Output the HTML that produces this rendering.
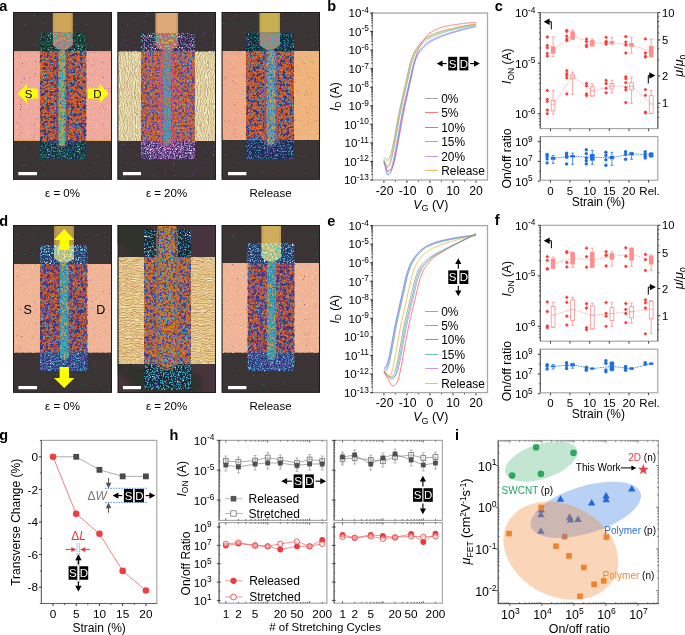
<!DOCTYPE html>
<html><head><meta charset="utf-8"><style>
html,body{margin:0;padding:0;background:#fff;}
svg{display:block;will-change:transform;font-family:"Liberation Sans", sans-serif;}
</style></head><body>
<svg width="685" height="635" viewBox="0 0 685 635">
<defs><filter id="tx1" filterUnits="userSpaceOnUse" x="13" y="12" width="99" height="167.8" color-interpolation-filters="sRGB"><feTurbulence type="fractalNoise" baseFrequency="0.9" numOctaves="1" seed="11" result="t"/><feColorMatrix in="t" type="matrix" values="0 0 0 0 0 0 0 0 0 0 0 0 0 0 0 28.000 0 0 0 -20.476" result="m"/><feFlood flood-color="#2a6a58" result="c"/><feComposite in="c" in2="m" operator="in"/><feGaussianBlur stdDeviation="0.35"/></filter><filter id="tx2" filterUnits="userSpaceOnUse" x="13" y="51" width="99" height="90" color-interpolation-filters="sRGB"><feTurbulence type="fractalNoise" baseFrequency="0.93" numOctaves="1" seed="3" result="t"/><feColorMatrix in="t" type="matrix" values="0 0 0 0 0 0 0 0 0 0 0 0 0 0 0 24.000 0 0 0 -17.326" result="m"/><feFlood flood-color="#9a5a78" result="c"/><feComposite in="c" in2="m" operator="in"/><feGaussianBlur stdDeviation="0.35"/></filter><filter id="tx3" filterUnits="userSpaceOnUse" x="13" y="51" width="99" height="90" color-interpolation-filters="sRGB"><feTurbulence type="fractalNoise" baseFrequency="0.8" numOctaves="1" seed="4" result="t"/><feColorMatrix in="t" type="matrix" values="0 0 0 0 0 0 0 0 0 0 0 0 0 0 0 20.000 0 0 0 -12.446" result="m"/><feFlood flood-color="#f6bcae" result="c"/><feComposite in="c" in2="m" operator="in"/><feGaussianBlur stdDeviation="0.35"/></filter><filter id="tx4" filterUnits="userSpaceOnUse" x="39.9" y="32.5" width="46.50000000000001" height="18.5" color-interpolation-filters="sRGB"><feTurbulence type="fractalNoise" baseFrequency="0.7" numOctaves="2" seed="2" result="t"/><feColorMatrix in="t" type="matrix" values="0 0 0 0 0 0 0 0 0 0 0 0 0 0 0 20.000 0 0 0 -11.104" result="m"/><feFlood flood-color="#2a7a6c" result="c"/><feComposite in="c" in2="m" operator="in"/><feGaussianBlur stdDeviation="0.35"/></filter><filter id="tx5" filterUnits="userSpaceOnUse" x="39.9" y="32.5" width="46.50000000000001" height="18.5" color-interpolation-filters="sRGB"><feTurbulence type="fractalNoise" baseFrequency="0.93" numOctaves="1" seed="7" result="t"/><feColorMatrix in="t" type="matrix" values="0 0 0 0 0 0 0 0 0 0 0 0 0 0 0 24.000 0 0 0 -16.658" result="m"/><feFlood flood-color="#a8e0d0" result="c"/><feComposite in="c" in2="m" operator="in"/><feGaussianBlur stdDeviation="0.35"/></filter><filter id="tx6" filterUnits="userSpaceOnUse" x="39.9" y="32.5" width="46.50000000000001" height="18.5" color-interpolation-filters="sRGB"><feTurbulence type="fractalNoise" baseFrequency="0.8" numOctaves="1" seed="9" result="t"/><feColorMatrix in="t" type="matrix" values="0 0 0 0 0 0 0 0 0 0 0 0 0 0 0 24.000 0 0 0 -15.979" result="m"/><feFlood flood-color="#5a4a90" result="c"/><feComposite in="c" in2="m" operator="in"/><feGaussianBlur stdDeviation="0.35"/></filter><filter id="tx7" filterUnits="userSpaceOnUse" x="39.9" y="51" width="46.50000000000001" height="90" color-interpolation-filters="sRGB"><feTurbulence type="fractalNoise" baseFrequency="0.3" numOctaves="2" seed="5" result="t"/><feColorMatrix in="t" type="matrix" values="0 0 0 0 0 0 0 0 0 0 0 0 0 0 0 18.000 0 0 0 -9.538" result="m"/><feFlood flood-color="#2a3f8a" result="c"/><feComposite in="c" in2="m" operator="in"/><feGaussianBlur stdDeviation="0.35"/></filter><filter id="tx8" filterUnits="userSpaceOnUse" x="39.9" y="51" width="46.50000000000001" height="90" color-interpolation-filters="sRGB"><feTurbulence type="fractalNoise" baseFrequency="0.4" numOctaves="2" seed="9" result="t"/><feColorMatrix in="t" type="matrix" values="0 0 0 0 0 0 0 0 0 0 0 0 0 0 0 20.000 0 0 0 -12.773" result="m"/><feFlood flood-color="#5a3a88" result="c"/><feComposite in="c" in2="m" operator="in"/><feGaussianBlur stdDeviation="0.35"/></filter><filter id="tx9" filterUnits="userSpaceOnUse" x="39.9" y="51" width="46.50000000000001" height="90" color-interpolation-filters="sRGB"><feTurbulence type="fractalNoise" baseFrequency="0.5" numOctaves="2" seed="6" result="t"/><feColorMatrix in="t" type="matrix" values="0 0 0 0 0 0 0 0 0 0 0 0 0 0 0 20.000 0 0 0 -12.773" result="m"/><feFlood flood-color="#33a0aa" result="c"/><feComposite in="c" in2="m" operator="in"/><feGaussianBlur stdDeviation="0.35"/></filter><filter id="tx10" filterUnits="userSpaceOnUse" x="39.9" y="51" width="46.50000000000001" height="90" color-interpolation-filters="sRGB"><feTurbulence type="fractalNoise" baseFrequency="0.6" numOctaves="2" seed="7" result="t"/><feColorMatrix in="t" type="matrix" values="0 0 0 0 0 0 0 0 0 0 0 0 0 0 0 20.000 0 0 0 -12.773" result="m"/><feFlood flood-color="#e8823e" result="c"/><feComposite in="c" in2="m" operator="in"/><feGaussianBlur stdDeviation="0.35"/></filter><filter id="tx11" filterUnits="userSpaceOnUse" x="39.9" y="51" width="46.50000000000001" height="90" color-interpolation-filters="sRGB"><feTurbulence type="fractalNoise" baseFrequency="0.7" numOctaves="2" seed="8" result="t"/><feColorMatrix in="t" type="matrix" values="0 0 0 0 0 0 0 0 0 0 0 0 0 0 0 20.000 0 0 0 -13.316" result="m"/><feFlood flood-color="#6a2448" result="c"/><feComposite in="c" in2="m" operator="in"/><feGaussianBlur stdDeviation="0.35"/></filter><filter id="tx12" filterUnits="userSpaceOnUse" x="39.9" y="141" width="46.50000000000001" height="18.30000000000001" color-interpolation-filters="sRGB"><feTurbulence type="fractalNoise" baseFrequency="0.7" numOctaves="2" seed="12" result="t"/><feColorMatrix in="t" type="matrix" values="0 0 0 0 0 0 0 0 0 0 0 0 0 0 0 20.000 0 0 0 -10.973" result="m"/><feFlood flood-color="#2a8a84" result="c"/><feComposite in="c" in2="m" operator="in"/><feGaussianBlur stdDeviation="0.35"/></filter><filter id="tx13" filterUnits="userSpaceOnUse" x="39.9" y="141" width="46.50000000000001" height="18.30000000000001" color-interpolation-filters="sRGB"><feTurbulence type="fractalNoise" baseFrequency="0.7" numOctaves="2" seed="13" result="t"/><feColorMatrix in="t" type="matrix" values="0 0 0 0 0 0 0 0 0 0 0 0 0 0 0 20.000 0 0 0 -11.986" result="m"/><feFlood flood-color="#2c4494" result="c"/><feComposite in="c" in2="m" operator="in"/><feGaussianBlur stdDeviation="0.35"/></filter><filter id="tx14" filterUnits="userSpaceOnUse" x="39.9" y="141" width="46.50000000000001" height="18.30000000000001" color-interpolation-filters="sRGB"><feTurbulence type="fractalNoise" baseFrequency="0.93" numOctaves="1" seed="14" result="t"/><feColorMatrix in="t" type="matrix" values="0 0 0 0 0 0 0 0 0 0 0 0 0 0 0 24.000 0 0 0 -16.958" result="m"/><feFlood flood-color="#90d0e0" result="c"/><feComposite in="c" in2="m" operator="in"/><feGaussianBlur stdDeviation="0.35"/></filter><filter id="tx15" filterUnits="userSpaceOnUse" x="52.8" y="32.5" width="20.0" height="22.5" color-interpolation-filters="sRGB"><feTurbulence type="fractalNoise" baseFrequency="0.5" numOctaves="2" seed="15" result="t"/><feColorMatrix in="t" type="matrix" values="0 0 0 0 0 0 0 0 0 0 0 0 0 0 0 20.000 0 0 0 -10.909" result="m"/><feFlood flood-color="#40b0a0" result="c"/><feComposite in="c" in2="m" operator="in"/><feGaussianBlur stdDeviation="0.35"/></filter><filter id="tx16" filterUnits="userSpaceOnUse" x="52.8" y="32.5" width="20.0" height="22.5" color-interpolation-filters="sRGB"><feTurbulence type="fractalNoise" baseFrequency="0.5" numOctaves="2" seed="16" result="t"/><feColorMatrix in="t" type="matrix" values="0 0 0 0 0 0 0 0 0 0 0 0 0 0 0 20.000 0 0 0 -11.986" result="m"/><feFlood flood-color="#e070a0" result="c"/><feComposite in="c" in2="m" operator="in"/><feGaussianBlur stdDeviation="0.35"/></filter><filter id="tx17" filterUnits="userSpaceOnUse" x="52.8" y="32.5" width="20.0" height="22.5" color-interpolation-filters="sRGB"><feTurbulence type="fractalNoise" baseFrequency="0.5" numOctaves="2" seed="17" result="t"/><feColorMatrix in="t" type="matrix" values="0 0 0 0 0 0 0 0 0 0 0 0 0 0 0 20.000 0 0 0 -11.986" result="m"/><feFlood flood-color="#e0a040" result="c"/><feComposite in="c" in2="m" operator="in"/><feGaussianBlur stdDeviation="0.35"/></filter><filter id="tx18" filterUnits="userSpaceOnUse" x="58.4" y="50" width="7.199999999999996" height="96" color-interpolation-filters="sRGB"><feTurbulence type="fractalNoise" baseFrequency="0.5 0.3" numOctaves="2" seed="18" result="t"/><feColorMatrix in="t" type="matrix" values="0 0 0 0 0 0 0 0 0 0 0 0 0 0 0 20.000 0 0 0 -10.297" result="m"/><feFlood flood-color="#30b0a0" result="c"/><feComposite in="c" in2="m" operator="in"/><feGaussianBlur stdDeviation="0.35"/></filter><filter id="tx19" filterUnits="userSpaceOnUse" x="58.4" y="50" width="7.199999999999996" height="96" color-interpolation-filters="sRGB"><feTurbulence type="fractalNoise" baseFrequency="0.7" numOctaves="2" seed="19" result="t"/><feColorMatrix in="t" type="matrix" values="0 0 0 0 0 0 0 0 0 0 0 0 0 0 0 20.000 0 0 0 -12.773" result="m"/><feFlood flood-color="#2a5a9a" result="c"/><feComposite in="c" in2="m" operator="in"/><feGaussianBlur stdDeviation="0.35"/></filter><filter id="tx20" filterUnits="userSpaceOnUse" x="117.4" y="12" width="98.6" height="167.8" color-interpolation-filters="sRGB"><feTurbulence type="fractalNoise" baseFrequency="0.9" numOctaves="1" seed="23" result="t"/><feColorMatrix in="t" type="matrix" values="0 0 0 0 0 0 0 0 0 0 0 0 0 0 0 28.000 0 0 0 -20.214" result="m"/><feFlood flood-color="#7a4a9a" result="c"/><feComposite in="c" in2="m" operator="in"/><feGaussianBlur stdDeviation="0.35"/></filter><filter id="tx21" filterUnits="userSpaceOnUse" x="117.4" y="51.6" width="98.6" height="89.4" color-interpolation-filters="sRGB"><feTurbulence type="fractalNoise" baseFrequency="0.93 0.14" numOctaves="2" seed="24" result="t"/><feColorMatrix in="t" type="matrix" values="0 0 0 0 0 0 0 0 0 0 0 0 0 0 0 20.000 0 0 0 -11.986" result="m"/><feFlood flood-color="#e8cc98" result="c"/><feComposite in="c" in2="m" operator="in"/><feGaussianBlur stdDeviation="0.35"/></filter><filter id="tx22" filterUnits="userSpaceOnUse" x="117.4" y="51.6" width="98.6" height="89.4" color-interpolation-filters="sRGB"><feTurbulence type="fractalNoise" baseFrequency="0.93 0.2" numOctaves="1" seed="26" result="t"/><feColorMatrix in="t" type="matrix" values="0 0 0 0 0 0 0 0 0 0 0 0 0 0 0 20.000 0 0 0 -12.446" result="m"/><feFlood flood-color="#faf4dc" result="c"/><feComposite in="c" in2="m" operator="in"/><feGaussianBlur stdDeviation="0.35"/></filter><pattern id="pla2" width="2.7" height="6" patternUnits="userSpaceOnUse"><rect width="0.9" height="6" fill="#8a6a60"/></pattern><filter id="wva2" filterUnits="userSpaceOnUse" x="117.4" y="51.6" width="98.6" height="89.4"><feTurbulence type="fractalNoise" baseFrequency="0.08 0.16" numOctaves="2" seed="7" result="t"/><feDisplacementMap in="SourceGraphic" in2="t" scale="7" xChannelSelector="R" yChannelSelector="G"/></filter><filter id="tx23" filterUnits="userSpaceOnUse" x="141" y="33" width="54" height="18.6" color-interpolation-filters="sRGB"><feTurbulence type="fractalNoise" baseFrequency="0.7" numOctaves="2" seed="26" result="t"/><feColorMatrix in="t" type="matrix" values="0 0 0 0 0 0 0 0 0 0 0 0 0 0 0 20.000 0 0 0 -11.238" result="m"/><feFlood flood-color="#8a6ab0" result="c"/><feComposite in="c" in2="m" operator="in"/><feGaussianBlur stdDeviation="0.35"/></filter><filter id="tx24" filterUnits="userSpaceOnUse" x="141" y="33" width="54" height="18.6" color-interpolation-filters="sRGB"><feTurbulence type="fractalNoise" baseFrequency="0.7" numOctaves="2" seed="27" result="t"/><feColorMatrix in="t" type="matrix" values="0 0 0 0 0 0 0 0 0 0 0 0 0 0 0 20.000 0 0 0 -11.986" result="m"/><feFlood flood-color="#3aa0a8" result="c"/><feComposite in="c" in2="m" operator="in"/><feGaussianBlur stdDeviation="0.35"/></filter><filter id="tx25" filterUnits="userSpaceOnUse" x="141" y="33" width="54" height="18.6" color-interpolation-filters="sRGB"><feTurbulence type="fractalNoise" baseFrequency="0.93" numOctaves="1" seed="28" result="t"/><feColorMatrix in="t" type="matrix" values="0 0 0 0 0 0 0 0 0 0 0 0 0 0 0 24.000 0 0 0 -16.403" result="m"/><feFlood flood-color="#e0e0f0" result="c"/><feComposite in="c" in2="m" operator="in"/><feGaussianBlur stdDeviation="0.35"/></filter><filter id="tx26" filterUnits="userSpaceOnUse" x="141" y="51.6" width="54" height="89.4" color-interpolation-filters="sRGB"><feTurbulence type="fractalNoise" baseFrequency="0.4" numOctaves="3" seed="29" result="t"/><feColorMatrix in="t" type="matrix" values="0 0 0 0 0 0 0 0 0 0 0 0 0 0 0 18.000 0 0 0 -9.538" result="m"/><feFlood flood-color="#4448a8" result="c"/><feComposite in="c" in2="m" operator="in"/><feGaussianBlur stdDeviation="0.35"/></filter><filter id="tx27" filterUnits="userSpaceOnUse" x="141" y="51.6" width="54" height="89.4" color-interpolation-filters="sRGB"><feTurbulence type="fractalNoise" baseFrequency="0.6" numOctaves="2" seed="30" result="t"/><feColorMatrix in="t" type="matrix" values="0 0 0 0 0 0 0 0 0 0 0 0 0 0 0 20.000 0 0 0 -12.550" result="m"/><feFlood flood-color="#9a3a88" result="c"/><feComposite in="c" in2="m" operator="in"/><feGaussianBlur stdDeviation="0.35"/></filter><filter id="tx28" filterUnits="userSpaceOnUse" x="141" y="51.6" width="54" height="89.4" color-interpolation-filters="sRGB"><feTurbulence type="fractalNoise" baseFrequency="0.7" numOctaves="2" seed="31" result="t"/><feColorMatrix in="t" type="matrix" values="0 0 0 0 0 0 0 0 0 0 0 0 0 0 0 20.000 0 0 0 -13.483" result="m"/><feFlood flood-color="#40b0c0" result="c"/><feComposite in="c" in2="m" operator="in"/><feGaussianBlur stdDeviation="0.35"/></filter><filter id="tx29" filterUnits="userSpaceOnUse" x="141" y="51.6" width="54" height="89.4" color-interpolation-filters="sRGB"><feTurbulence type="fractalNoise" baseFrequency="0.7" numOctaves="2" seed="32" result="t"/><feColorMatrix in="t" type="matrix" values="0 0 0 0 0 0 0 0 0 0 0 0 0 0 0 20.000 0 0 0 -13.024" result="m"/><feFlood flood-color="#e09048" result="c"/><feComposite in="c" in2="m" operator="in"/><feGaussianBlur stdDeviation="0.35"/></filter><filter id="tx30" filterUnits="userSpaceOnUse" x="141" y="141" width="54" height="18.30000000000001" color-interpolation-filters="sRGB"><feTurbulence type="fractalNoise" baseFrequency="0.7" numOctaves="2" seed="33" result="t"/><feColorMatrix in="t" type="matrix" values="0 0 0 0 0 0 0 0 0 0 0 0 0 0 0 20.000 0 0 0 -10.909" result="m"/><feFlood flood-color="#d090d0" result="c"/><feComposite in="c" in2="m" operator="in"/><feGaussianBlur stdDeviation="0.35"/></filter><filter id="tx31" filterUnits="userSpaceOnUse" x="141" y="141" width="54" height="18.30000000000001" color-interpolation-filters="sRGB"><feTurbulence type="fractalNoise" baseFrequency="0.7" numOctaves="2" seed="34" result="t"/><feColorMatrix in="t" type="matrix" values="0 0 0 0 0 0 0 0 0 0 0 0 0 0 0 20.000 0 0 0 -11.238" result="m"/><feFlood flood-color="#302a58" result="c"/><feComposite in="c" in2="m" operator="in"/><feGaussianBlur stdDeviation="0.35"/></filter><filter id="tx32" filterUnits="userSpaceOnUse" x="141" y="141" width="54" height="18.30000000000001" color-interpolation-filters="sRGB"><feTurbulence type="fractalNoise" baseFrequency="0.93" numOctaves="1" seed="35" result="t"/><feColorMatrix in="t" type="matrix" values="0 0 0 0 0 0 0 0 0 0 0 0 0 0 0 24.000 0 0 0 -16.179" result="m"/><feFlood flood-color="#e8e8f8" result="c"/><feComposite in="c" in2="m" operator="in"/><feGaussianBlur stdDeviation="0.35"/></filter><filter id="tx33" filterUnits="userSpaceOnUse" x="155.4" y="33" width="22.599999999999994" height="22.6" color-interpolation-filters="sRGB"><feTurbulence type="fractalNoise" baseFrequency="0.5" numOctaves="2" seed="36" result="t"/><feColorMatrix in="t" type="matrix" values="0 0 0 0 0 0 0 0 0 0 0 0 0 0 0 20.000 0 0 0 -11.238" result="m"/><feFlood flood-color="#60c0a0" result="c"/><feComposite in="c" in2="m" operator="in"/><feGaussianBlur stdDeviation="0.35"/></filter><filter id="tx34" filterUnits="userSpaceOnUse" x="155.4" y="33" width="22.599999999999994" height="22.6" color-interpolation-filters="sRGB"><feTurbulence type="fractalNoise" baseFrequency="0.5" numOctaves="2" seed="37" result="t"/><feColorMatrix in="t" type="matrix" values="0 0 0 0 0 0 0 0 0 0 0 0 0 0 0 20.000 0 0 0 -11.986" result="m"/><feFlood flood-color="#e0c040" result="c"/><feComposite in="c" in2="m" operator="in"/><feGaussianBlur stdDeviation="0.35"/></filter><filter id="tx35" filterUnits="userSpaceOnUse" x="162.5" y="50" width="8.5" height="96" color-interpolation-filters="sRGB"><feTurbulence type="fractalNoise" baseFrequency="0.6" numOctaves="2" seed="38" result="t"/><feColorMatrix in="t" type="matrix" values="0 0 0 0 0 0 0 0 0 0 0 0 0 0 0 20.000 0 0 0 -10.909" result="m"/><feFlood flood-color="#30b0b0" result="c"/><feComposite in="c" in2="m" operator="in"/><feGaussianBlur stdDeviation="0.35"/></filter><filter id="tx36" filterUnits="userSpaceOnUse" x="162.5" y="50" width="8.5" height="96" color-interpolation-filters="sRGB"><feTurbulence type="fractalNoise" baseFrequency="0.6" numOctaves="2" seed="39" result="t"/><feColorMatrix in="t" type="matrix" values="0 0 0 0 0 0 0 0 0 0 0 0 0 0 0 20.000 0 0 0 -11.986" result="m"/><feFlood flood-color="#d08040" result="c"/><feComposite in="c" in2="m" operator="in"/><feGaussianBlur stdDeviation="0.35"/></filter><filter id="tx37" filterUnits="userSpaceOnUse" x="221.6" y="12" width="98.4" height="167.8" color-interpolation-filters="sRGB"><feTurbulence type="fractalNoise" baseFrequency="0.9" numOctaves="1" seed="11" result="t"/><feColorMatrix in="t" type="matrix" values="0 0 0 0 0 0 0 0 0 0 0 0 0 0 0 28.000 0 0 0 -20.476" result="m"/><feFlood flood-color="#2a6a58" result="c"/><feComposite in="c" in2="m" operator="in"/><feGaussianBlur stdDeviation="0.35"/></filter><filter id="tx38" filterUnits="userSpaceOnUse" x="221.6" y="51" width="98.4" height="89" color-interpolation-filters="sRGB"><feTurbulence type="fractalNoise" baseFrequency="0.93" numOctaves="1" seed="41" result="t"/><feColorMatrix in="t" type="matrix" values="0 0 0 0 0 0 0 0 0 0 0 0 0 0 0 24.000 0 0 0 -16.658" result="m"/><feFlood flood-color="#a06a70" result="c"/><feComposite in="c" in2="m" operator="in"/><feGaussianBlur stdDeviation="0.35"/></filter><filter id="tx39" filterUnits="userSpaceOnUse" x="221.6" y="51" width="98.4" height="89" color-interpolation-filters="sRGB"><feTurbulence type="fractalNoise" baseFrequency="0.8" numOctaves="1" seed="42" result="t"/><feColorMatrix in="t" type="matrix" values="0 0 0 0 0 0 0 0 0 0 0 0 0 0 0 20.000 0 0 0 -12.446" result="m"/><feFlood flood-color="#f6c49a" result="c"/><feComposite in="c" in2="m" operator="in"/><feGaussianBlur stdDeviation="0.35"/></filter><linearGradient id="bga3" x1="0" x2="1" y1="0" y2="0"><stop offset="0" stop-color="#f0a0a0" stop-opacity="0.35"/><stop offset="1" stop-color="#f0c060" stop-opacity="0.35"/></linearGradient><filter id="tx40" filterUnits="userSpaceOnUse" x="246" y="32.5" width="48" height="18.5" color-interpolation-filters="sRGB"><feTurbulence type="fractalNoise" baseFrequency="0.7" numOctaves="2" seed="43" result="t"/><feColorMatrix in="t" type="matrix" values="0 0 0 0 0 0 0 0 0 0 0 0 0 0 0 20.000 0 0 0 -11.238" result="m"/><feFlood flood-color="#2a8090" result="c"/><feComposite in="c" in2="m" operator="in"/><feGaussianBlur stdDeviation="0.35"/></filter><filter id="tx41" filterUnits="userSpaceOnUse" x="246" y="32.5" width="48" height="18.5" color-interpolation-filters="sRGB"><feTurbulence type="fractalNoise" baseFrequency="0.93" numOctaves="1" seed="44" result="t"/><feColorMatrix in="t" type="matrix" values="0 0 0 0 0 0 0 0 0 0 0 0 0 0 0 24.000 0 0 0 -16.958" result="m"/><feFlood flood-color="#a0e0e0" result="c"/><feComposite in="c" in2="m" operator="in"/><feGaussianBlur stdDeviation="0.35"/></filter><filter id="tx42" filterUnits="userSpaceOnUse" x="246" y="32.5" width="48" height="18.5" color-interpolation-filters="sRGB"><feTurbulence type="fractalNoise" baseFrequency="0.8" numOctaves="1" seed="45" result="t"/><feColorMatrix in="t" type="matrix" values="0 0 0 0 0 0 0 0 0 0 0 0 0 0 0 24.000 0 0 0 -15.328" result="m"/><feFlood flood-color="#4a3a90" result="c"/><feComposite in="c" in2="m" operator="in"/><feGaussianBlur stdDeviation="0.35"/></filter><filter id="tx43" filterUnits="userSpaceOnUse" x="246" y="51" width="48" height="89" color-interpolation-filters="sRGB"><feTurbulence type="fractalNoise" baseFrequency="0.3" numOctaves="2" seed="53" result="t"/><feColorMatrix in="t" type="matrix" values="0 0 0 0 0 0 0 0 0 0 0 0 0 0 0 18.000 0 0 0 -9.649" result="m"/><feFlood flood-color="#2a3f8a" result="c"/><feComposite in="c" in2="m" operator="in"/><feGaussianBlur stdDeviation="0.35"/></filter><filter id="tx44" filterUnits="userSpaceOnUse" x="246" y="51" width="48" height="89" color-interpolation-filters="sRGB"><feTurbulence type="fractalNoise" baseFrequency="0.4" numOctaves="2" seed="57" result="t"/><feColorMatrix in="t" type="matrix" values="0 0 0 0 0 0 0 0 0 0 0 0 0 0 0 20.000 0 0 0 -12.773" result="m"/><feFlood flood-color="#5a3a88" result="c"/><feComposite in="c" in2="m" operator="in"/><feGaussianBlur stdDeviation="0.35"/></filter><filter id="tx45" filterUnits="userSpaceOnUse" x="246" y="51" width="48" height="89" color-interpolation-filters="sRGB"><feTurbulence type="fractalNoise" baseFrequency="0.5" numOctaves="2" seed="54" result="t"/><feColorMatrix in="t" type="matrix" values="0 0 0 0 0 0 0 0 0 0 0 0 0 0 0 20.000 0 0 0 -12.773" result="m"/><feFlood flood-color="#33a0aa" result="c"/><feComposite in="c" in2="m" operator="in"/><feGaussianBlur stdDeviation="0.35"/></filter><filter id="tx46" filterUnits="userSpaceOnUse" x="246" y="51" width="48" height="89" color-interpolation-filters="sRGB"><feTurbulence type="fractalNoise" baseFrequency="0.6" numOctaves="2" seed="55" result="t"/><feColorMatrix in="t" type="matrix" values="0 0 0 0 0 0 0 0 0 0 0 0 0 0 0 20.000 0 0 0 -12.773" result="m"/><feFlood flood-color="#e8823e" result="c"/><feComposite in="c" in2="m" operator="in"/><feGaussianBlur stdDeviation="0.35"/></filter><filter id="tx47" filterUnits="userSpaceOnUse" x="246" y="51" width="48" height="89" color-interpolation-filters="sRGB"><feTurbulence type="fractalNoise" baseFrequency="0.7" numOctaves="2" seed="56" result="t"/><feColorMatrix in="t" type="matrix" values="0 0 0 0 0 0 0 0 0 0 0 0 0 0 0 20.000 0 0 0 -13.316" result="m"/><feFlood flood-color="#6a2448" result="c"/><feComposite in="c" in2="m" operator="in"/><feGaussianBlur stdDeviation="0.35"/></filter><filter id="tx48" filterUnits="userSpaceOnUse" x="246" y="140" width="48" height="19.30000000000001" color-interpolation-filters="sRGB"><feTurbulence type="fractalNoise" baseFrequency="0.7" numOctaves="2" seed="46" result="t"/><feColorMatrix in="t" type="matrix" values="0 0 0 0 0 0 0 0 0 0 0 0 0 0 0 20.000 0 0 0 -11.238" result="m"/><feFlood flood-color="#2f8a9a" result="c"/><feComposite in="c" in2="m" operator="in"/><feGaussianBlur stdDeviation="0.35"/></filter><filter id="tx49" filterUnits="userSpaceOnUse" x="246" y="140" width="48" height="19.30000000000001" color-interpolation-filters="sRGB"><feTurbulence type="fractalNoise" baseFrequency="0.7" numOctaves="2" seed="47" result="t"/><feColorMatrix in="t" type="matrix" values="0 0 0 0 0 0 0 0 0 0 0 0 0 0 0 20.000 0 0 0 -12.160" result="m"/><feFlood flood-color="#5a4a98" result="c"/><feComposite in="c" in2="m" operator="in"/><feGaussianBlur stdDeviation="0.35"/></filter><filter id="tx50" filterUnits="userSpaceOnUse" x="246" y="140" width="48" height="19.30000000000001" color-interpolation-filters="sRGB"><feTurbulence type="fractalNoise" baseFrequency="0.93" numOctaves="1" seed="48" result="t"/><feColorMatrix in="t" type="matrix" values="0 0 0 0 0 0 0 0 0 0 0 0 0 0 0 24.000 0 0 0 -16.958" result="m"/><feFlood flood-color="#90d0e0" result="c"/><feComposite in="c" in2="m" operator="in"/><feGaussianBlur stdDeviation="0.35"/></filter><filter id="tx51" filterUnits="userSpaceOnUse" x="259.4" y="32.5" width="20.600000000000023" height="22.5" color-interpolation-filters="sRGB"><feTurbulence type="fractalNoise" baseFrequency="0.5" numOctaves="2" seed="49" result="t"/><feColorMatrix in="t" type="matrix" values="0 0 0 0 0 0 0 0 0 0 0 0 0 0 0 20.000 0 0 0 -10.909" result="m"/><feFlood flood-color="#40b0b0" result="c"/><feComposite in="c" in2="m" operator="in"/><feGaussianBlur stdDeviation="0.35"/></filter><filter id="tx52" filterUnits="userSpaceOnUse" x="259.4" y="32.5" width="20.600000000000023" height="22.5" color-interpolation-filters="sRGB"><feTurbulence type="fractalNoise" baseFrequency="0.5" numOctaves="2" seed="50" result="t"/><feColorMatrix in="t" type="matrix" values="0 0 0 0 0 0 0 0 0 0 0 0 0 0 0 20.000 0 0 0 -12.160" result="m"/><feFlood flood-color="#d070a0" result="c"/><feComposite in="c" in2="m" operator="in"/><feGaussianBlur stdDeviation="0.35"/></filter><filter id="tx53" filterUnits="userSpaceOnUse" x="266.6" y="50" width="9.0" height="95" color-interpolation-filters="sRGB"><feTurbulence type="fractalNoise" baseFrequency="0.5 0.3" numOctaves="2" seed="51" result="t"/><feColorMatrix in="t" type="matrix" values="0 0 0 0 0 0 0 0 0 0 0 0 0 0 0 20.000 0 0 0 -10.909" result="m"/><feFlood flood-color="#c0a060" result="c"/><feComposite in="c" in2="m" operator="in"/><feGaussianBlur stdDeviation="0.35"/></filter><filter id="tx54" filterUnits="userSpaceOnUse" x="266.6" y="50" width="9.0" height="95" color-interpolation-filters="sRGB"><feTurbulence type="fractalNoise" baseFrequency="0.7" numOctaves="2" seed="52" result="t"/><feColorMatrix in="t" type="matrix" values="0 0 0 0 0 0 0 0 0 0 0 0 0 0 0 20.000 0 0 0 -12.446" result="m"/><feFlood flood-color="#2a5aa0" result="c"/><feComposite in="c" in2="m" operator="in"/><feGaussianBlur stdDeviation="0.35"/></filter><filter id="tx55" filterUnits="userSpaceOnUse" x="13" y="225" width="99" height="167.8" color-interpolation-filters="sRGB"><feTurbulence type="fractalNoise" baseFrequency="0.9" numOctaves="1" seed="11" result="t"/><feColorMatrix in="t" type="matrix" values="0 0 0 0 0 0 0 0 0 0 0 0 0 0 0 28.000 0 0 0 -20.476" result="m"/><feFlood flood-color="#2a6a58" result="c"/><feComposite in="c" in2="m" operator="in"/><feGaussianBlur stdDeviation="0.35"/></filter><filter id="tx56" filterUnits="userSpaceOnUse" x="13" y="264" width="99" height="88.60000000000002" color-interpolation-filters="sRGB"><feTurbulence type="fractalNoise" baseFrequency="0.93" numOctaves="1" seed="61" result="t"/><feColorMatrix in="t" type="matrix" values="0 0 0 0 0 0 0 0 0 0 0 0 0 0 0 24.000 0 0 0 -17.551" result="m"/><feFlood flood-color="#8a5a7a" result="c"/><feComposite in="c" in2="m" operator="in"/><feGaussianBlur stdDeviation="0.35"/></filter><filter id="tx57" filterUnits="userSpaceOnUse" x="13" y="264" width="99" height="88.60000000000002" color-interpolation-filters="sRGB"><feTurbulence type="fractalNoise" baseFrequency="0.8" numOctaves="1" seed="62" result="t"/><feColorMatrix in="t" type="matrix" values="0 0 0 0 0 0 0 0 0 0 0 0 0 0 0 20.000 0 0 0 -12.773" result="m"/><feFlood flood-color="#f8caa8" result="c"/><feComposite in="c" in2="m" operator="in"/><feGaussianBlur stdDeviation="0.35"/></filter><filter id="tx58" filterUnits="userSpaceOnUse" x="40" y="245" width="47.400000000000006" height="19" color-interpolation-filters="sRGB"><feTurbulence type="fractalNoise" baseFrequency="0.7" numOctaves="2" seed="63" result="t"/><feColorMatrix in="t" type="matrix" values="0 0 0 0 0 0 0 0 0 0 0 0 0 0 0 20.000 0 0 0 -11.104" result="m"/><feFlood flood-color="#5a9ac0" result="c"/><feComposite in="c" in2="m" operator="in"/><feGaussianBlur stdDeviation="0.35"/></filter><filter id="tx59" filterUnits="userSpaceOnUse" x="40" y="245" width="47.400000000000006" height="19" color-interpolation-filters="sRGB"><feTurbulence type="fractalNoise" baseFrequency="0.93" numOctaves="1" seed="64" result="t"/><feColorMatrix in="t" type="matrix" values="0 0 0 0 0 0 0 0 0 0 0 0 0 0 0 24.000 0 0 0 -15.629" result="m"/><feFlood flood-color="#e0f0f0" result="c"/><feComposite in="c" in2="m" operator="in"/><feGaussianBlur stdDeviation="0.35"/></filter><filter id="tx60" filterUnits="userSpaceOnUse" x="40" y="264" width="47.400000000000006" height="88.60000000000002" color-interpolation-filters="sRGB"><feTurbulence type="fractalNoise" baseFrequency="0.3" numOctaves="2" seed="65" result="t"/><feColorMatrix in="t" type="matrix" values="0 0 0 0 0 0 0 0 0 0 0 0 0 0 0 18.000 0 0 0 -9.429" result="m"/><feFlood flood-color="#2c3c8c" result="c"/><feComposite in="c" in2="m" operator="in"/><feGaussianBlur stdDeviation="0.35"/></filter><filter id="tx61" filterUnits="userSpaceOnUse" x="40" y="264" width="47.400000000000006" height="88.60000000000002" color-interpolation-filters="sRGB"><feTurbulence type="fractalNoise" baseFrequency="0.4" numOctaves="2" seed="69" result="t"/><feColorMatrix in="t" type="matrix" values="0 0 0 0 0 0 0 0 0 0 0 0 0 0 0 20.000 0 0 0 -12.773" result="m"/><feFlood flood-color="#5a3a88" result="c"/><feComposite in="c" in2="m" operator="in"/><feGaussianBlur stdDeviation="0.35"/></filter><filter id="tx62" filterUnits="userSpaceOnUse" x="40" y="264" width="47.400000000000006" height="88.60000000000002" color-interpolation-filters="sRGB"><feTurbulence type="fractalNoise" baseFrequency="0.5" numOctaves="2" seed="66" result="t"/><feColorMatrix in="t" type="matrix" values="0 0 0 0 0 0 0 0 0 0 0 0 0 0 0 20.000 0 0 0 -12.773" result="m"/><feFlood flood-color="#33a0aa" result="c"/><feComposite in="c" in2="m" operator="in"/><feGaussianBlur stdDeviation="0.35"/></filter><filter id="tx63" filterUnits="userSpaceOnUse" x="40" y="264" width="47.400000000000006" height="88.60000000000002" color-interpolation-filters="sRGB"><feTurbulence type="fractalNoise" baseFrequency="0.6" numOctaves="2" seed="67" result="t"/><feColorMatrix in="t" type="matrix" values="0 0 0 0 0 0 0 0 0 0 0 0 0 0 0 20.000 0 0 0 -12.773" result="m"/><feFlood flood-color="#e8823e" result="c"/><feComposite in="c" in2="m" operator="in"/><feGaussianBlur stdDeviation="0.35"/></filter><filter id="tx64" filterUnits="userSpaceOnUse" x="40" y="264" width="47.400000000000006" height="88.60000000000002" color-interpolation-filters="sRGB"><feTurbulence type="fractalNoise" baseFrequency="0.7" numOctaves="2" seed="68" result="t"/><feColorMatrix in="t" type="matrix" values="0 0 0 0 0 0 0 0 0 0 0 0 0 0 0 20.000 0 0 0 -13.316" result="m"/><feFlood flood-color="#6a2448" result="c"/><feComposite in="c" in2="m" operator="in"/><feGaussianBlur stdDeviation="0.35"/></filter><filter id="tx65" filterUnits="userSpaceOnUse" x="40" y="264" width="47.400000000000006" height="88.60000000000002" color-interpolation-filters="sRGB"><feTurbulence type="fractalNoise" baseFrequency="0.35" numOctaves="2" seed="165" result="t"/><feColorMatrix in="t" type="matrix" values="0 0 0 0 0 0 0 0 0 0 0 0 0 0 0 20.000 0 0 0 -12.160" result="m"/><feFlood flood-color="#6a3a8a" result="c"/><feComposite in="c" in2="m" operator="in"/><feGaussianBlur stdDeviation="0.35"/></filter><filter id="tx66" filterUnits="userSpaceOnUse" x="40" y="352.6" width="47.400000000000006" height="18.399999999999977" color-interpolation-filters="sRGB"><feTurbulence type="fractalNoise" baseFrequency="0.7" numOctaves="2" seed="68" result="t"/><feColorMatrix in="t" type="matrix" values="0 0 0 0 0 0 0 0 0 0 0 0 0 0 0 20.000 0 0 0 -10.909" result="m"/><feFlood flood-color="#4a9ac0" result="c"/><feComposite in="c" in2="m" operator="in"/><feGaussianBlur stdDeviation="0.35"/></filter><filter id="tx67" filterUnits="userSpaceOnUse" x="40" y="352.6" width="47.400000000000006" height="18.399999999999977" color-interpolation-filters="sRGB"><feTurbulence type="fractalNoise" baseFrequency="0.7" numOctaves="2" seed="69" result="t"/><feColorMatrix in="t" type="matrix" values="0 0 0 0 0 0 0 0 0 0 0 0 0 0 0 20.000 0 0 0 -11.986" result="m"/><feFlood flood-color="#6a5ab0" result="c"/><feComposite in="c" in2="m" operator="in"/><feGaussianBlur stdDeviation="0.35"/></filter><filter id="tx68" filterUnits="userSpaceOnUse" x="40" y="352.6" width="47.400000000000006" height="18.399999999999977" color-interpolation-filters="sRGB"><feTurbulence type="fractalNoise" baseFrequency="0.93" numOctaves="1" seed="70" result="t"/><feColorMatrix in="t" type="matrix" values="0 0 0 0 0 0 0 0 0 0 0 0 0 0 0 24.000 0 0 0 -16.403" result="m"/><feFlood flood-color="#d0e0f0" result="c"/><feComposite in="c" in2="m" operator="in"/><feGaussianBlur stdDeviation="0.35"/></filter><filter id="tx69" filterUnits="userSpaceOnUse" x="54" y="245" width="20" height="23" color-interpolation-filters="sRGB"><feTurbulence type="fractalNoise" baseFrequency="0.5" numOctaves="2" seed="71" result="t"/><feColorMatrix in="t" type="matrix" values="0 0 0 0 0 0 0 0 0 0 0 0 0 0 0 20.000 0 0 0 -10.909" result="m"/><feFlood flood-color="#60c0c0" result="c"/><feComposite in="c" in2="m" operator="in"/><feGaussianBlur stdDeviation="0.35"/></filter><filter id="tx70" filterUnits="userSpaceOnUse" x="54" y="245" width="20" height="23" color-interpolation-filters="sRGB"><feTurbulence type="fractalNoise" baseFrequency="0.5" numOctaves="2" seed="72" result="t"/><feColorMatrix in="t" type="matrix" values="0 0 0 0 0 0 0 0 0 0 0 0 0 0 0 20.000 0 0 0 -11.592" result="m"/><feFlood flood-color="#f0e0a0" result="c"/><feComposite in="c" in2="m" operator="in"/><feGaussianBlur stdDeviation="0.35"/></filter><filter id="tx71" filterUnits="userSpaceOnUse" x="60" y="262" width="8.599999999999994" height="98" color-interpolation-filters="sRGB"><feTurbulence type="fractalNoise" baseFrequency="0.5 0.3" numOctaves="2" seed="73" result="t"/><feColorMatrix in="t" type="matrix" values="0 0 0 0 0 0 0 0 0 0 0 0 0 0 0 20.000 0 0 0 -10.909" result="m"/><feFlood flood-color="#c0a060" result="c"/><feComposite in="c" in2="m" operator="in"/><feGaussianBlur stdDeviation="0.35"/></filter><filter id="tx72" filterUnits="userSpaceOnUse" x="60" y="262" width="8.599999999999994" height="98" color-interpolation-filters="sRGB"><feTurbulence type="fractalNoise" baseFrequency="0.7" numOctaves="2" seed="74" result="t"/><feColorMatrix in="t" type="matrix" values="0 0 0 0 0 0 0 0 0 0 0 0 0 0 0 20.000 0 0 0 -12.446" result="m"/><feFlood flood-color="#2a6ab0" result="c"/><feComposite in="c" in2="m" operator="in"/><feGaussianBlur stdDeviation="0.35"/></filter><filter id="tx73" filterUnits="userSpaceOnUse" x="117.6" y="225" width="98.4" height="168" color-interpolation-filters="sRGB"><feTurbulence type="fractalNoise" baseFrequency="0.012 0.03" numOctaves="1" seed="81" result="t"/><feColorMatrix in="t" type="matrix" values="0 0 0 0 0 0 0 0 0 0 0 0 0 0 0 12.000 0 0 0 -6.000" result="m"/><feFlood flood-color="#2e3228" result="c"/><feComposite in="c" in2="m" operator="in"/><feGaussianBlur stdDeviation="0.35"/></filter><filter id="tx74" filterUnits="userSpaceOnUse" x="117.6" y="257" width="98.4" height="107" color-interpolation-filters="sRGB"><feTurbulence type="fractalNoise" baseFrequency="0.14 0.93" numOctaves="2" seed="82" result="t"/><feColorMatrix in="t" type="matrix" values="0 0 0 0 0 0 0 0 0 0 0 0 0 0 0 20.000 0 0 0 -11.986" result="m"/><feFlood flood-color="#e4bc80" result="c"/><feComposite in="c" in2="m" operator="in"/><feGaussianBlur stdDeviation="0.35"/></filter><filter id="tx75" filterUnits="userSpaceOnUse" x="117.6" y="257" width="98.4" height="107" color-interpolation-filters="sRGB"><feTurbulence type="fractalNoise" baseFrequency="0.15 0.93" numOctaves="1" seed="84" result="t"/><feColorMatrix in="t" type="matrix" values="0 0 0 0 0 0 0 0 0 0 0 0 0 0 0 20.000 0 0 0 -12.446" result="m"/><feFlood flood-color="#f8f0cc" result="c"/><feComposite in="c" in2="m" operator="in"/><feGaussianBlur stdDeviation="0.35"/></filter><pattern id="pld2" width="6" height="2.6" patternUnits="userSpaceOnUse"><rect width="6" height="0.9" fill="#a05848"/></pattern><filter id="wvd2" filterUnits="userSpaceOnUse" x="117.6" y="257" width="98.4" height="107"><feTurbulence type="fractalNoise" baseFrequency="0.16 0.08" numOctaves="2" seed="7" result="t"/><feDisplacementMap in="SourceGraphic" in2="t" scale="7" xChannelSelector="R" yChannelSelector="G"/></filter><filter id="tx76" filterUnits="userSpaceOnUse" x="144" y="229" width="47" height="28" color-interpolation-filters="sRGB"><feTurbulence type="fractalNoise" baseFrequency="0.7" numOctaves="2" seed="84" result="t"/><feColorMatrix in="t" type="matrix" values="0 0 0 0 0 0 0 0 0 0 0 0 0 0 0 20.000 0 0 0 -11.238" result="m"/><feFlood flood-color="#3aa0b8" result="c"/><feComposite in="c" in2="m" operator="in"/><feGaussianBlur stdDeviation="0.35"/></filter><filter id="tx77" filterUnits="userSpaceOnUse" x="144" y="229" width="47" height="28" color-interpolation-filters="sRGB"><feTurbulence type="fractalNoise" baseFrequency="0.93" numOctaves="1" seed="85" result="t"/><feColorMatrix in="t" type="matrix" values="0 0 0 0 0 0 0 0 0 0 0 0 0 0 0 24.000 0 0 0 -16.403" result="m"/><feFlood flood-color="#e0f0f0" result="c"/><feComposite in="c" in2="m" operator="in"/><feGaussianBlur stdDeviation="0.35"/></filter><filter id="tx78" filterUnits="userSpaceOnUse" x="144" y="229" width="47" height="28" color-interpolation-filters="sRGB"><feTurbulence type="fractalNoise" baseFrequency="0.7" numOctaves="2" seed="86" result="t"/><feColorMatrix in="t" type="matrix" values="0 0 0 0 0 0 0 0 0 0 0 0 0 0 0 20.000 0 0 0 -12.446" result="m"/><feFlood flood-color="#3050a0" result="c"/><feComposite in="c" in2="m" operator="in"/><feGaussianBlur stdDeviation="0.35"/></filter><filter id="tx79" filterUnits="userSpaceOnUse" x="144" y="257" width="47" height="107" color-interpolation-filters="sRGB"><feTurbulence type="fractalNoise" baseFrequency="0.3" numOctaves="2" seed="87" result="t"/><feColorMatrix in="t" type="matrix" values="0 0 0 0 0 0 0 0 0 0 0 0 0 0 0 18.000 0 0 0 -9.429" result="m"/><feFlood flood-color="#3a48a8" result="c"/><feComposite in="c" in2="m" operator="in"/><feGaussianBlur stdDeviation="0.35"/></filter><filter id="tx80" filterUnits="userSpaceOnUse" x="144" y="257" width="47" height="107" color-interpolation-filters="sRGB"><feTurbulence type="fractalNoise" baseFrequency="0.4" numOctaves="2" seed="91" result="t"/><feColorMatrix in="t" type="matrix" values="0 0 0 0 0 0 0 0 0 0 0 0 0 0 0 20.000 0 0 0 -12.773" result="m"/><feFlood flood-color="#5a3a88" result="c"/><feComposite in="c" in2="m" operator="in"/><feGaussianBlur stdDeviation="0.35"/></filter><filter id="tx81" filterUnits="userSpaceOnUse" x="144" y="257" width="47" height="107" color-interpolation-filters="sRGB"><feTurbulence type="fractalNoise" baseFrequency="0.5" numOctaves="2" seed="88" result="t"/><feColorMatrix in="t" type="matrix" values="0 0 0 0 0 0 0 0 0 0 0 0 0 0 0 20.000 0 0 0 -12.773" result="m"/><feFlood flood-color="#33a0aa" result="c"/><feComposite in="c" in2="m" operator="in"/><feGaussianBlur stdDeviation="0.35"/></filter><filter id="tx82" filterUnits="userSpaceOnUse" x="144" y="257" width="47" height="107" color-interpolation-filters="sRGB"><feTurbulence type="fractalNoise" baseFrequency="0.6" numOctaves="2" seed="89" result="t"/><feColorMatrix in="t" type="matrix" values="0 0 0 0 0 0 0 0 0 0 0 0 0 0 0 20.000 0 0 0 -12.773" result="m"/><feFlood flood-color="#e8823e" result="c"/><feComposite in="c" in2="m" operator="in"/><feGaussianBlur stdDeviation="0.35"/></filter><filter id="tx83" filterUnits="userSpaceOnUse" x="144" y="257" width="47" height="107" color-interpolation-filters="sRGB"><feTurbulence type="fractalNoise" baseFrequency="0.7" numOctaves="2" seed="90" result="t"/><feColorMatrix in="t" type="matrix" values="0 0 0 0 0 0 0 0 0 0 0 0 0 0 0 20.000 0 0 0 -13.316" result="m"/><feFlood flood-color="#6a2448" result="c"/><feComposite in="c" in2="m" operator="in"/><feGaussianBlur stdDeviation="0.35"/></filter><filter id="tx84" filterUnits="userSpaceOnUse" x="144" y="364" width="47" height="26" color-interpolation-filters="sRGB"><feTurbulence type="fractalNoise" baseFrequency="0.6 0.9" numOctaves="2" seed="90" result="t"/><feColorMatrix in="t" type="matrix" values="0 0 0 0 0 0 0 0 0 0 0 0 0 0 0 20.000 0 0 0 -11.038" result="m"/><feFlood flood-color="#3aa6bc" result="c"/><feComposite in="c" in2="m" operator="in"/><feGaussianBlur stdDeviation="0.35"/></filter><filter id="tx85" filterUnits="userSpaceOnUse" x="144" y="364" width="47" height="26" color-interpolation-filters="sRGB"><feTurbulence type="fractalNoise" baseFrequency="0.93" numOctaves="1" seed="91" result="t"/><feColorMatrix in="t" type="matrix" values="0 0 0 0 0 0 0 0 0 0 0 0 0 0 0 24.000 0 0 0 -16.403" result="m"/><feFlood flood-color="#d0e0f0" result="c"/><feComposite in="c" in2="m" operator="in"/><feGaussianBlur stdDeviation="0.35"/></filter><filter id="tx86" filterUnits="userSpaceOnUse" x="144" y="364" width="47" height="26" color-interpolation-filters="sRGB"><feTurbulence type="fractalNoise" baseFrequency="0.7" numOctaves="2" seed="93" result="t"/><feColorMatrix in="t" type="matrix" values="0 0 0 0 0 0 0 0 0 0 0 0 0 0 0 20.000 0 0 0 -12.773" result="m"/><feFlood flood-color="#4a5aa8" result="c"/><feComposite in="c" in2="m" operator="in"/><feGaussianBlur stdDeviation="0.35"/></filter><filter id="tx87" filterUnits="userSpaceOnUse" x="158.5" y="226" width="17.0" height="142" color-interpolation-filters="sRGB"><feTurbulence type="fractalNoise" baseFrequency="0.45" numOctaves="2" seed="92" result="t"/><feColorMatrix in="t" type="matrix" values="0 0 0 0 0 0 0 0 0 0 0 0 0 0 0 20.000 0 0 0 -10.721" result="m"/><feFlood flood-color="#3a48a8" result="c"/><feComposite in="c" in2="m" operator="in"/><feGaussianBlur stdDeviation="0.35"/></filter><filter id="tx88" filterUnits="userSpaceOnUse" x="158.5" y="226" width="17.0" height="142" color-interpolation-filters="sRGB"><feTurbulence type="fractalNoise" baseFrequency="0.6" numOctaves="2" seed="94" result="t"/><feColorMatrix in="t" type="matrix" values="0 0 0 0 0 0 0 0 0 0 0 0 0 0 0 20.000 0 0 0 -12.160" result="m"/><feFlood flood-color="#40b0c0" result="c"/><feComposite in="c" in2="m" operator="in"/><feGaussianBlur stdDeviation="0.35"/></filter><filter id="tx89" filterUnits="userSpaceOnUse" x="158.5" y="226" width="17.0" height="142" color-interpolation-filters="sRGB"><feTurbulence type="fractalNoise" baseFrequency="0.6" numOctaves="2" seed="95" result="t"/><feColorMatrix in="t" type="matrix" values="0 0 0 0 0 0 0 0 0 0 0 0 0 0 0 20.000 0 0 0 -13.024" result="m"/><feFlood flood-color="#7a3a80" result="c"/><feComposite in="c" in2="m" operator="in"/><feGaussianBlur stdDeviation="0.35"/></filter><filter id="tx90" filterUnits="userSpaceOnUse" x="221.6" y="225" width="98.4" height="167.8" color-interpolation-filters="sRGB"><feTurbulence type="fractalNoise" baseFrequency="0.9" numOctaves="1" seed="11" result="t"/><feColorMatrix in="t" type="matrix" values="0 0 0 0 0 0 0 0 0 0 0 0 0 0 0 28.000 0 0 0 -20.476" result="m"/><feFlood flood-color="#2a6a58" result="c"/><feComposite in="c" in2="m" operator="in"/><feGaussianBlur stdDeviation="0.35"/></filter><filter id="tx91" filterUnits="userSpaceOnUse" x="221.6" y="263" width="98.4" height="89.60000000000002" color-interpolation-filters="sRGB"><feTurbulence type="fractalNoise" baseFrequency="0.93" numOctaves="1" seed="101" result="t"/><feColorMatrix in="t" type="matrix" values="0 0 0 0 0 0 0 0 0 0 0 0 0 0 0 24.000 0 0 0 -17.551" result="m"/><feFlood flood-color="#8a5a7a" result="c"/><feComposite in="c" in2="m" operator="in"/><feGaussianBlur stdDeviation="0.35"/></filter><filter id="tx92" filterUnits="userSpaceOnUse" x="221.6" y="263" width="98.4" height="89.60000000000002" color-interpolation-filters="sRGB"><feTurbulence type="fractalNoise" baseFrequency="0.8" numOctaves="1" seed="102" result="t"/><feColorMatrix in="t" type="matrix" values="0 0 0 0 0 0 0 0 0 0 0 0 0 0 0 20.000 0 0 0 -12.773" result="m"/><feFlood flood-color="#f8caa8" result="c"/><feComposite in="c" in2="m" operator="in"/><feGaussianBlur stdDeviation="0.35"/></filter><filter id="tx93" filterUnits="userSpaceOnUse" x="247.6" y="243" width="46.79999999999998" height="20" color-interpolation-filters="sRGB"><feTurbulence type="fractalNoise" baseFrequency="0.7" numOctaves="2" seed="103" result="t"/><feColorMatrix in="t" type="matrix" values="0 0 0 0 0 0 0 0 0 0 0 0 0 0 0 20.000 0 0 0 -11.104" result="m"/><feFlood flood-color="#5a9ac0" result="c"/><feComposite in="c" in2="m" operator="in"/><feGaussianBlur stdDeviation="0.35"/></filter><filter id="tx94" filterUnits="userSpaceOnUse" x="247.6" y="243" width="46.79999999999998" height="20" color-interpolation-filters="sRGB"><feTurbulence type="fractalNoise" baseFrequency="0.93" numOctaves="1" seed="104" result="t"/><feColorMatrix in="t" type="matrix" values="0 0 0 0 0 0 0 0 0 0 0 0 0 0 0 24.000 0 0 0 -15.979" result="m"/><feFlood flood-color="#e0f0f0" result="c"/><feComposite in="c" in2="m" operator="in"/><feGaussianBlur stdDeviation="0.35"/></filter><filter id="tx95" filterUnits="userSpaceOnUse" x="247.6" y="263" width="46.79999999999998" height="89.60000000000002" color-interpolation-filters="sRGB"><feTurbulence type="fractalNoise" baseFrequency="0.3" numOctaves="2" seed="105" result="t"/><feColorMatrix in="t" type="matrix" values="0 0 0 0 0 0 0 0 0 0 0 0 0 0 0 18.000 0 0 0 -9.429" result="m"/><feFlood flood-color="#2c3c8c" result="c"/><feComposite in="c" in2="m" operator="in"/><feGaussianBlur stdDeviation="0.35"/></filter><filter id="tx96" filterUnits="userSpaceOnUse" x="247.6" y="263" width="46.79999999999998" height="89.60000000000002" color-interpolation-filters="sRGB"><feTurbulence type="fractalNoise" baseFrequency="0.4" numOctaves="2" seed="109" result="t"/><feColorMatrix in="t" type="matrix" values="0 0 0 0 0 0 0 0 0 0 0 0 0 0 0 20.000 0 0 0 -12.773" result="m"/><feFlood flood-color="#5a3a88" result="c"/><feComposite in="c" in2="m" operator="in"/><feGaussianBlur stdDeviation="0.35"/></filter><filter id="tx97" filterUnits="userSpaceOnUse" x="247.6" y="263" width="46.79999999999998" height="89.60000000000002" color-interpolation-filters="sRGB"><feTurbulence type="fractalNoise" baseFrequency="0.5" numOctaves="2" seed="106" result="t"/><feColorMatrix in="t" type="matrix" values="0 0 0 0 0 0 0 0 0 0 0 0 0 0 0 20.000 0 0 0 -12.773" result="m"/><feFlood flood-color="#33a0aa" result="c"/><feComposite in="c" in2="m" operator="in"/><feGaussianBlur stdDeviation="0.35"/></filter><filter id="tx98" filterUnits="userSpaceOnUse" x="247.6" y="263" width="46.79999999999998" height="89.60000000000002" color-interpolation-filters="sRGB"><feTurbulence type="fractalNoise" baseFrequency="0.6" numOctaves="2" seed="107" result="t"/><feColorMatrix in="t" type="matrix" values="0 0 0 0 0 0 0 0 0 0 0 0 0 0 0 20.000 0 0 0 -12.773" result="m"/><feFlood flood-color="#e8823e" result="c"/><feComposite in="c" in2="m" operator="in"/><feGaussianBlur stdDeviation="0.35"/></filter><filter id="tx99" filterUnits="userSpaceOnUse" x="247.6" y="263" width="46.79999999999998" height="89.60000000000002" color-interpolation-filters="sRGB"><feTurbulence type="fractalNoise" baseFrequency="0.7" numOctaves="2" seed="108" result="t"/><feColorMatrix in="t" type="matrix" values="0 0 0 0 0 0 0 0 0 0 0 0 0 0 0 20.000 0 0 0 -13.316" result="m"/><feFlood flood-color="#6a2448" result="c"/><feComposite in="c" in2="m" operator="in"/><feGaussianBlur stdDeviation="0.35"/></filter><filter id="tx100" filterUnits="userSpaceOnUse" x="247.6" y="263" width="46.79999999999998" height="89.60000000000002" color-interpolation-filters="sRGB"><feTurbulence type="fractalNoise" baseFrequency="0.35" numOctaves="2" seed="205" result="t"/><feColorMatrix in="t" type="matrix" values="0 0 0 0 0 0 0 0 0 0 0 0 0 0 0 20.000 0 0 0 -12.160" result="m"/><feFlood flood-color="#6a3a8a" result="c"/><feComposite in="c" in2="m" operator="in"/><feGaussianBlur stdDeviation="0.35"/></filter><filter id="tx101" filterUnits="userSpaceOnUse" x="247.6" y="352.6" width="46.79999999999998" height="18.399999999999977" color-interpolation-filters="sRGB"><feTurbulence type="fractalNoise" baseFrequency="0.7" numOctaves="2" seed="108" result="t"/><feColorMatrix in="t" type="matrix" values="0 0 0 0 0 0 0 0 0 0 0 0 0 0 0 20.000 0 0 0 -10.909" result="m"/><feFlood flood-color="#4a9ac0" result="c"/><feComposite in="c" in2="m" operator="in"/><feGaussianBlur stdDeviation="0.35"/></filter><filter id="tx102" filterUnits="userSpaceOnUse" x="247.6" y="352.6" width="46.79999999999998" height="18.399999999999977" color-interpolation-filters="sRGB"><feTurbulence type="fractalNoise" baseFrequency="0.7" numOctaves="2" seed="109" result="t"/><feColorMatrix in="t" type="matrix" values="0 0 0 0 0 0 0 0 0 0 0 0 0 0 0 20.000 0 0 0 -11.986" result="m"/><feFlood flood-color="#6a5ab0" result="c"/><feComposite in="c" in2="m" operator="in"/><feGaussianBlur stdDeviation="0.35"/></filter><filter id="tx103" filterUnits="userSpaceOnUse" x="247.6" y="352.6" width="46.79999999999998" height="18.399999999999977" color-interpolation-filters="sRGB"><feTurbulence type="fractalNoise" baseFrequency="0.93" numOctaves="1" seed="110" result="t"/><feColorMatrix in="t" type="matrix" values="0 0 0 0 0 0 0 0 0 0 0 0 0 0 0 24.000 0 0 0 -16.658" result="m"/><feFlood flood-color="#d0e0f0" result="c"/><feComposite in="c" in2="m" operator="in"/><feGaussianBlur stdDeviation="0.35"/></filter><filter id="tx104" filterUnits="userSpaceOnUse" x="261.4" y="243" width="19.600000000000023" height="24" color-interpolation-filters="sRGB"><feTurbulence type="fractalNoise" baseFrequency="0.5" numOctaves="2" seed="111" result="t"/><feColorMatrix in="t" type="matrix" values="0 0 0 0 0 0 0 0 0 0 0 0 0 0 0 20.000 0 0 0 -10.909" result="m"/><feFlood flood-color="#60c0c0" result="c"/><feComposite in="c" in2="m" operator="in"/><feGaussianBlur stdDeviation="0.35"/></filter><filter id="tx105" filterUnits="userSpaceOnUse" x="261.4" y="243" width="19.600000000000023" height="24" color-interpolation-filters="sRGB"><feTurbulence type="fractalNoise" baseFrequency="0.5" numOctaves="2" seed="112" result="t"/><feColorMatrix in="t" type="matrix" values="0 0 0 0 0 0 0 0 0 0 0 0 0 0 0 20.000 0 0 0 -11.592" result="m"/><feFlood flood-color="#f0e0a0" result="c"/><feComposite in="c" in2="m" operator="in"/><feGaussianBlur stdDeviation="0.35"/></filter><filter id="tx106" filterUnits="userSpaceOnUse" x="267" y="261" width="9" height="99" color-interpolation-filters="sRGB"><feTurbulence type="fractalNoise" baseFrequency="0.5 0.3" numOctaves="2" seed="113" result="t"/><feColorMatrix in="t" type="matrix" values="0 0 0 0 0 0 0 0 0 0 0 0 0 0 0 20.000 0 0 0 -10.909" result="m"/><feFlood flood-color="#c0a060" result="c"/><feComposite in="c" in2="m" operator="in"/><feGaussianBlur stdDeviation="0.35"/></filter><filter id="tx107" filterUnits="userSpaceOnUse" x="267" y="261" width="9" height="99" color-interpolation-filters="sRGB"><feTurbulence type="fractalNoise" baseFrequency="0.7" numOctaves="2" seed="114" result="t"/><feColorMatrix in="t" type="matrix" values="0 0 0 0 0 0 0 0 0 0 0 0 0 0 0 20.000 0 0 0 -12.446" result="m"/><feFlood flood-color="#2a6ab0" result="c"/><feComposite in="c" in2="m" operator="in"/><feGaussianBlur stdDeviation="0.35"/></filter><clipPath id="ca1"><rect x="13.00" y="12.00" width="99.00" height="167.80" rx="0"/></clipPath><clipPath id="cha1"><rect x="39.90" y="32.50" width="46.50" height="126.80" rx="3"/></clipPath><clipPath id="cua1"><path d="M52.80,32.50 L72.80,32.50 L72.80,45.00 Q62.80,55.00 52.80,45.00 Z"/></clipPath><clipPath id="sta1"><rect x="58.40" y="50.00" width="7.20" height="96.00" rx="3.599999999999998"/></clipPath><clipPath id="ca2"><rect x="117.40" y="12.00" width="98.60" height="167.80" rx="0"/></clipPath><clipPath id="cha2"><rect x="141.00" y="33.00" width="54.00" height="126.30" rx="3"/></clipPath><clipPath id="cua2"><path d="M155.40,33.00 L178.00,33.00 L178.00,45.60 Q166.70,55.60 155.40,45.60 Z"/></clipPath><clipPath id="sta2"><rect x="162.50" y="50.00" width="8.50" height="96.00" rx="4.25"/></clipPath><clipPath id="ca3"><rect x="221.60" y="12.00" width="98.40" height="167.80" rx="0"/></clipPath><clipPath id="cha3"><rect x="246.00" y="32.50" width="48.00" height="126.80" rx="3"/></clipPath><clipPath id="cua3"><path d="M259.40,32.50 L280.00,32.50 L280.00,45.00 Q269.70,55.00 259.40,45.00 Z"/></clipPath><clipPath id="sta3"><rect x="266.60" y="50.00" width="9.00" height="95.00" rx="4.5"/></clipPath><clipPath id="cd1"><rect x="13.00" y="225.00" width="99.00" height="167.80" rx="0"/></clipPath><clipPath id="chd1"><rect x="40.00" y="245.00" width="47.40" height="126.00" rx="3"/></clipPath><clipPath id="cud1"><path d="M54.00,245.00 L74.00,245.00 L74.00,258.00 Q64.00,268.00 54.00,258.00 Z"/></clipPath><clipPath id="std1"><rect x="60.00" y="262.00" width="8.60" height="98.00" rx="4.299999999999997"/></clipPath><clipPath id="cd2"><rect x="117.60" y="225.00" width="98.40" height="168.00" rx="0"/></clipPath><clipPath id="chd2"><rect x="144.00" y="229.00" width="47.00" height="161.00" rx="3"/></clipPath><clipPath id="std2"><rect x="158.50" y="226.00" width="17.00" height="142.00" rx="8.5"/></clipPath><clipPath id="cd3"><rect x="221.60" y="225.00" width="98.40" height="167.80" rx="0"/></clipPath><clipPath id="chd3"><rect x="247.60" y="243.00" width="46.80" height="128.00" rx="3"/></clipPath><clipPath id="cud3"><path d="M261.40,243.00 L281.00,243.00 L281.00,257.00 Q271.20,267.00 261.40,257.00 Z"/></clipPath><clipPath id="std3"><rect x="267.00" y="261.00" width="9.00" height="99.00" rx="4.5"/></clipPath></defs>
<g clip-path="url(#ca1)">
<g>
<rect x="13.00" y="12.00" width="99.00" height="167.80" rx="0" fill="#3a3435"/>
<rect x="13.00" y="12.00" width="99.00" height="167.80" fill="#000" filter="url(#tx1)"/>
</g>
<g>
<rect x="13.00" y="51.00" width="99.00" height="90.00" rx="0" fill="#efa89c"/>
<rect x="13.00" y="51.00" width="99.00" height="90.00" fill="#000" filter="url(#tx2)"/>
<rect x="13.00" y="51.00" width="99.00" height="90.00" fill="#000" filter="url(#tx3)"/>
</g>
<rect x="13" y="51" width="99" height="1.2" fill="#e0a050" opacity="0.8"/>
<rect x="13" y="139.8" width="99" height="1.2" fill="#e0a050" opacity="0.8"/>
<g>
<rect x="52.80" y="12.00" width="20.00" height="23.50" rx="0" fill="#c49a4c"/>
</g>
<rect x="54.80" y="12" width="16.00" height="20.50" fill="#dcb068" opacity="0.5"/>
<g clip-path="url(#cha1)">
<rect x="39.90" y="32.50" width="46.50" height="18.50" rx="0" fill="#163430"/>
<rect x="39.90" y="32.50" width="46.50" height="18.50" fill="#000" filter="url(#tx4)"/>
<rect x="39.90" y="32.50" width="46.50" height="18.50" fill="#000" filter="url(#tx5)"/>
<rect x="39.90" y="32.50" width="46.50" height="18.50" fill="#000" filter="url(#tx6)"/>
</g>
<g clip-path="url(#cha1)">
<rect x="39.90" y="51.00" width="46.50" height="90.00" rx="0" fill="#cc5a2a"/>
<rect x="39.90" y="51.00" width="46.50" height="90.00" fill="#000" filter="url(#tx7)"/>
<rect x="39.90" y="51.00" width="46.50" height="90.00" fill="#000" filter="url(#tx8)"/>
<rect x="39.90" y="51.00" width="46.50" height="90.00" fill="#000" filter="url(#tx9)"/>
<rect x="39.90" y="51.00" width="46.50" height="90.00" fill="#000" filter="url(#tx10)"/>
<rect x="39.90" y="51.00" width="46.50" height="90.00" fill="#000" filter="url(#tx11)"/>
</g>
<g clip-path="url(#cha1)">
<rect x="39.90" y="141.00" width="46.50" height="18.30" rx="0" fill="#163438"/>
<rect x="39.90" y="141.00" width="46.50" height="18.30" fill="#000" filter="url(#tx12)"/>
<rect x="39.90" y="141.00" width="46.50" height="18.30" fill="#000" filter="url(#tx13)"/>
<rect x="39.90" y="141.00" width="46.50" height="18.30" fill="#000" filter="url(#tx14)"/>
</g>
<g clip-path="url(#cua1)">
<rect x="52.80" y="32.50" width="20.00" height="22.50" rx="0" fill="#a08078"/>
<rect x="52.80" y="32.50" width="20.00" height="22.50" fill="#000" filter="url(#tx15)"/>
<rect x="52.80" y="32.50" width="20.00" height="22.50" fill="#000" filter="url(#tx16)"/>
<rect x="52.80" y="32.50" width="20.00" height="22.50" fill="#000" filter="url(#tx17)"/>
</g>
<rect x="56.80" y="50.00" width="10.40" height="97.60" rx="5.20" fill="none" stroke="#6a4a8a" stroke-width="1.4" opacity="0.85"/>
<g clip-path="url(#sta1)">
<rect x="58.40" y="50.00" width="7.20" height="96.00" rx="0" fill="#b0a060"/>
<rect x="58.40" y="50.00" width="7.20" height="96.00" fill="#000" filter="url(#tx18)"/>
<rect x="58.40" y="50.00" width="7.20" height="96.00" fill="#000" filter="url(#tx19)"/>
</g>
<rect x="18.4" y="172.0" width="18.60" height="3.2" fill="#fff"/>
</g>
<rect x="13.5" y="12.5" width="98" height="166.8" fill="none" stroke="#1e1e1e" stroke-width="1"/>
<g clip-path="url(#ca2)">
<g>
<rect x="117.40" y="12.00" width="98.60" height="167.80" rx="0" fill="#3a3437"/>
<rect x="117.40" y="12.00" width="98.60" height="167.80" fill="#000" filter="url(#tx20)"/>
</g>
<g>
<rect x="117.40" y="51.60" width="98.60" height="89.40" rx="0" fill="#ece2ac"/>
<rect x="117.40" y="51.60" width="98.60" height="89.40" fill="#000" filter="url(#tx21)"/>
<rect x="117.40" y="51.60" width="98.60" height="89.40" fill="#000" filter="url(#tx22)"/>
</g>
<rect x="113.4" y="47.6" width="106.6" height="97.4" fill="url(#pla2)" opacity="0.5" filter="url(#wva2)"/>
<g>
<rect x="155.40" y="12.00" width="22.60" height="24.00" rx="0" fill="#d29a68"/>
</g>
<rect x="157.40" y="12" width="18.60" height="21.00" fill="#e8b888" opacity="0.5"/>
<g clip-path="url(#cha2)">
<rect x="141.00" y="33.00" width="54.00" height="18.60" rx="0" fill="#342a48"/>
<rect x="141.00" y="33.00" width="54.00" height="18.60" fill="#000" filter="url(#tx23)"/>
<rect x="141.00" y="33.00" width="54.00" height="18.60" fill="#000" filter="url(#tx24)"/>
<rect x="141.00" y="33.00" width="54.00" height="18.60" fill="#000" filter="url(#tx25)"/>
</g>
<g clip-path="url(#cha2)">
<rect x="141.00" y="51.60" width="54.00" height="89.40" rx="0" fill="#c0663a"/>
<rect x="141.00" y="51.60" width="54.00" height="89.40" fill="#000" filter="url(#tx26)"/>
<rect x="141.00" y="51.60" width="54.00" height="89.40" fill="#000" filter="url(#tx27)"/>
<rect x="141.00" y="51.60" width="54.00" height="89.40" fill="#000" filter="url(#tx28)"/>
<rect x="141.00" y="51.60" width="54.00" height="89.40" fill="#000" filter="url(#tx29)"/>
</g>
<g clip-path="url(#cha2)">
<rect x="141.00" y="141.00" width="54.00" height="18.30" rx="0" fill="#6a4a90"/>
<rect x="141.00" y="141.00" width="54.00" height="18.30" fill="#000" filter="url(#tx30)"/>
<rect x="141.00" y="141.00" width="54.00" height="18.30" fill="#000" filter="url(#tx31)"/>
<rect x="141.00" y="141.00" width="54.00" height="18.30" fill="#000" filter="url(#tx32)"/>
</g>
<g clip-path="url(#cua2)">
<rect x="155.40" y="33.00" width="22.60" height="22.60" rx="0" fill="#b86a70"/>
<rect x="155.40" y="33.00" width="22.60" height="22.60" fill="#000" filter="url(#tx33)"/>
<rect x="155.40" y="33.00" width="22.60" height="22.60" fill="#000" filter="url(#tx34)"/>
</g>
<rect x="160.90" y="50.00" width="11.70" height="97.60" rx="5.85" fill="none" stroke="#e0507a" stroke-width="1.4" opacity="0.85"/>
<g clip-path="url(#sta2)">
<rect x="162.50" y="50.00" width="8.50" height="96.00" rx="0" fill="#6a7aa0"/>
<rect x="162.50" y="50.00" width="8.50" height="96.00" fill="#000" filter="url(#tx35)"/>
<rect x="162.50" y="50.00" width="8.50" height="96.00" fill="#000" filter="url(#tx36)"/>
</g>
<rect x="123" y="172.0" width="18.00" height="3.2" fill="#fff"/>
</g>
<rect x="117.9" y="12.5" width="97.6" height="166.8" fill="none" stroke="#1e1e1e" stroke-width="1"/>
<g clip-path="url(#ca3)">
<g>
<rect x="221.60" y="12.00" width="98.40" height="167.80" rx="0" fill="#3a3435"/>
<rect x="221.60" y="12.00" width="98.40" height="167.80" fill="#000" filter="url(#tx37)"/>
</g>
<g>
<rect x="221.60" y="51.00" width="98.40" height="89.00" rx="0" fill="#eeae84"/>
<rect x="221.60" y="51.00" width="98.40" height="89.00" fill="#000" filter="url(#tx38)"/>
<rect x="221.60" y="51.00" width="98.40" height="89.00" fill="#000" filter="url(#tx39)"/>
</g>
<rect x="221.6" y="51" width="98.4" height="89" fill="url(#bga3)"/>
<g>
<rect x="259.40" y="12.00" width="20.60" height="23.50" rx="0" fill="#bca444"/>
</g>
<rect x="261.40" y="12" width="16.60" height="20.50" fill="#d4bc5c" opacity="0.5"/>
<g clip-path="url(#cha3)">
<rect x="246.00" y="32.50" width="48.00" height="18.50" rx="0" fill="#142e38"/>
<rect x="246.00" y="32.50" width="48.00" height="18.50" fill="#000" filter="url(#tx40)"/>
<rect x="246.00" y="32.50" width="48.00" height="18.50" fill="#000" filter="url(#tx41)"/>
<rect x="246.00" y="32.50" width="48.00" height="18.50" fill="#000" filter="url(#tx42)"/>
</g>
<g clip-path="url(#cha3)">
<rect x="246.00" y="51.00" width="48.00" height="89.00" rx="0" fill="#c85a2c"/>
<rect x="246.00" y="51.00" width="48.00" height="89.00" fill="#000" filter="url(#tx43)"/>
<rect x="246.00" y="51.00" width="48.00" height="89.00" fill="#000" filter="url(#tx44)"/>
<rect x="246.00" y="51.00" width="48.00" height="89.00" fill="#000" filter="url(#tx45)"/>
<rect x="246.00" y="51.00" width="48.00" height="89.00" fill="#000" filter="url(#tx46)"/>
<rect x="246.00" y="51.00" width="48.00" height="89.00" fill="#000" filter="url(#tx47)"/>
</g>
<g clip-path="url(#cha3)">
<rect x="246.00" y="140.00" width="48.00" height="19.30" rx="0" fill="#1c2c58"/>
<rect x="246.00" y="140.00" width="48.00" height="19.30" fill="#000" filter="url(#tx48)"/>
<rect x="246.00" y="140.00" width="48.00" height="19.30" fill="#000" filter="url(#tx49)"/>
<rect x="246.00" y="140.00" width="48.00" height="19.30" fill="#000" filter="url(#tx50)"/>
</g>
<g clip-path="url(#cua3)">
<rect x="259.40" y="32.50" width="20.60" height="22.50" rx="0" fill="#a08870"/>
<rect x="259.40" y="32.50" width="20.60" height="22.50" fill="#000" filter="url(#tx51)"/>
<rect x="259.40" y="32.50" width="20.60" height="22.50" fill="#000" filter="url(#tx52)"/>
</g>
<rect x="265.00" y="50.00" width="12.20" height="96.60" rx="6.10" fill="none" stroke="#8a5a9a" stroke-width="1.4" opacity="0.85"/>
<g clip-path="url(#sta3)">
<rect x="266.60" y="50.00" width="9.00" height="95.00" rx="0" fill="#5a9ab0"/>
<rect x="266.60" y="50.00" width="9.00" height="95.00" fill="#000" filter="url(#tx53)"/>
<rect x="266.60" y="50.00" width="9.00" height="95.00" fill="#000" filter="url(#tx54)"/>
</g>
<rect x="228" y="172.0" width="18.40" height="3.2" fill="#fff"/>
</g>
<rect x="222.1" y="12.5" width="97.4" height="166.8" fill="none" stroke="#1e1e1e" stroke-width="1"/>
<g clip-path="url(#cd1)">
<g>
<rect x="13.00" y="225.00" width="99.00" height="167.80" rx="0" fill="#3a3435"/>
<rect x="13.00" y="225.00" width="99.00" height="167.80" fill="#000" filter="url(#tx55)"/>
</g>
<g>
<rect x="13.00" y="264.00" width="99.00" height="88.60" rx="0" fill="#efb395"/>
<rect x="13.00" y="264.00" width="99.00" height="88.60" fill="#000" filter="url(#tx56)"/>
<rect x="13.00" y="264.00" width="99.00" height="88.60" fill="#000" filter="url(#tx57)"/>
</g>
<g>
<rect x="54.00" y="225.00" width="20.00" height="23.00" rx="0" fill="#b09048"/>
</g>
<rect x="56.00" y="225" width="16.00" height="20.00" fill="#c8a458" opacity="0.5"/>
<g clip-path="url(#chd1)">
<rect x="40.00" y="245.00" width="47.40" height="19.00" rx="0" fill="#283c6a"/>
<rect x="40.00" y="245.00" width="47.40" height="19.00" fill="#000" filter="url(#tx58)"/>
<rect x="40.00" y="245.00" width="47.40" height="19.00" fill="#000" filter="url(#tx59)"/>
</g>
<g clip-path="url(#chd1)">
<rect x="40.00" y="264.00" width="47.40" height="88.60" rx="0" fill="#c05a34"/>
<rect x="40.00" y="264.00" width="47.40" height="88.60" fill="#000" filter="url(#tx60)"/>
<rect x="40.00" y="264.00" width="47.40" height="88.60" fill="#000" filter="url(#tx61)"/>
<rect x="40.00" y="264.00" width="47.40" height="88.60" fill="#000" filter="url(#tx62)"/>
<rect x="40.00" y="264.00" width="47.40" height="88.60" fill="#000" filter="url(#tx63)"/>
<rect x="40.00" y="264.00" width="47.40" height="88.60" fill="#000" filter="url(#tx64)"/>
<rect x="40.00" y="264.00" width="47.40" height="88.60" fill="#000" filter="url(#tx65)"/>
</g>
<g clip-path="url(#chd1)">
<rect x="40.00" y="352.60" width="47.40" height="18.40" rx="0" fill="#2e3c7a"/>
<rect x="40.00" y="352.60" width="47.40" height="18.40" fill="#000" filter="url(#tx66)"/>
<rect x="40.00" y="352.60" width="47.40" height="18.40" fill="#000" filter="url(#tx67)"/>
<rect x="40.00" y="352.60" width="47.40" height="18.40" fill="#000" filter="url(#tx68)"/>
</g>
<g clip-path="url(#cud1)">
<rect x="54.00" y="245.00" width="20.00" height="23.00" rx="0" fill="#c0c080"/>
<rect x="54.00" y="245.00" width="20.00" height="23.00" fill="#000" filter="url(#tx69)"/>
<rect x="54.00" y="245.00" width="20.00" height="23.00" fill="#000" filter="url(#tx70)"/>
</g>
<g clip-path="url(#std1)">
<rect x="60.00" y="262.00" width="8.60" height="98.00" rx="0" fill="#3aa0b0"/>
<rect x="60.00" y="262.00" width="8.60" height="98.00" fill="#000" filter="url(#tx71)"/>
<rect x="60.00" y="262.00" width="8.60" height="98.00" fill="#000" filter="url(#tx72)"/>
</g>
<rect x="18.4" y="386.0" width="18.60" height="3.2" fill="#fff"/>
</g>
<rect x="13.5" y="225.5" width="98" height="166.8" fill="none" stroke="#1e1e1e" stroke-width="1"/>
<g clip-path="url(#cd2)">
<g>
<rect x="117.60" y="225.00" width="98.40" height="168.00" rx="0" fill="#47343d"/>
<rect x="117.60" y="225.00" width="98.40" height="168.00" fill="#000" filter="url(#tx73)"/>
</g>
<g>
<rect x="117.60" y="257.00" width="98.40" height="107.00" rx="0" fill="#ecd690"/>
<rect x="117.60" y="257.00" width="98.40" height="107.00" fill="#000" filter="url(#tx74)"/>
<rect x="117.60" y="257.00" width="98.40" height="107.00" fill="#000" filter="url(#tx75)"/>
</g>
<rect x="113.6" y="253" width="106.4" height="115" fill="url(#pld2)" opacity="0.5" filter="url(#wvd2)"/>
<g>
<rect x="157.60" y="225.00" width="18.80" height="7.00" rx="0" fill="#c87828"/>
</g>
<rect x="159.60" y="225" width="14.80" height="4.00" fill="#d89038" opacity="0.5"/>
<g clip-path="url(#chd2)">
<rect x="144.00" y="229.00" width="47.00" height="28.00" rx="0" fill="#1e2630"/>
<rect x="144.00" y="229.00" width="47.00" height="28.00" fill="#000" filter="url(#tx76)"/>
<rect x="144.00" y="229.00" width="47.00" height="28.00" fill="#000" filter="url(#tx77)"/>
<rect x="144.00" y="229.00" width="47.00" height="28.00" fill="#000" filter="url(#tx78)"/>
</g>
<g clip-path="url(#chd2)">
<rect x="144.00" y="257.00" width="47.00" height="107.00" rx="0" fill="#c06a36"/>
<rect x="144.00" y="257.00" width="47.00" height="107.00" fill="#000" filter="url(#tx79)"/>
<rect x="144.00" y="257.00" width="47.00" height="107.00" fill="#000" filter="url(#tx80)"/>
<rect x="144.00" y="257.00" width="47.00" height="107.00" fill="#000" filter="url(#tx81)"/>
<rect x="144.00" y="257.00" width="47.00" height="107.00" fill="#000" filter="url(#tx82)"/>
<rect x="144.00" y="257.00" width="47.00" height="107.00" fill="#000" filter="url(#tx83)"/>
</g>
<g clip-path="url(#chd2)">
<rect x="144.00" y="364.00" width="47.00" height="26.00" rx="0" fill="#1a2a34"/>
<rect x="144.00" y="364.00" width="47.00" height="26.00" fill="#000" filter="url(#tx84)"/>
<rect x="144.00" y="364.00" width="47.00" height="26.00" fill="#000" filter="url(#tx85)"/>
<rect x="144.00" y="364.00" width="47.00" height="26.00" fill="#000" filter="url(#tx86)"/>
</g>
<rect x="156.90" y="226.00" width="20.20" height="143.60" rx="10.10" fill="none" stroke="#b07040" stroke-width="1.4" opacity="0.85"/>
<g clip-path="url(#std2)">
<rect x="158.50" y="226.00" width="17.00" height="142.00" rx="0" fill="#c8782e"/>
<rect x="158.50" y="226.00" width="17.00" height="142.00" fill="#000" filter="url(#tx87)"/>
<rect x="158.50" y="226.00" width="17.00" height="142.00" fill="#000" filter="url(#tx88)"/>
<rect x="158.50" y="226.00" width="17.00" height="142.00" fill="#000" filter="url(#tx89)"/>
</g>
<rect x="123" y="386.0" width="18.00" height="3.2" fill="#fff"/>
</g>
<rect x="118.1" y="225.5" width="97.4" height="167" fill="none" stroke="#1e1e1e" stroke-width="1"/>
<g clip-path="url(#cd3)">
<g>
<rect x="221.60" y="225.00" width="98.40" height="167.80" rx="0" fill="#3a3435"/>
<rect x="221.60" y="225.00" width="98.40" height="167.80" fill="#000" filter="url(#tx90)"/>
</g>
<g>
<rect x="221.60" y="263.00" width="98.40" height="89.60" rx="0" fill="#efb395"/>
<rect x="221.60" y="263.00" width="98.40" height="89.60" fill="#000" filter="url(#tx91)"/>
<rect x="221.60" y="263.00" width="98.40" height="89.60" fill="#000" filter="url(#tx92)"/>
</g>
<g>
<rect x="261.40" y="225.00" width="19.60" height="21.00" rx="0" fill="#c4a450"/>
</g>
<rect x="263.40" y="225" width="15.60" height="18.00" fill="#d8b868" opacity="0.5"/>
<g clip-path="url(#chd3)">
<rect x="247.60" y="243.00" width="46.80" height="20.00" rx="0" fill="#283c6a"/>
<rect x="247.60" y="243.00" width="46.80" height="20.00" fill="#000" filter="url(#tx93)"/>
<rect x="247.60" y="243.00" width="46.80" height="20.00" fill="#000" filter="url(#tx94)"/>
</g>
<g clip-path="url(#chd3)">
<rect x="247.60" y="263.00" width="46.80" height="89.60" rx="0" fill="#c05a34"/>
<rect x="247.60" y="263.00" width="46.80" height="89.60" fill="#000" filter="url(#tx95)"/>
<rect x="247.60" y="263.00" width="46.80" height="89.60" fill="#000" filter="url(#tx96)"/>
<rect x="247.60" y="263.00" width="46.80" height="89.60" fill="#000" filter="url(#tx97)"/>
<rect x="247.60" y="263.00" width="46.80" height="89.60" fill="#000" filter="url(#tx98)"/>
<rect x="247.60" y="263.00" width="46.80" height="89.60" fill="#000" filter="url(#tx99)"/>
<rect x="247.60" y="263.00" width="46.80" height="89.60" fill="#000" filter="url(#tx100)"/>
</g>
<g clip-path="url(#chd3)">
<rect x="247.60" y="352.60" width="46.80" height="18.40" rx="0" fill="#2e3c7a"/>
<rect x="247.60" y="352.60" width="46.80" height="18.40" fill="#000" filter="url(#tx101)"/>
<rect x="247.60" y="352.60" width="46.80" height="18.40" fill="#000" filter="url(#tx102)"/>
<rect x="247.60" y="352.60" width="46.80" height="18.40" fill="#000" filter="url(#tx103)"/>
</g>
<g clip-path="url(#cud3)">
<rect x="261.40" y="243.00" width="19.60" height="24.00" rx="0" fill="#c0c080"/>
<rect x="261.40" y="243.00" width="19.60" height="24.00" fill="#000" filter="url(#tx104)"/>
<rect x="261.40" y="243.00" width="19.60" height="24.00" fill="#000" filter="url(#tx105)"/>
</g>
<g clip-path="url(#std3)">
<rect x="267.00" y="261.00" width="9.00" height="99.00" rx="0" fill="#3aa0b0"/>
<rect x="267.00" y="261.00" width="9.00" height="99.00" fill="#000" filter="url(#tx106)"/>
<rect x="267.00" y="261.00" width="9.00" height="99.00" fill="#000" filter="url(#tx107)"/>
</g>
<rect x="228" y="386.0" width="18.40" height="3.2" fill="#fff"/>
</g>
<rect x="222.1" y="225.5" width="97.4" height="166.8" fill="none" stroke="#1e1e1e" stroke-width="1"/>
<path d="M17.6,93.5 L27,84 L27,88.5 L38,88.5 L38,98.5 L27,98.5 L27,103 Z" fill="#ffff00"/>
<path d="M109,93.5 L99.6,84 L99.6,88.5 L88,88.5 L88,98.5 L99.6,98.5 L99.6,103 Z" fill="#ffff00"/>
<text x="28.5" y="97.6" font-size="11.5" text-anchor="middle">S</text>
<text x="97.5" y="97.6" font-size="11.5" text-anchor="middle">D</text>
<path d="M64.2,229 L74.4,240 L69,240 L69,250 L59.6,250 L59.6,240 L54,240 Z" fill="#ffff00"/>
<path d="M64.2,388 L74.4,378 L69,378 L69,367 L59.6,367 L59.6,378 L54,378 Z" fill="#ffff00"/>
<text x="27.7" y="313.6" font-size="12.5" text-anchor="middle">S</text>
<text x="100.7" y="313.6" font-size="12.5" text-anchor="middle">D</text>
<text x="62.5" y="197.3" font-size="11.5" text-anchor="middle">ε = 0%</text>
<text x="166.5" y="197.3" font-size="11.5" text-anchor="middle">ε = 20%</text>
<text x="270.5" y="197.3" font-size="11.5" text-anchor="middle">Release</text>
<text x="62.5" y="410.3" font-size="11.5" text-anchor="middle">ε = 0%</text>
<text x="166.5" y="410.3" font-size="11.5" text-anchor="middle">ε = 20%</text>
<text x="270.5" y="410.3" font-size="11.5" text-anchor="middle">Release</text>
<text x="-0.8" y="10.5" font-size="14.5" font-weight="bold">a</text>
<text x="327.3" y="10.5" font-size="14.5" font-weight="bold">b</text>
<text x="494.8" y="10.5" font-size="14.5" font-weight="bold">c</text>
<text x="-0.8" y="226" font-size="14.5" font-weight="bold">d</text>
<text x="327.3" y="226" font-size="14.5" font-weight="bold">e</text>
<text x="494.8" y="225" font-size="14.5" font-weight="bold">f</text>
<text x="-0.8" y="440" font-size="14.5" font-weight="bold">g</text>
<text x="169.5" y="440" font-size="14.5" font-weight="bold">h</text>
<text x="455" y="440" font-size="14.5" font-weight="bold">i</text>
<g clip-path="none">
<path d="M383.91,157.22 L384.37,157.76 L384.83,158.28 L385.29,158.79 L385.75,159.27 L386.21,159.71 L386.67,160.09 L387.13,160.40 L387.59,160.34 L388.05,159.94 L388.51,159.41 L388.97,158.74 L389.43,157.92 L389.90,156.90 L390.36,155.67 L390.82,154.24 L391.28,152.60 L391.74,150.78 L392.20,148.80 L392.66,146.68 L393.12,144.44 L393.58,142.12 L394.04,139.73 L394.50,137.28 L394.96,134.79 L395.42,132.28 L395.88,129.74 L396.34,127.16 L396.80,124.53 L397.26,121.90 L397.72,119.34 L398.18,116.88 L398.64,114.54 L399.10,112.27 L399.56,110.07 L400.02,107.90 L400.48,105.77 L400.94,103.67 L401.41,101.63 L401.87,99.61 L402.33,97.60 L402.79,95.57 L403.25,93.53 L403.71,91.49 L404.17,89.45 L404.63,87.41 L405.09,85.37 L405.55,83.33 L406.01,81.28 L406.47,79.24 L406.93,77.20 L407.39,75.16 L407.85,73.07 L408.31,70.92 L408.77,68.81 L409.23,66.79 L409.69,64.96 L410.15,63.29 L410.61,61.72 L411.07,60.24 L411.53,58.84 L411.99,57.53 L412.45,56.28 L412.92,55.09 L413.38,53.96 L413.84,52.91 L414.30,51.97 L414.76,51.12 L415.22,50.35 L415.68,49.63 L416.14,48.94 L416.60,48.26 L417.06,47.58 L417.52,46.92 L417.98,46.28 L418.44,45.68 L418.90,45.10 L419.36,44.55 L419.82,44.01 L420.28,43.48 L420.74,42.97 L421.20,42.47 L421.66,41.99 L422.12,41.53 L422.58,41.09 L423.04,40.67 L423.50,40.28 L423.96,39.90 L424.43,39.54 L424.89,39.20 L425.35,38.87 L425.81,38.55 L426.27,38.24 L426.73,37.95 L427.19,37.66 L427.65,37.39 L428.11,37.12 L428.57,36.87 L429.03,36.62 L429.49,36.38 L429.95,36.15 L430.41,35.93 L430.87,35.71 L431.33,35.50 L431.79,35.30 L432.25,35.09 L432.71,34.90 L433.17,34.70 L433.63,34.51 L434.09,34.32 L434.55,34.13 L435.01,33.95 L435.47,33.77 L435.94,33.59 L436.40,33.42 L436.86,33.25 L437.32,33.08 L437.78,32.92 L438.24,32.76 L438.70,32.60 L439.16,32.45 L439.62,32.30 L440.08,32.15 L440.54,32.01 L441.00,31.86 L441.46,31.73 L441.92,31.59 L442.38,31.45 L442.84,31.32 L443.30,31.19 L443.76,31.06 L444.22,30.93 L444.68,30.80 L445.14,30.68 L445.60,30.55 L446.06,30.43 L446.52,30.31 L446.98,30.19 L447.45,30.07 L447.91,29.95 L448.37,29.83 L448.83,29.72 L449.29,29.60 L449.75,29.49 L450.21,29.37 L450.67,29.26 L451.13,29.14 L451.59,29.03 L452.05,28.92 L452.51,28.80 L452.97,28.69 L453.43,28.58 L453.89,28.47 L454.35,28.36 L454.81,28.25 L455.27,28.15 L455.73,28.04 L456.19,27.93 L456.65,27.83 L457.11,27.72 L457.57,27.62 L458.03,27.52 L458.49,27.41 L458.96,27.31 L459.42,27.21 L459.88,27.11 L460.34,27.02 L460.80,26.92 L461.26,26.83 L461.72,26.73 L462.18,26.64 L462.64,26.55 L463.10,26.45 L463.56,26.36 L464.02,26.27 L464.48,26.19 L464.94,26.10 L465.40,26.01 L465.86,25.93 L466.32,25.84 L466.78,25.76 L467.24,25.67 L467.70,25.59 L468.16,25.51 L468.62,25.42 L469.08,25.34 L469.54,25.26 L470.00,25.18 L470.47,25.11 L470.93,25.03 L471.39,24.95 L471.85,24.87 L472.31,24.80 L472.77,24.72 L473.23,24.65 L473.69,24.58 L474.15,24.50 L474.61,24.43 L475.07,24.36 L475.53,24.29 L475.99,24.22" fill="none" stroke="#8a8a8a" stroke-width="0.85" stroke-opacity="0.85"/>
<path d="M383.91,162.37 L384.37,163.48 L384.83,164.59 L385.29,165.69 L385.75,166.80 L386.21,167.89 L386.67,168.99 L387.13,170.07 L387.59,170.58 L388.05,170.54 L388.51,170.47 L388.97,170.38 L389.43,170.26 L389.90,170.08 L390.36,169.83 L390.82,169.49 L391.28,169.04 L391.74,168.43 L392.20,167.66 L392.66,166.69 L393.12,165.52 L393.58,164.16 L394.04,162.61 L394.50,160.86 L394.96,158.95 L395.42,156.88 L395.88,154.69 L396.34,152.40 L396.80,150.04 L397.26,147.61 L397.72,145.14 L398.18,142.64 L398.64,140.11 L399.10,137.56 L399.56,135.00 L400.02,132.43 L400.48,129.85 L400.94,127.23 L401.41,124.58 L401.87,121.94 L402.33,119.37 L402.79,116.90 L403.25,114.55 L403.71,112.28 L404.17,110.07 L404.63,107.91 L405.09,105.66 L405.55,103.44 L406.01,101.27 L406.47,99.14 L406.93,97.00 L407.39,94.86 L407.85,92.70 L408.31,90.54 L408.77,88.38 L409.23,86.22 L409.69,84.06 L410.15,81.90 L410.61,79.74 L411.07,77.58 L411.53,75.42 L411.99,73.26 L412.45,71.05 L412.92,68.79 L413.38,66.55 L413.84,64.42 L414.30,62.46 L414.76,60.67 L415.22,58.98 L415.68,57.39 L416.14,55.88 L416.60,54.45 L417.06,53.08 L417.52,51.76 L417.98,50.51 L418.44,49.35 L418.90,48.29 L419.36,47.32 L419.82,46.43 L420.28,45.59 L420.74,44.78 L421.20,43.98 L421.66,43.19 L422.12,42.41 L422.58,41.65 L423.04,40.93 L423.50,40.23 L423.96,39.56 L424.43,38.90 L424.89,38.26 L425.35,37.63 L425.81,37.01 L426.27,36.41 L426.73,35.83 L427.19,35.27 L427.65,34.73 L428.11,34.34 L428.57,33.97 L429.03,33.61 L429.49,33.26 L429.95,32.93 L430.41,32.61 L430.87,32.30 L431.33,32.01 L431.79,31.72 L432.25,31.45 L432.71,31.18 L433.17,30.93 L433.63,30.68 L434.09,30.44 L434.55,30.21 L435.01,29.99 L435.47,29.77 L435.94,29.56 L436.40,29.36 L436.86,29.16 L437.32,28.96 L437.78,28.76 L438.24,28.57 L438.70,28.38 L439.16,28.20 L439.62,28.01 L440.08,27.83 L440.54,27.66 L441.00,27.48 L441.46,27.31 L441.92,27.19 L442.38,27.07 L442.84,26.95 L443.30,26.84 L443.76,26.73 L444.22,26.62 L444.68,26.52 L445.14,26.42 L445.60,26.32 L446.06,26.22 L446.52,26.13 L446.98,26.04 L447.45,25.95 L447.91,25.86 L448.37,25.77 L448.83,25.69 L449.29,25.60 L449.75,25.52 L450.21,25.44 L450.67,25.36 L451.13,25.29 L451.59,25.21 L452.05,25.13 L452.51,25.06 L452.97,24.99 L453.43,24.91 L453.89,24.84 L454.35,24.77 L454.81,24.70 L455.27,24.63 L455.73,24.56 L456.19,24.49 L456.65,24.42 L457.11,24.35 L457.57,24.28 L458.03,24.21 L458.49,24.14 L458.96,24.08 L459.42,24.01 L459.88,23.95 L460.34,23.89 L460.80,23.82 L461.26,23.76 L461.72,23.70 L462.18,23.64 L462.64,23.58 L463.10,23.52 L463.56,23.47 L464.02,23.41 L464.48,23.35 L464.94,23.30 L465.40,23.25 L465.86,23.20 L466.32,23.14 L466.78,23.09 L467.24,23.05 L467.70,23.00 L468.16,22.95 L468.62,22.91 L469.08,22.86 L469.54,22.82 L470.00,22.77 L470.47,22.73 L470.93,22.69 L471.39,22.65 L471.85,22.61 L472.31,22.57 L472.77,22.53 L473.23,22.49 L473.69,22.45 L474.15,22.42 L474.61,22.38 L475.07,22.35 L475.53,22.31 L475.99,22.28" fill="none" stroke="#ff4a4a" stroke-width="0.85" stroke-opacity="0.85"/>
<path d="M383.91,161.44 L384.37,163.29 L384.83,165.13 L385.29,166.98 L385.75,168.81 L386.21,170.63 L386.67,172.43 L387.13,174.18 L387.59,174.99 L388.05,174.85 L388.51,174.67 L388.97,174.41 L389.43,174.06 L389.90,173.58 L390.36,172.95 L390.82,172.14 L391.28,171.11 L391.74,169.87 L392.20,168.42 L392.66,166.77 L393.12,164.97 L393.58,163.01 L394.04,160.91 L394.50,158.69 L394.96,156.37 L395.42,153.99 L395.88,151.55 L396.34,149.07 L396.80,146.56 L397.26,144.02 L397.72,141.47 L398.18,138.90 L398.64,136.33 L399.10,133.75 L399.56,131.17 L400.02,128.57 L400.48,125.92 L400.94,123.27 L401.41,120.65 L401.87,118.12 L402.33,115.72 L402.79,113.41 L403.25,111.17 L403.71,108.99 L404.17,106.84 L404.63,104.72 L405.09,102.72 L405.55,100.77 L406.01,98.83 L406.47,96.89 L406.93,94.92 L407.39,92.96 L407.85,90.99 L408.31,89.02 L408.77,87.06 L409.23,85.09 L409.69,83.12 L410.15,81.15 L410.61,79.19 L411.07,77.22 L411.53,75.24 L411.99,73.19 L412.45,71.12 L412.92,69.12 L413.38,67.26 L413.84,65.59 L414.30,64.05 L414.76,62.60 L415.22,61.24 L415.68,59.96 L416.14,58.76 L416.60,57.61 L417.06,56.52 L417.52,55.50 L417.98,54.58 L418.44,53.76 L418.90,53.03 L419.36,52.36 L419.82,51.73 L420.28,51.12 L420.74,50.51 L421.20,49.92 L421.66,49.35 L422.12,48.80 L422.58,48.28 L423.04,47.79 L423.50,47.32 L423.96,46.86 L424.43,46.42 L424.89,45.98 L425.35,45.57 L425.81,45.17 L426.27,44.80 L426.73,44.44 L427.19,44.11 L427.65,43.80 L428.11,43.43 L428.57,43.08 L429.03,42.74 L429.49,42.42 L429.95,42.11 L430.41,41.80 L430.87,41.51 L431.33,41.23 L431.79,40.96 L432.25,40.70 L432.71,40.45 L433.17,40.21 L433.63,39.98 L434.09,39.75 L434.55,39.53 L435.01,39.32 L435.47,39.11 L435.94,38.90 L436.40,38.71 L436.86,38.51 L437.32,38.32 L437.78,38.12 L438.24,37.94 L438.70,37.75 L439.16,37.57 L439.62,37.39 L440.08,37.22 L440.54,37.04 L441.00,36.88 L441.46,36.71 L441.92,36.52 L442.38,36.34 L442.84,36.15 L443.30,35.97 L443.76,35.80 L444.22,35.63 L444.68,35.46 L445.14,35.29 L445.60,35.12 L446.06,34.96 L446.52,34.80 L446.98,34.64 L447.45,34.48 L447.91,34.32 L448.37,34.17 L448.83,34.01 L449.29,33.86 L449.75,33.71 L450.21,33.56 L450.67,33.42 L451.13,33.27 L451.59,33.12 L452.05,32.98 L452.51,32.83 L452.97,32.69 L453.43,32.55 L453.89,32.41 L454.35,32.26 L454.81,32.12 L455.27,31.98 L455.73,31.84 L456.19,31.70 L456.65,31.56 L457.11,31.42 L457.57,31.28 L458.03,31.15 L458.49,31.01 L458.96,30.88 L459.42,30.74 L459.88,30.61 L460.34,30.47 L460.80,30.34 L461.26,30.21 L461.72,30.08 L462.18,29.95 L462.64,29.82 L463.10,29.70 L463.56,29.57 L464.02,29.44 L464.48,29.32 L464.94,29.20 L465.40,29.07 L465.86,28.95 L466.32,28.83 L466.78,28.71 L467.24,28.60 L467.70,28.48 L468.16,28.36 L468.62,28.25 L469.08,28.13 L469.54,28.02 L470.00,27.91 L470.47,27.79 L470.93,27.68 L471.39,27.57 L471.85,27.46 L472.31,27.35 L472.77,27.24 L473.23,27.14 L473.69,27.03 L474.15,26.92 L474.61,26.82 L475.07,26.71 L475.53,26.61 L475.99,26.51" fill="none" stroke="#3a78e6" stroke-width="0.85" stroke-opacity="0.85"/>
<path d="M383.91,159.56 L384.37,160.66 L384.83,161.75 L385.29,162.83 L385.75,163.89 L386.21,164.92 L386.67,165.89 L387.13,166.78 L387.59,167.05 L388.05,166.71 L388.51,166.25 L388.97,165.65 L389.43,164.89 L389.90,163.94 L390.36,162.80 L390.82,161.47 L391.28,159.94 L391.74,158.21 L392.20,156.31 L392.66,154.25 L393.12,152.07 L393.58,149.79 L394.04,147.43 L394.50,145.00 L394.96,142.54 L395.42,140.03 L395.88,137.51 L396.34,134.96 L396.80,132.40 L397.26,129.83 L397.72,127.22 L398.18,124.57 L398.64,121.94 L399.10,119.36 L399.56,116.90 L400.02,114.55 L400.48,112.28 L400.94,110.07 L401.41,107.91 L401.87,105.77 L402.33,103.68 L402.79,101.63 L403.25,99.61 L403.71,97.60 L404.17,95.57 L404.63,93.53 L405.09,91.51 L405.55,89.49 L406.01,87.46 L406.47,85.44 L406.93,83.42 L407.39,81.40 L407.85,79.37 L408.31,77.35 L408.77,75.33 L409.23,73.25 L409.69,71.13 L410.15,69.03 L410.61,67.03 L411.07,65.22 L411.53,63.57 L411.99,62.01 L412.45,60.55 L412.92,59.18 L413.38,57.89 L413.84,56.65 L414.30,55.47 L414.76,54.36 L415.22,53.34 L415.68,52.41 L416.14,51.58 L416.60,50.83 L417.06,50.13 L417.52,49.46 L417.98,48.79 L418.44,48.14 L418.90,47.50 L419.36,46.88 L419.82,46.29 L420.28,45.73 L420.74,45.20 L421.20,44.68 L421.66,44.17 L422.12,43.68 L422.58,43.20 L423.04,42.73 L423.50,42.29 L423.96,41.87 L424.43,41.47 L424.89,41.09 L425.35,40.74 L425.81,40.40 L426.27,40.07 L426.73,39.76 L427.19,39.46 L427.65,39.17 L428.11,38.87 L428.57,38.59 L429.03,38.32 L429.49,38.05 L429.95,37.79 L430.41,37.55 L430.87,37.31 L431.33,37.08 L431.79,36.86 L432.25,36.64 L432.71,36.43 L433.17,36.22 L433.63,36.02 L434.09,35.82 L434.55,35.63 L435.01,35.44 L435.47,35.25 L435.94,35.06 L436.40,34.88 L436.86,34.70 L437.32,34.52 L437.78,34.35 L438.24,34.18 L438.70,34.01 L439.16,33.85 L439.62,33.69 L440.08,33.53 L440.54,33.38 L441.00,33.23 L441.46,33.08 L441.92,32.93 L442.38,32.78 L442.84,32.63 L443.30,32.49 L443.76,32.35 L444.22,32.21 L444.68,32.07 L445.14,31.93 L445.60,31.79 L446.06,31.66 L446.52,31.53 L446.98,31.40 L447.45,31.27 L447.91,31.14 L448.37,31.01 L448.83,30.89 L449.29,30.76 L449.75,30.64 L450.21,30.52 L450.67,30.39 L451.13,30.27 L451.59,30.15 L452.05,30.03 L452.51,29.91 L452.97,29.79 L453.43,29.67 L453.89,29.55 L454.35,29.43 L454.81,29.31 L455.27,29.20 L455.73,29.08 L456.19,28.96 L456.65,28.85 L457.11,28.73 L457.57,28.62 L458.03,28.51 L458.49,28.40 L458.96,28.29 L459.42,28.18 L459.88,28.07 L460.34,27.96 L460.80,27.86 L461.26,27.75 L461.72,27.65 L462.18,27.54 L462.64,27.44 L463.10,27.34 L463.56,27.24 L464.02,27.14 L464.48,27.04 L464.94,26.95 L465.40,26.85 L465.86,26.75 L466.32,26.66 L466.78,26.56 L467.24,26.47 L467.70,26.38 L468.16,26.29 L468.62,26.20 L469.08,26.11 L469.54,26.02 L470.00,25.93 L470.47,25.84 L470.93,25.76 L471.39,25.67 L471.85,25.58 L472.31,25.50 L472.77,25.42 L473.23,25.33 L473.69,25.25 L474.15,25.17 L474.61,25.09 L475.07,25.01 L475.53,24.93 L475.99,24.85" fill="none" stroke="#3cb87a" stroke-width="0.85" stroke-opacity="0.85"/>
<path d="M383.91,161.43 L384.37,162.91 L384.83,164.38 L385.29,165.85 L385.75,167.31 L386.21,168.76 L386.67,170.18 L387.13,171.55 L387.59,172.15 L388.05,171.99 L388.51,171.77 L388.97,171.47 L389.43,171.06 L389.90,170.51 L390.36,169.79 L390.82,168.88 L391.28,167.76 L391.74,166.43 L392.20,164.92 L392.66,163.24 L393.12,161.37 L393.58,159.34 L394.04,157.18 L394.50,154.92 L394.96,152.58 L395.42,150.17 L395.88,147.71 L396.34,145.21 L396.80,142.69 L397.26,140.15 L397.72,137.59 L398.18,135.02 L398.64,132.44 L399.10,129.86 L399.56,127.24 L400.02,124.59 L400.48,121.95 L400.94,119.37 L401.41,116.90 L401.87,114.55 L402.33,112.28 L402.79,110.08 L403.25,107.91 L403.71,105.78 L404.17,103.68 L404.63,101.63 L405.09,99.67 L405.55,97.71 L406.01,95.74 L406.47,93.75 L406.93,91.77 L407.39,89.78 L407.85,87.80 L408.31,85.81 L408.77,83.83 L409.23,81.84 L409.69,79.86 L410.15,77.87 L410.61,75.88 L411.07,73.85 L411.53,71.76 L411.99,69.70 L412.45,67.74 L412.92,65.96 L413.38,64.34 L413.84,62.83 L414.30,61.41 L414.76,60.07 L415.22,58.81 L415.68,57.62 L416.14,56.48 L416.60,55.40 L417.06,54.42 L417.52,53.53 L417.98,52.73 L418.44,52.02 L418.90,51.35 L419.36,50.72 L419.82,50.09 L420.28,49.47 L420.74,48.87 L421.20,48.29 L421.66,47.73 L422.12,47.22 L422.58,46.72 L423.04,46.24 L423.50,45.77 L423.96,45.31 L424.43,44.87 L424.89,44.44 L425.35,44.03 L425.81,43.65 L426.27,43.29 L426.73,42.95 L427.19,42.63 L427.65,42.33 L428.11,41.98 L428.57,41.65 L429.03,41.33 L429.49,41.03 L429.95,40.73 L430.41,40.45 L430.87,40.17 L431.33,39.91 L431.79,39.65 L432.25,39.40 L432.71,39.16 L433.17,38.93 L433.63,38.71 L434.09,38.49 L434.55,38.28 L435.01,38.08 L435.47,37.88 L435.94,37.68 L436.40,37.48 L436.86,37.29 L437.32,37.10 L437.78,36.92 L438.24,36.73 L438.70,36.55 L439.16,36.38 L439.62,36.20 L440.08,36.03 L440.54,35.87 L441.00,35.70 L441.46,35.54 L441.92,35.36 L442.38,35.19 L442.84,35.02 L443.30,34.85 L443.76,34.69 L444.22,34.53 L444.68,34.37 L445.14,34.21 L445.60,34.05 L446.06,33.90 L446.52,33.75 L446.98,33.60 L447.45,33.45 L447.91,33.30 L448.37,33.15 L448.83,33.01 L449.29,32.87 L449.75,32.72 L450.21,32.58 L450.67,32.44 L451.13,32.31 L451.59,32.17 L452.05,32.03 L452.51,31.90 L452.97,31.76 L453.43,31.62 L453.89,31.49 L454.35,31.36 L454.81,31.22 L455.27,31.09 L455.73,30.95 L456.19,30.82 L456.65,30.69 L457.11,30.56 L457.57,30.43 L458.03,30.30 L458.49,30.17 L458.96,30.05 L459.42,29.92 L459.88,29.79 L460.34,29.67 L460.80,29.54 L461.26,29.42 L461.72,29.30 L462.18,29.18 L462.64,29.06 L463.10,28.94 L463.56,28.82 L464.02,28.70 L464.48,28.59 L464.94,28.47 L465.40,28.36 L465.86,28.25 L466.32,28.14 L466.78,28.03 L467.24,27.92 L467.70,27.81 L468.16,27.70 L468.62,27.59 L469.08,27.48 L469.54,27.38 L470.00,27.27 L470.47,27.17 L470.93,27.07 L471.39,26.96 L471.85,26.86 L472.31,26.76 L472.77,26.66 L473.23,26.56 L473.69,26.46 L474.15,26.36 L474.61,26.26 L475.07,26.17 L475.53,26.07 L475.99,25.98" fill="none" stroke="#a878f0" stroke-width="0.85" stroke-opacity="0.85"/>
<path d="M383.91,160.47 L384.37,161.56 L384.83,162.63 L385.29,163.68 L385.75,164.70 L386.21,165.65 L386.67,166.50 L387.13,167.22 L387.59,167.27 L388.05,166.69 L388.51,165.95 L388.97,165.02 L389.43,163.91 L389.90,162.61 L390.36,161.10 L390.82,159.40 L391.28,157.52 L391.74,155.48 L392.20,153.31 L392.66,151.05 L393.12,148.70 L393.58,146.28 L394.04,143.82 L394.50,141.32 L394.96,138.80 L395.42,136.25 L395.88,133.69 L396.34,131.12 L396.80,128.54 L397.26,125.90 L397.72,123.25 L398.18,120.64 L398.64,118.11 L399.10,115.71 L399.56,113.41 L400.02,111.17 L400.48,108.99 L400.94,106.84 L401.41,104.72 L401.87,102.65 L402.33,100.62 L402.79,98.60 L403.25,96.59 L403.71,94.55 L404.17,92.51 L404.63,90.47 L405.09,88.41 L405.55,86.35 L406.01,84.29 L406.47,82.23 L406.93,80.17 L407.39,78.11 L407.85,76.05 L408.31,73.98 L408.77,71.83 L409.23,69.67 L409.69,67.58 L410.15,65.62 L410.61,63.87 L411.07,62.23 L411.53,60.69 L411.99,59.23 L412.45,57.86 L412.92,56.57 L413.38,55.32 L413.84,54.14 L414.30,53.03 L414.76,52.02 L415.22,51.11 L415.68,50.28 L416.14,49.52 L416.60,48.80 L417.06,48.09 L417.52,47.40 L417.98,46.71 L418.44,46.04 L418.90,45.40 L419.36,44.79 L419.82,44.21 L420.28,43.65 L420.74,43.10 L421.20,42.56 L421.66,42.03 L422.12,41.52 L422.58,41.03 L423.04,40.56 L423.50,40.12 L423.96,39.69 L424.43,39.29 L424.89,38.91 L425.35,38.53 L425.81,38.18 L426.27,37.83 L426.73,37.50 L427.19,37.18 L427.65,36.88 L428.11,36.60 L428.57,36.33 L429.03,36.07 L429.49,35.81 L429.95,35.57 L430.41,35.34 L430.87,35.11 L431.33,34.89 L431.79,34.68 L432.25,34.47 L432.71,34.27 L433.17,34.07 L433.63,33.87 L434.09,33.68 L434.55,33.49 L435.01,33.30 L435.47,33.11 L435.94,32.93 L436.40,32.75 L436.86,32.58 L437.32,32.41 L437.78,32.24 L438.24,32.07 L438.70,31.91 L439.16,31.75 L439.62,31.60 L440.08,31.44 L440.54,31.30 L441.00,31.15 L441.46,31.01 L441.92,30.87 L442.38,30.74 L442.84,30.61 L443.30,30.48 L443.76,30.36 L444.22,30.23 L444.68,30.11 L445.14,29.99 L445.60,29.87 L446.06,29.75 L446.52,29.64 L446.98,29.52 L447.45,29.41 L447.91,29.30 L448.37,29.18 L448.83,29.07 L449.29,28.96 L449.75,28.85 L450.21,28.75 L450.67,28.64 L451.13,28.53 L451.59,28.42 L452.05,28.32 L452.51,28.21 L452.97,28.10 L453.43,28.00 L453.89,27.89 L454.35,27.79 L454.81,27.69 L455.27,27.58 L455.73,27.48 L456.19,27.38 L456.65,27.28 L457.11,27.18 L457.57,27.08 L458.03,26.99 L458.49,26.89 L458.96,26.80 L459.42,26.70 L459.88,26.61 L460.34,26.52 L460.80,26.42 L461.26,26.33 L461.72,26.24 L462.18,26.16 L462.64,26.07 L463.10,25.98 L463.56,25.90 L464.02,25.81 L464.48,25.73 L464.94,25.65 L465.40,25.57 L465.86,25.49 L466.32,25.41 L466.78,25.33 L467.24,25.25 L467.70,25.17 L468.16,25.10 L468.62,25.02 L469.08,24.95 L469.54,24.87 L470.00,24.80 L470.47,24.72 L470.93,24.65 L471.39,24.58 L471.85,24.51 L472.31,24.44 L472.77,24.37 L473.23,24.30 L473.69,24.24 L474.15,24.17 L474.61,24.10 L475.07,24.04 L475.53,23.97 L475.99,23.91" fill="none" stroke="#e8aa34" stroke-width="0.85" stroke-opacity="0.85"/>
</g>
<rect x="372.40" y="13.00" width="115.10" height="167.00" fill="none" stroke="#a8a8a8" stroke-width="1.3" />
<line x1="370.20" y1="13.00" x2="373.00" y2="13.00" stroke="#333" stroke-width="1.1" />
<text x="368.80" y="17.30" font-size="11.6" text-anchor="end">10<tspan font-size="8.3" dy="-4.4">-4</tspan></text>
<line x1="371.20" y1="25.97" x2="372.70" y2="25.97" stroke="#333" stroke-width="0.9" />
<line x1="371.20" y1="22.70" x2="372.70" y2="22.70" stroke="#333" stroke-width="0.9" />
<line x1="371.20" y1="20.38" x2="372.70" y2="20.38" stroke="#333" stroke-width="0.9" />
<line x1="371.20" y1="18.59" x2="372.70" y2="18.59" stroke="#333" stroke-width="0.9" />
<line x1="371.20" y1="17.12" x2="372.70" y2="17.12" stroke="#333" stroke-width="0.9" />
<line x1="371.20" y1="15.87" x2="372.70" y2="15.87" stroke="#333" stroke-width="0.9" />
<line x1="371.20" y1="14.80" x2="372.70" y2="14.80" stroke="#333" stroke-width="0.9" />
<line x1="371.20" y1="13.85" x2="372.70" y2="13.85" stroke="#333" stroke-width="0.9" />
<line x1="370.20" y1="31.56" x2="373.00" y2="31.56" stroke="#333" stroke-width="1.1" />
<text x="368.80" y="35.86" font-size="11.6" text-anchor="end">10<tspan font-size="8.3" dy="-4.4">-5</tspan></text>
<line x1="371.20" y1="44.53" x2="372.70" y2="44.53" stroke="#333" stroke-width="0.9" />
<line x1="371.20" y1="41.26" x2="372.70" y2="41.26" stroke="#333" stroke-width="0.9" />
<line x1="371.20" y1="38.94" x2="372.70" y2="38.94" stroke="#333" stroke-width="0.9" />
<line x1="371.20" y1="37.14" x2="372.70" y2="37.14" stroke="#333" stroke-width="0.9" />
<line x1="371.20" y1="35.67" x2="372.70" y2="35.67" stroke="#333" stroke-width="0.9" />
<line x1="371.20" y1="34.43" x2="372.70" y2="34.43" stroke="#333" stroke-width="0.9" />
<line x1="371.20" y1="33.35" x2="372.70" y2="33.35" stroke="#333" stroke-width="0.9" />
<line x1="371.20" y1="32.40" x2="372.70" y2="32.40" stroke="#333" stroke-width="0.9" />
<line x1="370.20" y1="50.11" x2="373.00" y2="50.11" stroke="#333" stroke-width="1.1" />
<text x="368.80" y="54.41" font-size="11.6" text-anchor="end">10<tspan font-size="8.3" dy="-4.4">-6</tspan></text>
<line x1="371.20" y1="63.08" x2="372.70" y2="63.08" stroke="#333" stroke-width="0.9" />
<line x1="371.20" y1="59.81" x2="372.70" y2="59.81" stroke="#333" stroke-width="0.9" />
<line x1="371.20" y1="57.50" x2="372.70" y2="57.50" stroke="#333" stroke-width="0.9" />
<line x1="371.20" y1="55.70" x2="372.70" y2="55.70" stroke="#333" stroke-width="0.9" />
<line x1="371.20" y1="54.23" x2="372.70" y2="54.23" stroke="#333" stroke-width="0.9" />
<line x1="371.20" y1="52.99" x2="372.70" y2="52.99" stroke="#333" stroke-width="0.9" />
<line x1="371.20" y1="51.91" x2="372.70" y2="51.91" stroke="#333" stroke-width="0.9" />
<line x1="371.20" y1="50.96" x2="372.70" y2="50.96" stroke="#333" stroke-width="0.9" />
<line x1="370.20" y1="68.67" x2="373.00" y2="68.67" stroke="#333" stroke-width="1.1" />
<text x="368.80" y="72.97" font-size="11.6" text-anchor="end">10<tspan font-size="8.3" dy="-4.4">-7</tspan></text>
<line x1="371.20" y1="81.64" x2="372.70" y2="81.64" stroke="#333" stroke-width="0.9" />
<line x1="371.20" y1="78.37" x2="372.70" y2="78.37" stroke="#333" stroke-width="0.9" />
<line x1="371.20" y1="76.05" x2="372.70" y2="76.05" stroke="#333" stroke-width="0.9" />
<line x1="371.20" y1="74.25" x2="372.70" y2="74.25" stroke="#333" stroke-width="0.9" />
<line x1="371.20" y1="72.78" x2="372.70" y2="72.78" stroke="#333" stroke-width="0.9" />
<line x1="371.20" y1="71.54" x2="372.70" y2="71.54" stroke="#333" stroke-width="0.9" />
<line x1="371.20" y1="70.46" x2="372.70" y2="70.46" stroke="#333" stroke-width="0.9" />
<line x1="371.20" y1="69.52" x2="372.70" y2="69.52" stroke="#333" stroke-width="0.9" />
<line x1="370.20" y1="87.22" x2="373.00" y2="87.22" stroke="#333" stroke-width="1.1" />
<text x="368.80" y="91.52" font-size="11.6" text-anchor="end">10<tspan font-size="8.3" dy="-4.4">-8</tspan></text>
<line x1="371.20" y1="100.19" x2="372.70" y2="100.19" stroke="#333" stroke-width="0.9" />
<line x1="371.20" y1="96.92" x2="372.70" y2="96.92" stroke="#333" stroke-width="0.9" />
<line x1="371.20" y1="94.61" x2="372.70" y2="94.61" stroke="#333" stroke-width="0.9" />
<line x1="371.20" y1="92.81" x2="372.70" y2="92.81" stroke="#333" stroke-width="0.9" />
<line x1="371.20" y1="91.34" x2="372.70" y2="91.34" stroke="#333" stroke-width="0.9" />
<line x1="371.20" y1="90.10" x2="372.70" y2="90.10" stroke="#333" stroke-width="0.9" />
<line x1="371.20" y1="89.02" x2="372.70" y2="89.02" stroke="#333" stroke-width="0.9" />
<line x1="371.20" y1="88.07" x2="372.70" y2="88.07" stroke="#333" stroke-width="0.9" />
<line x1="370.20" y1="105.78" x2="373.00" y2="105.78" stroke="#333" stroke-width="1.1" />
<text x="368.80" y="110.08" font-size="11.6" text-anchor="end">10<tspan font-size="8.3" dy="-4.4">-9</tspan></text>
<line x1="371.20" y1="118.75" x2="372.70" y2="118.75" stroke="#333" stroke-width="0.9" />
<line x1="371.20" y1="115.48" x2="372.70" y2="115.48" stroke="#333" stroke-width="0.9" />
<line x1="371.20" y1="113.16" x2="372.70" y2="113.16" stroke="#333" stroke-width="0.9" />
<line x1="371.20" y1="111.36" x2="372.70" y2="111.36" stroke="#333" stroke-width="0.9" />
<line x1="371.20" y1="109.89" x2="372.70" y2="109.89" stroke="#333" stroke-width="0.9" />
<line x1="371.20" y1="108.65" x2="372.70" y2="108.65" stroke="#333" stroke-width="0.9" />
<line x1="371.20" y1="107.58" x2="372.70" y2="107.58" stroke="#333" stroke-width="0.9" />
<line x1="371.20" y1="106.63" x2="372.70" y2="106.63" stroke="#333" stroke-width="0.9" />
<line x1="370.20" y1="124.33" x2="373.00" y2="124.33" stroke="#333" stroke-width="1.1" />
<text x="368.80" y="128.63" font-size="11.6" text-anchor="end">10<tspan font-size="8.3" dy="-4.4">-10</tspan></text>
<line x1="371.20" y1="137.30" x2="372.70" y2="137.30" stroke="#333" stroke-width="0.9" />
<line x1="371.20" y1="134.04" x2="372.70" y2="134.04" stroke="#333" stroke-width="0.9" />
<line x1="371.20" y1="131.72" x2="372.70" y2="131.72" stroke="#333" stroke-width="0.9" />
<line x1="371.20" y1="129.92" x2="372.70" y2="129.92" stroke="#333" stroke-width="0.9" />
<line x1="371.20" y1="128.45" x2="372.70" y2="128.45" stroke="#333" stroke-width="0.9" />
<line x1="371.20" y1="127.21" x2="372.70" y2="127.21" stroke="#333" stroke-width="0.9" />
<line x1="371.20" y1="126.13" x2="372.70" y2="126.13" stroke="#333" stroke-width="0.9" />
<line x1="371.20" y1="125.18" x2="372.70" y2="125.18" stroke="#333" stroke-width="0.9" />
<line x1="370.20" y1="142.89" x2="373.00" y2="142.89" stroke="#333" stroke-width="1.1" />
<text x="368.80" y="147.19" font-size="11.6" text-anchor="end">10<tspan font-size="8.3" dy="-4.4">-11</tspan></text>
<line x1="371.20" y1="155.86" x2="372.70" y2="155.86" stroke="#333" stroke-width="0.9" />
<line x1="371.20" y1="152.59" x2="372.70" y2="152.59" stroke="#333" stroke-width="0.9" />
<line x1="371.20" y1="150.27" x2="372.70" y2="150.27" stroke="#333" stroke-width="0.9" />
<line x1="371.20" y1="148.47" x2="372.70" y2="148.47" stroke="#333" stroke-width="0.9" />
<line x1="371.20" y1="147.01" x2="372.70" y2="147.01" stroke="#333" stroke-width="0.9" />
<line x1="371.20" y1="145.76" x2="372.70" y2="145.76" stroke="#333" stroke-width="0.9" />
<line x1="371.20" y1="144.69" x2="372.70" y2="144.69" stroke="#333" stroke-width="0.9" />
<line x1="371.20" y1="143.74" x2="372.70" y2="143.74" stroke="#333" stroke-width="0.9" />
<line x1="370.20" y1="161.44" x2="373.00" y2="161.44" stroke="#333" stroke-width="1.1" />
<text x="368.80" y="165.74" font-size="11.6" text-anchor="end">10<tspan font-size="8.3" dy="-4.4">-12</tspan></text>
<line x1="371.20" y1="174.41" x2="372.70" y2="174.41" stroke="#333" stroke-width="0.9" />
<line x1="371.20" y1="171.15" x2="372.70" y2="171.15" stroke="#333" stroke-width="0.9" />
<line x1="371.20" y1="168.83" x2="372.70" y2="168.83" stroke="#333" stroke-width="0.9" />
<line x1="371.20" y1="167.03" x2="372.70" y2="167.03" stroke="#333" stroke-width="0.9" />
<line x1="371.20" y1="165.56" x2="372.70" y2="165.56" stroke="#333" stroke-width="0.9" />
<line x1="371.20" y1="164.32" x2="372.70" y2="164.32" stroke="#333" stroke-width="0.9" />
<line x1="371.20" y1="163.24" x2="372.70" y2="163.24" stroke="#333" stroke-width="0.9" />
<line x1="371.20" y1="162.29" x2="372.70" y2="162.29" stroke="#333" stroke-width="0.9" />
<line x1="370.20" y1="180.00" x2="373.00" y2="180.00" stroke="#333" stroke-width="1.1" />
<text x="368.80" y="184.30" font-size="11.6" text-anchor="end">10<tspan font-size="8.3" dy="-4.4">-13</tspan></text>
<line x1="383.91" y1="180.60" x2="383.91" y2="182.80" stroke="#333" stroke-width="1" />
<line x1="406.93" y1="180.60" x2="406.93" y2="182.80" stroke="#333" stroke-width="1" />
<line x1="429.95" y1="180.60" x2="429.95" y2="182.80" stroke="#333" stroke-width="1" />
<line x1="452.97" y1="180.60" x2="452.97" y2="182.80" stroke="#333" stroke-width="1" />
<line x1="475.99" y1="180.60" x2="475.99" y2="182.80" stroke="#333" stroke-width="1" />
<line x1="395.42" y1="180.60" x2="395.42" y2="181.80" stroke="#333" stroke-width="0.9" />
<line x1="418.44" y1="180.60" x2="418.44" y2="181.80" stroke="#333" stroke-width="0.9" />
<line x1="441.46" y1="180.60" x2="441.46" y2="181.80" stroke="#333" stroke-width="0.9" />
<line x1="464.48" y1="180.60" x2="464.48" y2="181.80" stroke="#333" stroke-width="0.9" />
<text x="384.61" y="194.50" font-size="12.2" text-anchor="middle" font-weight="normal" font-style="normal" fill="#000" >-20</text>
<text x="407.63" y="194.50" font-size="12.2" text-anchor="middle" font-weight="normal" font-style="normal" fill="#000" >-10</text>
<text x="429.95" y="194.50" font-size="12.2" text-anchor="middle" font-weight="normal" font-style="normal" fill="#000" >0</text>
<text x="452.97" y="194.50" font-size="12.2" text-anchor="middle" font-weight="normal" font-style="normal" fill="#000" >10</text>
<text x="475.99" y="194.50" font-size="12.2" text-anchor="middle" font-weight="normal" font-style="normal" fill="#000" >20</text>
<text x="430.8" y="208.5" font-size="12.3" text-anchor="middle"><tspan font-style="italic">V</tspan><tspan font-size="9" dy="2.7">G</tspan><tspan dy="-2.7"> (V)</tspan></text>
<text transform="translate(338.6,96.7) rotate(-90)" font-size="11.9" text-anchor="middle"><tspan font-style="italic">I</tspan><tspan font-size="8.5" dy="2.5">D</tspan><tspan dy="-2.5"> (A)</tspan></text>
<line x1="425.00" y1="98.50" x2="438.20" y2="98.50" stroke="#8a8a8a" stroke-width="1" stroke-opacity="0.75"/>
<text x="441.20" y="102.70" font-size="11.9" text-anchor="start" font-weight="normal" font-style="normal" fill="#000" >0%</text>
<line x1="425.00" y1="112.50" x2="438.20" y2="112.50" stroke="#ff4a4a" stroke-width="1" stroke-opacity="0.75"/>
<text x="441.20" y="116.70" font-size="11.9" text-anchor="start" font-weight="normal" font-style="normal" fill="#000" >5%</text>
<line x1="425.00" y1="127.50" x2="438.20" y2="127.50" stroke="#3a78e6" stroke-width="1" stroke-opacity="0.75"/>
<text x="441.20" y="131.70" font-size="11.9" text-anchor="start" font-weight="normal" font-style="normal" fill="#000" >10%</text>
<line x1="425.00" y1="141.50" x2="438.20" y2="141.50" stroke="#3cb87a" stroke-width="1" stroke-opacity="0.75"/>
<text x="441.20" y="145.70" font-size="11.9" text-anchor="start" font-weight="normal" font-style="normal" fill="#000" >15%</text>
<line x1="425.00" y1="156.50" x2="438.20" y2="156.50" stroke="#a878f0" stroke-width="1" stroke-opacity="0.75"/>
<text x="441.20" y="160.70" font-size="11.9" text-anchor="start" font-weight="normal" font-style="normal" fill="#000" >20%</text>
<line x1="425.00" y1="170.50" x2="438.20" y2="170.50" stroke="#e8aa34" stroke-width="1" stroke-opacity="0.75"/>
<text x="441.20" y="174.70" font-size="11.9" text-anchor="start" font-weight="normal" font-style="normal" fill="#000" >Release</text>
<rect x="448.25" y="56.80" width="8.9" height="13.6" fill="#000"/>
<rect x="459.45" y="56.80" width="8.9" height="13.6" fill="#000"/>
<text x="452.70" y="67.74" font-size="11.5" fill="#fff" text-anchor="middle">S</text>
<text x="463.90" y="67.74" font-size="11.5" fill="#fff" text-anchor="middle">D</text>
<line x1="439.75" y1="63.60" x2="446.55" y2="63.60" stroke="#000" stroke-width="1.15"/>
<path d="M436.75,63.60 L442.55,60.50 L442.55,66.70 Z" fill="#000"/>
<line x1="470.05" y1="63.60" x2="476.85" y2="63.60" stroke="#000" stroke-width="1.15"/>
<path d="M479.85,63.60 L474.05,60.50 L474.05,66.70 Z" fill="#000"/>
<g clip-path="none">
<path d="M383.91,372.19 L384.37,372.56 L384.83,372.92 L385.29,373.29 L385.75,373.66 L386.21,374.03 L386.67,374.39 L387.13,374.76 L387.59,375.12 L388.05,375.48 L388.51,375.83 L388.97,376.17 L389.43,376.49 L389.90,376.80 L390.36,377.07 L390.82,377.30 L391.28,377.12 L391.74,376.87 L392.20,376.53 L392.66,376.07 L393.12,375.48 L393.58,374.73 L394.04,373.81 L394.50,372.71 L394.96,371.39 L395.42,369.87 L395.88,368.16 L396.34,366.26 L396.80,364.22 L397.26,362.04 L397.72,359.77 L398.18,357.41 L398.64,355.00 L399.10,352.53 L399.56,350.03 L400.02,347.50 L400.48,344.96 L400.94,342.40 L401.41,339.80 L401.87,337.16 L402.33,334.52 L402.79,331.95 L403.25,329.49 L403.71,327.14 L404.17,324.88 L404.63,322.67 L405.09,320.62 L405.55,318.60 L406.01,316.61 L406.47,314.67 L406.93,312.77 L407.39,310.87 L407.85,308.95 L408.31,307.02 L408.77,305.09 L409.23,303.16 L409.69,301.23 L410.15,299.30 L410.61,297.37 L411.07,295.44 L411.53,293.51 L411.99,291.58 L412.45,289.65 L412.92,287.67 L413.38,285.64 L413.84,283.63 L414.30,281.73 L414.76,280.00 L415.22,278.45 L415.68,276.99 L416.14,275.62 L416.60,274.34 L417.06,273.14 L417.52,272.00 L417.98,270.91 L418.44,269.90 L418.90,268.96 L419.36,268.13 L419.82,267.39 L420.28,266.73 L420.74,266.12 L421.20,265.54 L421.66,264.97 L422.12,264.41 L422.58,263.86 L423.04,263.34 L423.50,262.84 L423.96,262.38 L424.43,261.94 L424.89,261.51 L425.35,261.09 L425.81,260.69 L426.27,260.30 L426.73,259.94 L427.19,259.59 L427.65,259.26 L428.11,258.84 L428.57,258.44 L429.03,258.07 L429.49,257.71 L429.95,257.37 L430.41,257.03 L430.87,256.70 L431.33,256.38 L431.79,256.07 L432.25,255.77 L432.71,255.47 L433.17,255.19 L433.63,254.91 L434.09,254.64 L434.55,254.37 L435.01,254.11 L435.47,253.86 L435.94,253.62 L436.40,253.38 L436.86,253.14 L437.32,252.90 L437.78,252.67 L438.24,252.44 L438.70,252.21 L439.16,251.99 L439.62,251.76 L440.08,251.54 L440.54,251.32 L441.00,251.11 L441.46,250.89 L441.92,250.64 L442.38,250.39 L442.84,250.14 L443.30,249.89 L443.76,249.65 L444.22,249.41 L444.68,249.17 L445.14,248.94 L445.60,248.70 L446.06,248.47 L446.52,248.24 L446.98,248.01 L447.45,247.78 L447.91,247.56 L448.37,247.33 L448.83,247.11 L449.29,246.89 L449.75,246.66 L450.21,246.44 L450.67,246.22 L451.13,246.00 L451.59,245.78 L452.05,245.57 L452.51,245.35 L452.97,245.13 L453.43,244.91 L453.89,244.69 L454.35,244.48 L454.81,244.26 L455.27,244.04 L455.73,243.83 L456.19,243.61 L456.65,243.39 L457.11,243.17 L457.57,242.96 L458.03,242.74 L458.49,242.52 L458.96,242.30 L459.42,242.09 L459.88,241.87 L460.34,241.65 L460.80,241.44 L461.26,241.22 L461.72,241.01 L462.18,240.79 L462.64,240.58 L463.10,240.36 L463.56,240.15 L464.02,239.94 L464.48,239.72 L464.94,239.51 L465.40,239.30 L465.86,239.09 L466.32,238.88 L466.78,238.67 L467.24,238.46 L467.70,238.25 L468.16,238.04 L468.62,237.84 L469.08,237.63 L469.54,237.42 L470.00,237.22 L470.47,237.01 L470.93,236.81 L471.39,236.60 L471.85,236.40 L472.31,236.19 L472.77,235.99 L473.23,235.78 L473.69,235.58 L474.15,235.38 L474.61,235.17 L475.07,234.97 L475.53,234.77 L475.99,234.57" fill="none" stroke="#8a8a8a" stroke-width="0.85" stroke-opacity="0.85"/>
<path d="M383.91,371.82 L384.37,372.63 L384.83,373.45 L385.29,374.27 L385.75,375.08 L386.21,375.90 L386.67,376.71 L387.13,377.53 L387.59,378.34 L388.05,379.16 L388.51,379.97 L388.97,380.79 L389.43,381.60 L389.90,382.41 L390.36,383.21 L390.82,384.01 L391.28,384.81 L391.74,385.59 L392.20,385.96 L392.66,385.91 L393.12,385.85 L393.58,385.76 L394.04,385.63 L394.50,385.45 L394.96,385.21 L395.42,384.87 L395.88,384.42 L396.34,383.81 L396.80,383.03 L397.26,382.05 L397.72,380.85 L398.18,379.45 L398.64,377.87 L399.10,376.12 L399.56,374.19 L400.02,372.11 L400.48,369.92 L400.94,367.62 L401.41,365.25 L401.87,362.82 L402.33,360.35 L402.79,357.84 L403.25,355.31 L403.71,352.76 L404.17,350.20 L404.63,347.63 L405.09,345.16 L405.55,342.69 L406.01,340.18 L406.47,337.63 L406.93,335.11 L407.39,332.64 L407.85,330.28 L408.31,328.04 L408.77,325.89 L409.23,323.79 L409.69,321.74 L410.15,319.71 L410.61,317.73 L411.07,315.79 L411.53,313.88 L411.99,311.98 L412.45,310.06 L412.92,308.13 L413.38,306.20 L413.84,304.28 L414.30,302.35 L414.76,300.42 L415.22,298.49 L415.68,296.56 L416.14,294.63 L416.60,292.70 L417.06,290.77 L417.52,288.79 L417.98,286.75 L418.44,284.75 L418.90,282.84 L419.36,281.12 L419.82,279.56 L420.28,278.10 L420.74,276.73 L421.20,275.45 L421.66,274.25 L422.12,273.11 L422.58,272.03 L423.04,271.01 L423.50,270.08 L423.96,269.24 L424.43,268.51 L424.89,267.85 L425.35,267.24 L425.81,266.66 L426.27,266.09 L426.73,265.52 L427.19,264.98 L427.65,264.45 L428.11,263.84 L428.57,263.27 L429.03,262.72 L429.49,262.18 L429.95,261.65 L430.41,261.13 L430.87,260.62 L431.33,260.12 L431.79,259.64 L432.25,259.17 L432.71,258.73 L433.17,258.31 L433.63,257.90 L434.09,257.51 L434.55,257.13 L435.01,256.76 L435.47,256.41 L435.94,256.06 L436.40,255.72 L436.86,255.40 L437.32,255.08 L437.78,254.77 L438.24,254.47 L438.70,254.17 L439.16,253.88 L439.62,253.60 L440.08,253.33 L440.54,253.06 L441.00,252.79 L441.46,252.53 L441.92,252.24 L442.38,251.94 L442.84,251.65 L443.30,251.35 L443.76,251.06 L444.22,250.77 L444.68,250.49 L445.14,250.20 L445.60,249.92 L446.06,249.64 L446.52,249.36 L446.98,249.09 L447.45,248.82 L447.91,248.55 L448.37,248.28 L448.83,248.01 L449.29,247.75 L449.75,247.49 L450.21,247.23 L450.67,246.97 L451.13,246.72 L451.59,246.46 L452.05,246.21 L452.51,245.96 L452.97,245.71 L453.43,245.46 L453.89,245.21 L454.35,244.96 L454.81,244.71 L455.27,244.47 L455.73,244.22 L456.19,243.98 L456.65,243.73 L457.11,243.48 L457.57,243.24 L458.03,243.00 L458.49,242.75 L458.96,242.51 L459.42,242.26 L459.88,242.02 L460.34,241.77 L460.80,241.52 L461.26,241.28 L461.72,241.03 L462.18,240.79 L462.64,240.54 L463.10,240.30 L463.56,240.05 L464.02,239.80 L464.48,239.56 L464.94,239.31 L465.40,239.07 L465.86,238.82 L466.32,238.58 L466.78,238.33 L467.24,238.09 L467.70,237.84 L468.16,237.60 L468.62,237.36 L469.08,237.11 L469.54,236.87 L470.00,236.63 L470.47,236.39 L470.93,236.15 L471.39,235.91 L471.85,235.67 L472.31,235.43 L472.77,235.19 L473.23,234.95 L473.69,234.71 L474.15,234.47 L474.61,234.24 L475.07,234.00 L475.53,233.76 L475.99,233.52" fill="none" stroke="#ff4a4a" stroke-width="0.85" stroke-opacity="0.85"/>
<path d="M383.91,367.81 L384.37,367.88 L384.83,367.85 L385.29,367.52 L385.75,366.91 L386.21,366.13 L386.67,365.17 L387.13,364.00 L387.59,362.63 L388.05,361.05 L388.51,359.28 L388.97,357.34 L389.43,355.26 L389.90,353.05 L390.36,350.75 L390.82,348.38 L391.28,345.95 L391.74,343.47 L392.20,340.95 L392.66,338.37 L393.12,335.76 L393.58,333.17 L394.04,330.66 L394.50,328.27 L394.96,325.98 L395.42,323.75 L395.88,321.57 L396.34,319.43 L396.80,317.31 L397.26,315.24 L397.72,313.21 L398.18,311.20 L398.64,309.18 L399.10,307.15 L399.56,305.11 L400.02,303.07 L400.48,301.03 L400.94,298.99 L401.41,296.95 L401.87,294.90 L402.33,292.86 L402.79,290.82 L403.25,288.78 L403.71,286.73 L404.17,284.60 L404.63,282.46 L405.09,280.34 L405.55,278.36 L406.01,276.58 L406.47,274.91 L406.93,273.34 L407.39,271.86 L407.85,270.47 L408.31,269.15 L408.77,267.88 L409.23,266.67 L409.69,265.53 L410.15,264.49 L410.61,263.55 L411.07,262.70 L411.53,261.91 L411.99,261.17 L412.45,260.44 L412.92,259.71 L413.38,259.00 L413.84,258.31 L414.30,257.64 L414.76,257.00 L415.22,256.40 L415.68,255.81 L416.14,255.23 L416.60,254.67 L417.06,254.12 L417.52,253.58 L417.98,253.07 L418.44,252.57 L418.90,252.10 L419.36,251.65 L419.82,251.22 L420.28,250.81 L420.74,250.41 L421.20,250.03 L421.66,249.66 L422.12,249.30 L422.58,248.96 L423.04,248.62 L423.50,248.30 L423.96,247.98 L424.43,247.68 L424.89,247.38 L425.35,247.10 L425.81,246.82 L426.27,246.55 L426.73,246.28 L427.19,246.02 L427.65,245.77 L428.11,245.57 L428.57,245.37 L429.03,245.17 L429.49,244.98 L429.95,244.79 L430.41,244.60 L430.87,244.41 L431.33,244.23 L431.79,244.05 L432.25,243.88 L432.71,243.71 L433.17,243.54 L433.63,243.37 L434.09,243.21 L434.55,243.05 L435.01,242.90 L435.47,242.75 L435.94,242.60 L436.40,242.45 L436.86,242.31 L437.32,242.17 L437.78,242.03 L438.24,241.89 L438.70,241.76 L439.16,241.63 L439.62,241.49 L440.08,241.37 L440.54,241.24 L441.00,241.11 L441.46,240.99 L441.92,240.88 L442.38,240.78 L442.84,240.67 L443.30,240.57 L443.76,240.47 L444.22,240.36 L444.68,240.26 L445.14,240.16 L445.60,240.06 L446.06,239.97 L446.52,239.87 L446.98,239.77 L447.45,239.67 L447.91,239.58 L448.37,239.48 L448.83,239.38 L449.29,239.29 L449.75,239.19 L450.21,239.10 L450.67,239.01 L451.13,238.92 L451.59,238.82 L452.05,238.73 L452.51,238.64 L452.97,238.56 L453.43,238.47 L453.89,238.38 L454.35,238.30 L454.81,238.21 L455.27,238.13 L455.73,238.04 L456.19,237.96 L456.65,237.88 L457.11,237.80 L457.57,237.72 L458.03,237.65 L458.49,237.57 L458.96,237.49 L459.42,237.42 L459.88,237.35 L460.34,237.27 L460.80,237.20 L461.26,237.13 L461.72,237.06 L462.18,236.99 L462.64,236.92 L463.10,236.85 L463.56,236.79 L464.02,236.72 L464.48,236.65 L464.94,236.59 L465.40,236.53 L465.86,236.46 L466.32,236.40 L466.78,236.34 L467.24,236.28 L467.70,236.22 L468.16,236.16 L468.62,236.10 L469.08,236.04 L469.54,235.98 L470.00,235.93 L470.47,235.87 L470.93,235.81 L471.39,235.76 L471.85,235.70 L472.31,235.65 L472.77,235.59 L473.23,235.54 L473.69,235.49 L474.15,235.43 L474.61,235.38 L475.07,235.33 L475.53,235.27 L475.99,235.22" fill="none" stroke="#3a78e6" stroke-width="0.85" stroke-opacity="0.85"/>
<path d="M383.91,370.56 L384.37,370.85 L384.83,371.06 L385.29,371.18 L385.75,371.17 L386.21,370.99 L386.67,370.31 L387.13,369.45 L387.59,368.41 L388.05,367.15 L388.51,365.69 L388.97,364.03 L389.43,362.18 L389.90,360.18 L390.36,358.04 L390.82,355.79 L391.28,353.45 L391.74,351.05 L392.20,348.60 L392.66,346.11 L393.12,343.59 L393.58,341.04 L394.04,338.43 L394.50,335.80 L394.96,333.20 L395.42,330.69 L395.88,328.29 L396.34,325.99 L396.80,323.76 L397.26,321.58 L397.72,319.43 L398.18,317.31 L398.64,315.24 L399.10,313.21 L399.56,311.20 L400.02,309.19 L400.48,307.15 L400.94,305.11 L401.41,303.07 L401.87,301.03 L402.33,298.99 L402.79,296.95 L403.25,294.90 L403.71,292.86 L404.17,290.82 L404.63,288.78 L405.09,286.69 L405.55,284.52 L406.01,282.35 L406.47,280.23 L406.93,278.26 L407.39,276.49 L407.85,274.83 L408.31,273.27 L408.77,271.80 L409.23,270.41 L409.69,269.09 L410.15,267.83 L410.61,266.63 L411.07,265.50 L411.53,264.47 L411.99,263.54 L412.45,262.69 L412.92,261.91 L413.38,261.17 L413.84,260.45 L414.30,259.74 L414.76,259.03 L415.22,258.35 L415.68,257.68 L416.14,257.06 L416.60,256.46 L417.06,255.88 L417.52,255.31 L417.98,254.75 L418.44,254.21 L418.90,253.68 L419.36,253.17 L419.82,252.68 L420.28,252.22 L420.74,251.77 L421.20,251.35 L421.66,250.95 L422.12,250.56 L422.58,250.18 L423.04,249.82 L423.50,249.47 L423.96,249.13 L424.43,248.81 L424.89,248.49 L425.35,248.18 L425.81,247.89 L426.27,247.60 L426.73,247.32 L427.19,247.05 L427.65,246.78 L428.11,246.56 L428.57,246.35 L429.03,246.14 L429.49,245.94 L429.95,245.74 L430.41,245.54 L430.87,245.35 L431.33,245.16 L431.79,244.97 L432.25,244.79 L432.71,244.60 L433.17,244.43 L433.63,244.25 L434.09,244.08 L434.55,243.91 L435.01,243.74 L435.47,243.58 L435.94,243.42 L436.40,243.27 L436.86,243.12 L437.32,242.97 L437.78,242.82 L438.24,242.68 L438.70,242.54 L439.16,242.40 L439.62,242.26 L440.08,242.13 L440.54,242.00 L441.00,241.87 L441.46,241.74 L441.92,241.62 L442.38,241.51 L442.84,241.40 L443.30,241.29 L443.76,241.18 L444.22,241.07 L444.68,240.97 L445.14,240.86 L445.60,240.76 L446.06,240.66 L446.52,240.55 L446.98,240.45 L447.45,240.35 L447.91,240.25 L448.37,240.15 L448.83,240.05 L449.29,239.95 L449.75,239.85 L450.21,239.75 L450.67,239.65 L451.13,239.56 L451.59,239.46 L452.05,239.36 L452.51,239.27 L452.97,239.18 L453.43,239.08 L453.89,238.99 L454.35,238.90 L454.81,238.81 L455.27,238.72 L455.73,238.63 L456.19,238.54 L456.65,238.46 L457.11,238.37 L457.57,238.29 L458.03,238.20 L458.49,238.12 L458.96,238.04 L459.42,237.96 L459.88,237.88 L460.34,237.80 L460.80,237.73 L461.26,237.65 L461.72,237.57 L462.18,237.50 L462.64,237.43 L463.10,237.35 L463.56,237.28 L464.02,237.21 L464.48,237.14 L464.94,237.07 L465.40,237.00 L465.86,236.93 L466.32,236.86 L466.78,236.80 L467.24,236.73 L467.70,236.66 L468.16,236.60 L468.62,236.54 L469.08,236.47 L469.54,236.41 L470.00,236.35 L470.47,236.29 L470.93,236.23 L471.39,236.17 L471.85,236.11 L472.31,236.05 L472.77,235.99 L473.23,235.94 L473.69,235.88 L474.15,235.82 L474.61,235.76 L475.07,235.71 L475.53,235.65 L475.99,235.60" fill="none" stroke="#3cb87a" stroke-width="0.85" stroke-opacity="0.85"/>
<path d="M383.91,368.60 L384.37,368.84 L384.83,368.99 L385.29,369.02 L385.75,368.91 L386.21,368.61 L386.67,367.80 L387.13,366.79 L387.59,365.58 L388.05,364.16 L388.51,362.54 L388.97,360.74 L389.43,358.76 L389.90,356.65 L390.36,354.42 L390.82,352.11 L391.28,349.72 L391.74,347.27 L392.20,344.79 L392.66,342.28 L393.12,339.71 L393.58,337.09 L394.04,334.48 L394.50,331.92 L394.96,329.47 L395.42,327.13 L395.88,324.86 L396.34,322.66 L396.80,320.50 L397.26,318.37 L397.72,316.27 L398.18,314.22 L398.64,312.21 L399.10,310.20 L399.56,308.17 L400.02,306.13 L400.48,304.09 L400.94,302.05 L401.41,300.01 L401.87,297.97 L402.33,295.92 L402.79,293.88 L403.25,291.84 L403.71,289.80 L404.17,287.76 L404.63,285.67 L405.09,283.46 L405.55,281.29 L406.01,279.21 L406.47,277.32 L406.93,275.59 L407.39,273.96 L407.85,272.42 L408.31,270.97 L408.77,269.60 L409.23,268.29 L409.69,267.03 L410.15,265.84 L410.61,264.74 L411.07,263.74 L411.53,262.83 L411.99,262.00 L412.45,261.22 L412.92,260.47 L413.38,259.73 L413.84,258.99 L414.30,258.27 L414.76,257.58 L415.22,256.91 L415.68,256.28 L416.14,255.67 L416.60,255.07 L417.06,254.48 L417.52,253.91 L417.98,253.35 L418.44,252.81 L418.90,252.29 L419.36,251.79 L419.82,251.31 L420.28,250.86 L420.74,250.42 L421.20,250.01 L421.66,249.60 L422.12,249.21 L422.58,248.83 L423.04,248.47 L423.50,248.11 L423.96,247.77 L424.43,247.43 L424.89,247.11 L425.35,246.79 L425.81,246.49 L426.27,246.19 L426.73,245.90 L427.19,245.62 L427.65,245.34 L428.11,245.13 L428.57,244.93 L429.03,244.72 L429.49,244.53 L429.95,244.33 L430.41,244.14 L430.87,243.95 L431.33,243.76 L431.79,243.58 L432.25,243.40 L432.71,243.22 L433.17,243.05 L433.63,242.88 L434.09,242.71 L434.55,242.55 L435.01,242.39 L435.47,242.23 L435.94,242.08 L436.40,241.93 L436.86,241.78 L437.32,241.64 L437.78,241.50 L438.24,241.36 L438.70,241.22 L439.16,241.08 L439.62,240.95 L440.08,240.82 L440.54,240.69 L441.00,240.56 L441.46,240.43 L441.92,240.33 L442.38,240.23 L442.84,240.13 L443.30,240.03 L443.76,239.93 L444.22,239.83 L444.68,239.74 L445.14,239.64 L445.60,239.54 L446.06,239.45 L446.52,239.36 L446.98,239.26 L447.45,239.17 L447.91,239.08 L448.37,238.99 L448.83,238.90 L449.29,238.81 L449.75,238.72 L450.21,238.63 L450.67,238.54 L451.13,238.45 L451.59,238.36 L452.05,238.28 L452.51,238.19 L452.97,238.11 L453.43,238.02 L453.89,237.94 L454.35,237.86 L454.81,237.78 L455.27,237.70 L455.73,237.62 L456.19,237.54 L456.65,237.46 L457.11,237.39 L457.57,237.31 L458.03,237.24 L458.49,237.17 L458.96,237.10 L459.42,237.03 L459.88,236.96 L460.34,236.89 L460.80,236.82 L461.26,236.75 L461.72,236.69 L462.18,236.62 L462.64,236.56 L463.10,236.49 L463.56,236.43 L464.02,236.37 L464.48,236.31 L464.94,236.25 L465.40,236.19 L465.86,236.13 L466.32,236.07 L466.78,236.01 L467.24,235.96 L467.70,235.90 L468.16,235.84 L468.62,235.79 L469.08,235.74 L469.54,235.68 L470.00,235.63 L470.47,235.58 L470.93,235.53 L471.39,235.48 L471.85,235.43 L472.31,235.38 L472.77,235.33 L473.23,235.28 L473.69,235.23 L474.15,235.18 L474.61,235.13 L475.07,235.09 L475.53,235.04 L475.99,234.99" fill="none" stroke="#a878f0" stroke-width="0.85" stroke-opacity="0.85"/>
<path d="M383.91,370.32 L384.37,371.05 L384.83,371.78 L385.29,372.51 L385.75,373.23 L386.21,373.94 L386.67,374.62 L387.13,375.28 L387.59,375.89 L388.05,376.43 L388.51,376.87 L388.97,377.16 L389.43,377.26 L389.90,376.84 L390.36,375.96 L390.82,374.90 L391.28,373.65 L391.74,372.18 L392.20,370.52 L392.66,368.68 L393.12,366.67 L393.58,364.53 L394.04,362.28 L394.50,359.95 L394.96,357.55 L395.42,355.09 L395.88,352.60 L396.34,350.08 L396.80,347.54 L397.26,344.99 L397.72,342.42 L398.18,339.81 L398.64,337.17 L399.10,334.53 L399.56,331.96 L400.02,329.50 L400.48,327.15 L400.94,324.88 L401.41,322.67 L401.87,320.51 L402.33,318.37 L402.79,316.28 L403.25,314.23 L403.71,312.21 L404.17,310.20 L404.63,308.17 L405.09,306.13 L405.55,304.09 L406.01,302.05 L406.47,300.01 L406.93,297.97 L407.39,295.93 L407.85,293.88 L408.31,291.84 L408.77,289.80 L409.23,287.76 L409.69,285.67 L410.15,283.52 L410.61,281.41 L411.07,279.39 L411.53,277.56 L411.99,275.89 L412.45,274.32 L412.92,272.84 L413.38,271.44 L413.84,270.13 L414.30,268.88 L414.76,267.69 L415.22,266.56 L415.68,265.51 L416.14,264.57 L416.60,263.72 L417.06,262.95 L417.52,262.23 L417.98,261.54 L418.44,260.86 L418.90,260.18 L419.36,259.52 L419.82,258.88 L420.28,258.28 L420.74,257.70 L421.20,257.15 L421.66,256.61 L422.12,256.08 L422.58,255.57 L423.04,255.07 L423.50,254.59 L423.96,254.13 L424.43,253.69 L424.89,253.27 L425.35,252.88 L425.81,252.50 L426.27,252.14 L426.73,251.80 L427.19,251.47 L427.65,251.15 L428.11,250.84 L428.57,250.55 L429.03,250.26 L429.49,249.99 L429.95,249.72 L430.41,249.46 L430.87,249.21 L431.33,248.97 L431.79,248.74 L432.25,248.51 L432.71,248.28 L433.17,248.07 L433.63,247.85 L434.09,247.64 L434.55,247.44 L435.01,247.23 L435.47,247.03 L435.94,246.83 L436.40,246.64 L436.86,246.44 L437.32,246.25 L437.78,246.06 L438.24,245.88 L438.70,245.70 L439.16,245.52 L439.62,245.34 L440.08,245.17 L440.54,245.00 L441.00,244.83 L441.46,244.67 L441.92,244.51 L442.38,244.35 L442.84,244.19 L443.30,244.04 L443.76,243.88 L444.22,243.73 L444.68,243.58 L445.14,243.43 L445.60,243.29 L446.06,243.14 L446.52,243.00 L446.98,242.86 L447.45,242.72 L447.91,242.58 L448.37,242.44 L448.83,242.30 L449.29,242.16 L449.75,242.03 L450.21,241.89 L450.67,241.76 L451.13,241.62 L451.59,241.49 L452.05,241.35 L452.51,241.22 L452.97,241.09 L453.43,240.95 L453.89,240.82 L454.35,240.69 L454.81,240.56 L455.27,240.42 L455.73,240.29 L456.19,240.16 L456.65,240.03 L457.11,239.90 L457.57,239.78 L458.03,239.65 L458.49,239.52 L458.96,239.39 L459.42,239.27 L459.88,239.14 L460.34,239.02 L460.80,238.90 L461.26,238.77 L461.72,238.65 L462.18,238.53 L462.64,238.41 L463.10,238.29 L463.56,238.17 L464.02,238.06 L464.48,237.94 L464.94,237.83 L465.40,237.71 L465.86,237.60 L466.32,237.48 L466.78,237.37 L467.24,237.26 L467.70,237.15 L468.16,237.04 L468.62,236.93 L469.08,236.82 L469.54,236.71 L470.00,236.60 L470.47,236.49 L470.93,236.39 L471.39,236.28 L471.85,236.17 L472.31,236.07 L472.77,235.96 L473.23,235.86 L473.69,235.76 L474.15,235.65 L474.61,235.55 L475.07,235.45 L475.53,235.35 L475.99,235.25" fill="none" stroke="#e8aa34" stroke-width="0.85" stroke-opacity="0.85"/>
<path d="M383.91,371.07 L384.37,371.52 L384.83,371.96 L385.29,372.41 L385.75,372.85 L386.21,373.30 L386.67,373.74 L387.13,374.19 L387.59,374.63 L388.05,375.07 L388.51,375.51 L388.97,375.95 L389.43,376.39 L389.90,376.82 L390.36,377.25 L390.82,377.68 L391.28,377.65 L391.74,377.61 L392.20,377.55 L392.66,377.48 L393.12,377.37 L393.58,377.21 L394.04,377.00 L394.50,376.71 L394.96,376.32 L395.42,375.80 L395.88,375.13 L396.34,374.29 L396.80,373.29 L397.26,372.08 L397.72,370.66 L398.18,369.04 L398.64,367.23 L399.10,365.26 L399.56,363.15 L400.02,360.92 L400.48,358.60 L400.94,356.21 L401.41,353.77 L401.87,351.28 L402.33,348.77 L402.79,346.23 L403.25,343.68 L403.71,341.11 L404.17,338.48 L404.63,335.84 L405.09,333.34 L405.55,330.93 L406.01,328.64 L406.47,326.45 L406.93,324.32 L407.39,322.25 L407.85,320.22 L408.31,318.21 L408.77,316.25 L409.23,314.33 L409.69,312.43 L410.15,310.52 L410.61,308.60 L411.07,306.67 L411.53,304.74 L411.99,302.81 L412.45,300.88 L412.92,298.95 L413.38,297.02 L413.84,295.09 L414.30,293.16 L414.76,291.23 L415.22,289.29 L415.68,287.27 L416.14,285.24 L416.60,283.27 L417.06,281.45 L417.52,279.83 L417.98,278.32 L418.44,276.91 L418.90,275.58 L419.36,274.34 L419.82,273.18 L420.28,272.06 L420.74,271.01 L421.20,270.03 L421.66,269.15 L422.12,268.36 L422.58,267.67 L423.04,267.03 L423.50,266.44 L423.96,265.87 L424.43,265.30 L424.89,264.75 L425.35,264.21 L425.81,263.70 L426.27,263.22 L426.73,262.77 L427.19,262.33 L427.65,261.91 L428.11,261.39 L428.57,260.89 L429.03,260.40 L429.49,259.92 L429.95,259.47 L430.41,259.04 L430.87,258.62 L431.33,258.22 L431.79,257.84 L432.25,257.46 L432.71,257.10 L433.17,256.75 L433.63,256.41 L434.09,256.08 L434.55,255.76 L435.01,255.45 L435.47,255.15 L435.94,254.86 L436.40,254.57 L436.86,254.29 L437.32,254.02 L437.78,253.75 L438.24,253.49 L438.70,253.23 L439.16,252.98 L439.62,252.74 L440.08,252.49 L440.54,252.25 L441.00,252.01 L441.46,251.77 L441.92,251.49 L442.38,251.21 L442.84,250.94 L443.30,250.67 L443.76,250.40 L444.22,250.13 L444.68,249.87 L445.14,249.61 L445.60,249.35 L446.06,249.09 L446.52,248.84 L446.98,248.59 L447.45,248.34 L447.91,248.09 L448.37,247.85 L448.83,247.60 L449.29,247.36 L449.75,247.12 L450.21,246.88 L450.67,246.64 L451.13,246.40 L451.59,246.17 L452.05,245.93 L452.51,245.70 L452.97,245.46 L453.43,245.23 L453.89,245.00 L454.35,244.77 L454.81,244.53 L455.27,244.30 L455.73,244.07 L456.19,243.84 L456.65,243.61 L457.11,243.38 L457.57,243.15 L458.03,242.92 L458.49,242.69 L458.96,242.45 L459.42,242.22 L459.88,241.99 L460.34,241.76 L460.80,241.53 L461.26,241.30 L461.72,241.06 L462.18,240.83 L462.64,240.60 L463.10,240.37 L463.56,240.14 L464.02,239.91 L464.48,239.68 L464.94,239.45 L465.40,239.22 L465.86,238.99 L466.32,238.77 L466.78,238.54 L467.24,238.31 L467.70,238.08 L468.16,237.86 L468.62,237.63 L469.08,237.41 L469.54,237.18 L470.00,236.96 L470.47,236.73 L470.93,236.51 L471.39,236.29 L471.85,236.07 L472.31,235.84 L472.77,235.62 L473.23,235.40 L473.69,235.18 L474.15,234.96 L474.61,234.74 L475.07,234.52 L475.53,234.30 L475.99,234.08" fill="none" stroke="#a878f0" stroke-width="0.85" stroke-opacity="0.85"/>
<path d="M383.91,372.93 L384.37,373.37 L384.83,373.82 L385.29,374.26 L385.75,374.71 L386.21,375.15 L386.67,375.59 L387.13,376.03 L387.59,376.47 L388.05,376.91 L388.51,377.35 L388.97,377.78 L389.43,378.20 L389.90,378.62 L390.36,379.02 L390.82,379.40 L391.28,379.31 L391.74,379.20 L392.20,379.04 L392.66,378.81 L393.12,378.51 L393.58,378.09 L394.04,377.55 L394.50,376.84 L394.96,375.96 L395.42,374.90 L395.88,373.65 L396.34,372.18 L396.80,370.52 L397.26,368.68 L397.72,366.67 L398.18,364.53 L398.64,362.28 L399.10,359.95 L399.56,357.55 L400.02,355.09 L400.48,352.60 L400.94,350.08 L401.41,347.54 L401.87,344.99 L402.33,342.42 L402.79,339.81 L403.25,337.17 L403.71,334.53 L404.17,331.96 L404.63,329.50 L405.09,327.27 L405.55,325.12 L406.01,323.03 L406.47,320.98 L406.93,318.97 L407.39,316.99 L407.85,315.06 L408.31,313.16 L408.77,311.27 L409.23,309.36 L409.69,307.44 L410.15,305.51 L410.61,303.59 L411.07,301.67 L411.53,299.75 L411.99,297.83 L412.45,295.90 L412.92,293.98 L413.38,292.06 L413.84,290.14 L414.30,288.16 L414.76,286.14 L415.22,284.14 L415.68,282.24 L416.14,280.52 L416.60,278.97 L417.06,277.52 L417.52,276.16 L417.98,274.89 L418.44,273.70 L418.90,272.56 L419.36,271.49 L419.82,270.48 L420.28,269.55 L420.74,268.72 L421.20,268.00 L421.66,267.34 L422.12,266.74 L422.58,266.17 L423.04,265.61 L423.50,265.05 L423.96,264.51 L424.43,263.99 L424.89,263.50 L425.35,263.05 L425.81,262.61 L426.27,262.19 L426.73,261.78 L427.19,261.39 L427.65,261.01 L428.11,260.53 L428.57,260.07 L429.03,259.63 L429.49,259.21 L429.95,258.81 L430.41,258.43 L430.87,258.06 L431.33,257.70 L431.79,257.35 L432.25,257.01 L432.71,256.68 L433.17,256.36 L433.63,256.05 L434.09,255.75 L434.55,255.45 L435.01,255.17 L435.47,254.89 L435.94,254.61 L436.40,254.35 L436.86,254.09 L437.32,253.83 L437.78,253.58 L438.24,253.34 L438.70,253.09 L439.16,252.85 L439.62,252.61 L440.08,252.38 L440.54,252.14 L441.00,251.91 L441.46,251.68 L441.92,251.40 L442.38,251.13 L442.84,250.86 L443.30,250.60 L443.76,250.33 L444.22,250.07 L444.68,249.82 L445.14,249.56 L445.60,249.31 L446.06,249.06 L446.52,248.81 L446.98,248.56 L447.45,248.32 L447.91,248.07 L448.37,247.83 L448.83,247.59 L449.29,247.35 L449.75,247.11 L450.21,246.87 L450.67,246.63 L451.13,246.40 L451.59,246.16 L452.05,245.93 L452.51,245.70 L452.97,245.46 L453.43,245.23 L453.89,245.00 L454.35,244.76 L454.81,244.53 L455.27,244.30 L455.73,244.07 L456.19,243.84 L456.65,243.60 L457.11,243.37 L457.57,243.14 L458.03,242.91 L458.49,242.67 L458.96,242.44 L459.42,242.21 L459.88,241.97 L460.34,241.74 L460.80,241.51 L461.26,241.28 L461.72,241.04 L462.18,240.81 L462.64,240.58 L463.10,240.35 L463.56,240.12 L464.02,239.89 L464.48,239.66 L464.94,239.43 L465.40,239.20 L465.86,238.97 L466.32,238.74 L466.78,238.51 L467.24,238.29 L467.70,238.06 L468.16,237.83 L468.62,237.61 L469.08,237.38 L469.54,237.16 L470.00,236.93 L470.47,236.71 L470.93,236.48 L471.39,236.26 L471.85,236.04 L472.31,235.81 L472.77,235.59 L473.23,235.37 L473.69,235.15 L474.15,234.93 L474.61,234.70 L475.07,234.48 L475.53,234.26 L475.99,234.04" fill="none" stroke="#3cb87a" stroke-width="0.85" stroke-opacity="0.85"/>
</g>
<rect x="372.40" y="225.60" width="115.10" height="167.00" fill="none" stroke="#a8a8a8" stroke-width="1.3" />
<line x1="370.20" y1="225.60" x2="373.00" y2="225.60" stroke="#333" stroke-width="1.1" />
<text x="368.80" y="229.90" font-size="11.6" text-anchor="end">10<tspan font-size="8.3" dy="-4.4">-4</tspan></text>
<line x1="371.20" y1="238.57" x2="372.70" y2="238.57" stroke="#333" stroke-width="0.9" />
<line x1="371.20" y1="235.30" x2="372.70" y2="235.30" stroke="#333" stroke-width="0.9" />
<line x1="371.20" y1="232.98" x2="372.70" y2="232.98" stroke="#333" stroke-width="0.9" />
<line x1="371.20" y1="231.19" x2="372.70" y2="231.19" stroke="#333" stroke-width="0.9" />
<line x1="371.20" y1="229.72" x2="372.70" y2="229.72" stroke="#333" stroke-width="0.9" />
<line x1="371.20" y1="228.47" x2="372.70" y2="228.47" stroke="#333" stroke-width="0.9" />
<line x1="371.20" y1="227.40" x2="372.70" y2="227.40" stroke="#333" stroke-width="0.9" />
<line x1="371.20" y1="226.45" x2="372.70" y2="226.45" stroke="#333" stroke-width="0.9" />
<line x1="370.20" y1="244.16" x2="373.00" y2="244.16" stroke="#333" stroke-width="1.1" />
<text x="368.80" y="248.46" font-size="11.6" text-anchor="end">10<tspan font-size="8.3" dy="-4.4">-5</tspan></text>
<line x1="371.20" y1="257.13" x2="372.70" y2="257.13" stroke="#333" stroke-width="0.9" />
<line x1="371.20" y1="253.86" x2="372.70" y2="253.86" stroke="#333" stroke-width="0.9" />
<line x1="371.20" y1="251.54" x2="372.70" y2="251.54" stroke="#333" stroke-width="0.9" />
<line x1="371.20" y1="249.74" x2="372.70" y2="249.74" stroke="#333" stroke-width="0.9" />
<line x1="371.20" y1="248.27" x2="372.70" y2="248.27" stroke="#333" stroke-width="0.9" />
<line x1="371.20" y1="247.03" x2="372.70" y2="247.03" stroke="#333" stroke-width="0.9" />
<line x1="371.20" y1="245.95" x2="372.70" y2="245.95" stroke="#333" stroke-width="0.9" />
<line x1="371.20" y1="245.00" x2="372.70" y2="245.00" stroke="#333" stroke-width="0.9" />
<line x1="370.20" y1="262.71" x2="373.00" y2="262.71" stroke="#333" stroke-width="1.1" />
<text x="368.80" y="267.01" font-size="11.6" text-anchor="end">10<tspan font-size="8.3" dy="-4.4">-6</tspan></text>
<line x1="371.20" y1="275.68" x2="372.70" y2="275.68" stroke="#333" stroke-width="0.9" />
<line x1="371.20" y1="272.41" x2="372.70" y2="272.41" stroke="#333" stroke-width="0.9" />
<line x1="371.20" y1="270.10" x2="372.70" y2="270.10" stroke="#333" stroke-width="0.9" />
<line x1="371.20" y1="268.30" x2="372.70" y2="268.30" stroke="#333" stroke-width="0.9" />
<line x1="371.20" y1="266.83" x2="372.70" y2="266.83" stroke="#333" stroke-width="0.9" />
<line x1="371.20" y1="265.59" x2="372.70" y2="265.59" stroke="#333" stroke-width="0.9" />
<line x1="371.20" y1="264.51" x2="372.70" y2="264.51" stroke="#333" stroke-width="0.9" />
<line x1="371.20" y1="263.56" x2="372.70" y2="263.56" stroke="#333" stroke-width="0.9" />
<line x1="370.20" y1="281.27" x2="373.00" y2="281.27" stroke="#333" stroke-width="1.1" />
<text x="368.80" y="285.57" font-size="11.6" text-anchor="end">10<tspan font-size="8.3" dy="-4.4">-7</tspan></text>
<line x1="371.20" y1="294.24" x2="372.70" y2="294.24" stroke="#333" stroke-width="0.9" />
<line x1="371.20" y1="290.97" x2="372.70" y2="290.97" stroke="#333" stroke-width="0.9" />
<line x1="371.20" y1="288.65" x2="372.70" y2="288.65" stroke="#333" stroke-width="0.9" />
<line x1="371.20" y1="286.85" x2="372.70" y2="286.85" stroke="#333" stroke-width="0.9" />
<line x1="371.20" y1="285.38" x2="372.70" y2="285.38" stroke="#333" stroke-width="0.9" />
<line x1="371.20" y1="284.14" x2="372.70" y2="284.14" stroke="#333" stroke-width="0.9" />
<line x1="371.20" y1="283.06" x2="372.70" y2="283.06" stroke="#333" stroke-width="0.9" />
<line x1="371.20" y1="282.12" x2="372.70" y2="282.12" stroke="#333" stroke-width="0.9" />
<line x1="370.20" y1="299.82" x2="373.00" y2="299.82" stroke="#333" stroke-width="1.1" />
<text x="368.80" y="304.12" font-size="11.6" text-anchor="end">10<tspan font-size="8.3" dy="-4.4">-8</tspan></text>
<line x1="371.20" y1="312.79" x2="372.70" y2="312.79" stroke="#333" stroke-width="0.9" />
<line x1="371.20" y1="309.52" x2="372.70" y2="309.52" stroke="#333" stroke-width="0.9" />
<line x1="371.20" y1="307.21" x2="372.70" y2="307.21" stroke="#333" stroke-width="0.9" />
<line x1="371.20" y1="305.41" x2="372.70" y2="305.41" stroke="#333" stroke-width="0.9" />
<line x1="371.20" y1="303.94" x2="372.70" y2="303.94" stroke="#333" stroke-width="0.9" />
<line x1="371.20" y1="302.70" x2="372.70" y2="302.70" stroke="#333" stroke-width="0.9" />
<line x1="371.20" y1="301.62" x2="372.70" y2="301.62" stroke="#333" stroke-width="0.9" />
<line x1="371.20" y1="300.67" x2="372.70" y2="300.67" stroke="#333" stroke-width="0.9" />
<line x1="370.20" y1="318.38" x2="373.00" y2="318.38" stroke="#333" stroke-width="1.1" />
<text x="368.80" y="322.68" font-size="11.6" text-anchor="end">10<tspan font-size="8.3" dy="-4.4">-9</tspan></text>
<line x1="371.20" y1="331.35" x2="372.70" y2="331.35" stroke="#333" stroke-width="0.9" />
<line x1="371.20" y1="328.08" x2="372.70" y2="328.08" stroke="#333" stroke-width="0.9" />
<line x1="371.20" y1="325.76" x2="372.70" y2="325.76" stroke="#333" stroke-width="0.9" />
<line x1="371.20" y1="323.96" x2="372.70" y2="323.96" stroke="#333" stroke-width="0.9" />
<line x1="371.20" y1="322.49" x2="372.70" y2="322.49" stroke="#333" stroke-width="0.9" />
<line x1="371.20" y1="321.25" x2="372.70" y2="321.25" stroke="#333" stroke-width="0.9" />
<line x1="371.20" y1="320.18" x2="372.70" y2="320.18" stroke="#333" stroke-width="0.9" />
<line x1="371.20" y1="319.23" x2="372.70" y2="319.23" stroke="#333" stroke-width="0.9" />
<line x1="370.20" y1="336.93" x2="373.00" y2="336.93" stroke="#333" stroke-width="1.1" />
<text x="368.80" y="341.23" font-size="11.6" text-anchor="end">10<tspan font-size="8.3" dy="-4.4">-10</tspan></text>
<line x1="371.20" y1="349.90" x2="372.70" y2="349.90" stroke="#333" stroke-width="0.9" />
<line x1="371.20" y1="346.64" x2="372.70" y2="346.64" stroke="#333" stroke-width="0.9" />
<line x1="371.20" y1="344.32" x2="372.70" y2="344.32" stroke="#333" stroke-width="0.9" />
<line x1="371.20" y1="342.52" x2="372.70" y2="342.52" stroke="#333" stroke-width="0.9" />
<line x1="371.20" y1="341.05" x2="372.70" y2="341.05" stroke="#333" stroke-width="0.9" />
<line x1="371.20" y1="339.81" x2="372.70" y2="339.81" stroke="#333" stroke-width="0.9" />
<line x1="371.20" y1="338.73" x2="372.70" y2="338.73" stroke="#333" stroke-width="0.9" />
<line x1="371.20" y1="337.78" x2="372.70" y2="337.78" stroke="#333" stroke-width="0.9" />
<line x1="370.20" y1="355.49" x2="373.00" y2="355.49" stroke="#333" stroke-width="1.1" />
<text x="368.80" y="359.79" font-size="11.6" text-anchor="end">10<tspan font-size="8.3" dy="-4.4">-11</tspan></text>
<line x1="371.20" y1="368.46" x2="372.70" y2="368.46" stroke="#333" stroke-width="0.9" />
<line x1="371.20" y1="365.19" x2="372.70" y2="365.19" stroke="#333" stroke-width="0.9" />
<line x1="371.20" y1="362.87" x2="372.70" y2="362.87" stroke="#333" stroke-width="0.9" />
<line x1="371.20" y1="361.07" x2="372.70" y2="361.07" stroke="#333" stroke-width="0.9" />
<line x1="371.20" y1="359.61" x2="372.70" y2="359.61" stroke="#333" stroke-width="0.9" />
<line x1="371.20" y1="358.36" x2="372.70" y2="358.36" stroke="#333" stroke-width="0.9" />
<line x1="371.20" y1="357.29" x2="372.70" y2="357.29" stroke="#333" stroke-width="0.9" />
<line x1="371.20" y1="356.34" x2="372.70" y2="356.34" stroke="#333" stroke-width="0.9" />
<line x1="370.20" y1="374.04" x2="373.00" y2="374.04" stroke="#333" stroke-width="1.1" />
<text x="368.80" y="378.34" font-size="11.6" text-anchor="end">10<tspan font-size="8.3" dy="-4.4">-12</tspan></text>
<line x1="371.20" y1="387.01" x2="372.70" y2="387.01" stroke="#333" stroke-width="0.9" />
<line x1="371.20" y1="383.75" x2="372.70" y2="383.75" stroke="#333" stroke-width="0.9" />
<line x1="371.20" y1="381.43" x2="372.70" y2="381.43" stroke="#333" stroke-width="0.9" />
<line x1="371.20" y1="379.63" x2="372.70" y2="379.63" stroke="#333" stroke-width="0.9" />
<line x1="371.20" y1="378.16" x2="372.70" y2="378.16" stroke="#333" stroke-width="0.9" />
<line x1="371.20" y1="376.92" x2="372.70" y2="376.92" stroke="#333" stroke-width="0.9" />
<line x1="371.20" y1="375.84" x2="372.70" y2="375.84" stroke="#333" stroke-width="0.9" />
<line x1="371.20" y1="374.89" x2="372.70" y2="374.89" stroke="#333" stroke-width="0.9" />
<line x1="370.20" y1="392.60" x2="373.00" y2="392.60" stroke="#333" stroke-width="1.1" />
<text x="368.80" y="396.90" font-size="11.6" text-anchor="end">10<tspan font-size="8.3" dy="-4.4">-13</tspan></text>
<line x1="383.91" y1="393.20" x2="383.91" y2="395.40" stroke="#333" stroke-width="1" />
<line x1="406.93" y1="393.20" x2="406.93" y2="395.40" stroke="#333" stroke-width="1" />
<line x1="429.95" y1="393.20" x2="429.95" y2="395.40" stroke="#333" stroke-width="1" />
<line x1="452.97" y1="393.20" x2="452.97" y2="395.40" stroke="#333" stroke-width="1" />
<line x1="475.99" y1="393.20" x2="475.99" y2="395.40" stroke="#333" stroke-width="1" />
<line x1="395.42" y1="393.20" x2="395.42" y2="394.40" stroke="#333" stroke-width="0.9" />
<line x1="418.44" y1="393.20" x2="418.44" y2="394.40" stroke="#333" stroke-width="0.9" />
<line x1="441.46" y1="393.20" x2="441.46" y2="394.40" stroke="#333" stroke-width="0.9" />
<line x1="464.48" y1="393.20" x2="464.48" y2="394.40" stroke="#333" stroke-width="0.9" />
<text x="384.61" y="407.10" font-size="12.2" text-anchor="middle" font-weight="normal" font-style="normal" fill="#000" >-20</text>
<text x="407.63" y="407.10" font-size="12.2" text-anchor="middle" font-weight="normal" font-style="normal" fill="#000" >-10</text>
<text x="429.95" y="407.10" font-size="12.2" text-anchor="middle" font-weight="normal" font-style="normal" fill="#000" >0</text>
<text x="452.97" y="407.10" font-size="12.2" text-anchor="middle" font-weight="normal" font-style="normal" fill="#000" >10</text>
<text x="475.99" y="407.10" font-size="12.2" text-anchor="middle" font-weight="normal" font-style="normal" fill="#000" >20</text>
<text x="430.8" y="421.1" font-size="12.3" text-anchor="middle"><tspan font-style="italic">V</tspan><tspan font-size="9" dy="2.7">G</tspan><tspan dy="-2.7"> (V)</tspan></text>
<text transform="translate(338.6,309.3) rotate(-90)" font-size="11.9" text-anchor="middle"><tspan font-style="italic">I</tspan><tspan font-size="8.5" dy="2.5">D</tspan><tspan dy="-2.5"> (A)</tspan></text>
<line x1="425.00" y1="311.50" x2="438.20" y2="311.50" stroke="#8a8a8a" stroke-width="1" stroke-opacity="0.75"/>
<text x="441.20" y="315.70" font-size="11.9" text-anchor="start" font-weight="normal" font-style="normal" fill="#000" >0%</text>
<line x1="425.00" y1="325.50" x2="438.20" y2="325.50" stroke="#ff4a4a" stroke-width="1" stroke-opacity="0.75"/>
<text x="441.20" y="329.70" font-size="11.9" text-anchor="start" font-weight="normal" font-style="normal" fill="#000" >5%</text>
<line x1="425.00" y1="339.50" x2="438.20" y2="339.50" stroke="#3a78e6" stroke-width="1" stroke-opacity="0.75"/>
<text x="441.20" y="343.70" font-size="11.9" text-anchor="start" font-weight="normal" font-style="normal" fill="#000" >10%</text>
<line x1="425.00" y1="354.50" x2="438.20" y2="354.50" stroke="#3cb87a" stroke-width="1" stroke-opacity="0.75"/>
<text x="441.20" y="358.70" font-size="11.9" text-anchor="start" font-weight="normal" font-style="normal" fill="#000" >15%</text>
<line x1="425.00" y1="368.50" x2="438.20" y2="368.50" stroke="#a878f0" stroke-width="1" stroke-opacity="0.75"/>
<text x="441.20" y="372.70" font-size="11.9" text-anchor="start" font-weight="normal" font-style="normal" fill="#000" >20%</text>
<line x1="425.00" y1="383.50" x2="438.20" y2="383.50" stroke="#e8aa34" stroke-width="1" stroke-opacity="0.75"/>
<text x="441.20" y="387.70" font-size="11.9" text-anchor="start" font-weight="normal" font-style="normal" fill="#000" >Release</text>
<rect x="448.25" y="270.40" width="8.9" height="13.6" fill="#000"/>
<rect x="459.45" y="270.40" width="8.9" height="13.6" fill="#000"/>
<text x="452.70" y="281.34" font-size="11.5" fill="#fff" text-anchor="middle">S</text>
<text x="463.90" y="281.34" font-size="11.5" fill="#fff" text-anchor="middle">D</text>
<line x1="458.30" y1="268.70" x2="458.30" y2="261.20" stroke="#000" stroke-width="1.15"/>
<path d="M458.30,258.20 L455.20,264.00 L461.40,264.00 Z" fill="#000"/>
<line x1="458.30" y1="285.70" x2="458.30" y2="293.20" stroke="#000" stroke-width="1.15"/>
<path d="M458.30,296.20 L455.20,290.40 L461.40,290.40 Z" fill="#000"/>
<rect x="540.30" y="12.70" width="117.50" height="115.90" fill="none" stroke="#a8a8a8" stroke-width="1.2" />
<rect x="540.30" y="136.60" width="117.50" height="43.60" fill="none" stroke="#a8a8a8" stroke-width="1.2" />
<line x1="540.30" y1="12.70" x2="540.30" y2="128.60" stroke="#555" stroke-width="1" />
<line x1="540.30" y1="136.60" x2="540.30" y2="180.20" stroke="#555" stroke-width="1" />
<line x1="657.80" y1="12.70" x2="657.80" y2="128.60" stroke="#555" stroke-width="1" />
<line x1="537.80" y1="12.70" x2="540.30" y2="12.70" stroke="#333" stroke-width="1" />
<text x="514.90" y="17.30" font-size="11.8" text-anchor="start">10<tspan font-size="8.3" dy="-4.6">-4</tspan></text>
<line x1="538.80" y1="48.00" x2="540.30" y2="48.00" stroke="#333" stroke-width="0.7" />
<line x1="538.80" y1="39.11" x2="540.30" y2="39.11" stroke="#333" stroke-width="0.7" />
<line x1="538.80" y1="32.80" x2="540.30" y2="32.80" stroke="#333" stroke-width="0.7" />
<line x1="538.80" y1="27.90" x2="540.30" y2="27.90" stroke="#333" stroke-width="0.7" />
<line x1="538.80" y1="23.90" x2="540.30" y2="23.90" stroke="#333" stroke-width="0.7" />
<line x1="538.80" y1="20.52" x2="540.30" y2="20.52" stroke="#333" stroke-width="0.7" />
<line x1="538.80" y1="17.59" x2="540.30" y2="17.59" stroke="#333" stroke-width="0.7" />
<line x1="538.80" y1="15.01" x2="540.30" y2="15.01" stroke="#333" stroke-width="0.7" />
<line x1="537.80" y1="63.20" x2="540.30" y2="63.20" stroke="#333" stroke-width="1" />
<text x="514.90" y="67.80" font-size="11.8" text-anchor="start">10<tspan font-size="8.3" dy="-4.6">-5</tspan></text>
<line x1="538.80" y1="98.50" x2="540.30" y2="98.50" stroke="#333" stroke-width="0.7" />
<line x1="538.80" y1="89.61" x2="540.30" y2="89.61" stroke="#333" stroke-width="0.7" />
<line x1="538.80" y1="83.30" x2="540.30" y2="83.30" stroke="#333" stroke-width="0.7" />
<line x1="538.80" y1="78.40" x2="540.30" y2="78.40" stroke="#333" stroke-width="0.7" />
<line x1="538.80" y1="74.40" x2="540.30" y2="74.40" stroke="#333" stroke-width="0.7" />
<line x1="538.80" y1="71.02" x2="540.30" y2="71.02" stroke="#333" stroke-width="0.7" />
<line x1="538.80" y1="68.09" x2="540.30" y2="68.09" stroke="#333" stroke-width="0.7" />
<line x1="538.80" y1="65.51" x2="540.30" y2="65.51" stroke="#333" stroke-width="0.7" />
<line x1="537.80" y1="113.70" x2="540.30" y2="113.70" stroke="#333" stroke-width="1" />
<text x="514.90" y="118.30" font-size="11.8" text-anchor="start">10<tspan font-size="8.3" dy="-4.6">-6</tspan></text>
<line x1="538.80" y1="124.90" x2="540.30" y2="124.90" stroke="#333" stroke-width="0.7" />
<line x1="538.80" y1="121.52" x2="540.30" y2="121.52" stroke="#333" stroke-width="0.7" />
<line x1="538.80" y1="118.59" x2="540.30" y2="118.59" stroke="#333" stroke-width="0.7" />
<line x1="538.80" y1="116.01" x2="540.30" y2="116.01" stroke="#333" stroke-width="0.7" />
<line x1="657.80" y1="12.70" x2="660.30" y2="12.70" stroke="#333" stroke-width="1" />
<text x="662.10" y="16.70" font-size="11.2" text-anchor="start" fill="#000" >10</text>
<line x1="657.80" y1="39.94" x2="660.30" y2="39.94" stroke="#333" stroke-width="1" />
<text x="662.10" y="43.94" font-size="11.2" text-anchor="start" fill="#000" >5</text>
<line x1="657.80" y1="75.96" x2="660.30" y2="75.96" stroke="#333" stroke-width="1" />
<text x="662.10" y="79.96" font-size="11.2" text-anchor="start" fill="#000" >2</text>
<line x1="657.80" y1="103.20" x2="660.30" y2="103.20" stroke="#333" stroke-width="1" />
<text x="662.10" y="107.20" font-size="11.2" text-anchor="start" fill="#000" >1</text>
<line x1="657.80" y1="16.84" x2="659.30" y2="16.84" stroke="#333" stroke-width="0.7" />
<line x1="657.80" y1="21.47" x2="659.30" y2="21.47" stroke="#333" stroke-width="0.7" />
<line x1="657.80" y1="26.72" x2="659.30" y2="26.72" stroke="#333" stroke-width="0.7" />
<line x1="657.80" y1="32.78" x2="659.30" y2="32.78" stroke="#333" stroke-width="0.7" />
<line x1="657.80" y1="48.71" x2="659.30" y2="48.71" stroke="#333" stroke-width="0.7" />
<line x1="657.80" y1="60.02" x2="659.30" y2="60.02" stroke="#333" stroke-width="0.7" />
<line x1="657.80" y1="107.34" x2="659.30" y2="107.34" stroke="#333" stroke-width="0.7" />
<line x1="657.80" y1="111.97" x2="659.30" y2="111.97" stroke="#333" stroke-width="0.7" />
<line x1="657.80" y1="117.22" x2="659.30" y2="117.22" stroke="#333" stroke-width="0.7" />
<line x1="550.50" y1="128.60" x2="550.50" y2="131.10" stroke="#333" stroke-width="0.9" />
<line x1="550.50" y1="180.20" x2="550.50" y2="182.70" stroke="#333" stroke-width="0.9" />
<line x1="570.00" y1="128.60" x2="570.00" y2="131.10" stroke="#333" stroke-width="0.9" />
<line x1="570.00" y1="180.20" x2="570.00" y2="182.70" stroke="#333" stroke-width="0.9" />
<line x1="589.70" y1="128.60" x2="589.70" y2="131.10" stroke="#333" stroke-width="0.9" />
<line x1="589.70" y1="180.20" x2="589.70" y2="182.70" stroke="#333" stroke-width="0.9" />
<line x1="609.30" y1="128.60" x2="609.30" y2="131.10" stroke="#333" stroke-width="0.9" />
<line x1="609.30" y1="180.20" x2="609.30" y2="182.70" stroke="#333" stroke-width="0.9" />
<line x1="629.00" y1="128.60" x2="629.00" y2="131.10" stroke="#333" stroke-width="0.9" />
<line x1="629.00" y1="180.20" x2="629.00" y2="182.70" stroke="#333" stroke-width="0.9" />
<line x1="648.60" y1="128.60" x2="648.60" y2="131.10" stroke="#333" stroke-width="0.9" />
<line x1="648.60" y1="180.20" x2="648.60" y2="182.70" stroke="#333" stroke-width="0.9" />
<line x1="537.80" y1="141.70" x2="540.30" y2="141.70" stroke="#333" stroke-width="1" />
<text x="514.90" y="146.30" font-size="11.8" text-anchor="start">10<tspan font-size="8.3" dy="-4.6">9</tspan></text>
<line x1="537.80" y1="161.40" x2="540.30" y2="161.40" stroke="#333" stroke-width="1" />
<text x="514.90" y="166.00" font-size="11.8" text-anchor="start">10<tspan font-size="8.3" dy="-4.6">7</tspan></text>
<line x1="537.80" y1="181.10" x2="540.30" y2="181.10" stroke="#333" stroke-width="1" />
<text x="514.90" y="185.70" font-size="11.8" text-anchor="start">10<tspan font-size="8.3" dy="-4.6">5</tspan></text>
<line x1="538.80" y1="151.55" x2="540.30" y2="151.55" stroke="#333" stroke-width="0.7" />
<line x1="538.80" y1="171.25" x2="540.30" y2="171.25" stroke="#333" stroke-width="0.7" />
<text x="550.50" y="194.70" font-size="11.5" text-anchor="middle" fill="#000" >0</text>
<text x="570.00" y="194.70" font-size="11.5" text-anchor="middle" fill="#000" >5</text>
<text x="589.70" y="194.70" font-size="11.5" text-anchor="middle" fill="#000" >10</text>
<text x="609.30" y="194.70" font-size="11.5" text-anchor="middle" fill="#000" >15</text>
<text x="629.00" y="194.70" font-size="11.5" text-anchor="middle" fill="#000" >20</text>
<text x="649.60" y="194.70" font-size="11.5" text-anchor="middle" fill="#000" >Rel.</text>
<text x="598.30" y="205.80" font-size="12" text-anchor="middle" fill="#000" >Strain (%)</text>
<text transform="translate(511.2,66.2) rotate(-90)" font-size="12" text-anchor="middle"><tspan font-style="italic">I</tspan><tspan font-size="8.5" dy="2.5">ON</tspan><tspan dy="-2.5"> (A)</tspan></text>
<text transform="translate(511.0,158.5) rotate(-90)" font-size="12.2" text-anchor="middle">On/off ratio</text>
<text transform="translate(683.4,65.7) rotate(-90)" font-size="12.5" text-anchor="middle"><tspan font-style="italic">μ</tspan>/<tspan font-style="italic">μ</tspan><tspan font-size="8.5" dy="2.5">0</tspan></text>
<line x1="553.10" y1="37.00" x2="553.10" y2="46.20" stroke="#ff8e8e" stroke-width="0.8" />
<line x1="553.10" y1="53.70" x2="553.10" y2="56.40" stroke="#ff8e8e" stroke-width="0.8" />
<line x1="551.70" y1="37.00" x2="554.50" y2="37.00" stroke="#ff8e8e" stroke-width="0.8" />
<line x1="551.70" y1="56.40" x2="554.50" y2="56.40" stroke="#ff8e8e" stroke-width="0.8" />
<rect x="550.80" y="46.20" width="4.6" height="7.50" fill="#ff8e8e"/>
<line x1="572.60" y1="30.40" x2="572.60" y2="31.40" stroke="#ff8e8e" stroke-width="0.8" />
<line x1="572.60" y1="39.60" x2="572.60" y2="39.60" stroke="#ff8e8e" stroke-width="0.8" />
<line x1="571.20" y1="30.40" x2="574.00" y2="30.40" stroke="#ff8e8e" stroke-width="0.8" />
<line x1="571.20" y1="39.60" x2="574.00" y2="39.60" stroke="#ff8e8e" stroke-width="0.8" />
<rect x="570.30" y="31.40" width="4.6" height="8.20" fill="#ff8e8e"/>
<line x1="592.30" y1="39.10" x2="592.30" y2="40.10" stroke="#ff8e8e" stroke-width="0.8" />
<line x1="592.30" y1="46.20" x2="592.30" y2="46.20" stroke="#ff8e8e" stroke-width="0.8" />
<line x1="590.90" y1="39.10" x2="593.70" y2="39.10" stroke="#ff8e8e" stroke-width="0.8" />
<line x1="590.90" y1="46.20" x2="593.70" y2="46.20" stroke="#ff8e8e" stroke-width="0.8" />
<rect x="590.00" y="40.10" width="4.6" height="6.10" fill="#ff8e8e"/>
<line x1="611.90" y1="37.30" x2="611.90" y2="41.00" stroke="#ff8e8e" stroke-width="0.8" />
<line x1="611.90" y1="44.20" x2="611.90" y2="44.20" stroke="#ff8e8e" stroke-width="0.8" />
<line x1="610.50" y1="37.30" x2="613.30" y2="37.30" stroke="#ff8e8e" stroke-width="0.8" />
<line x1="610.50" y1="44.20" x2="613.30" y2="44.20" stroke="#ff8e8e" stroke-width="0.8" />
<rect x="609.60" y="41.00" width="4.6" height="3.20" fill="#ff8e8e"/>
<line x1="631.60" y1="37.30" x2="631.60" y2="43.00" stroke="#ff8e8e" stroke-width="0.8" />
<line x1="631.60" y1="46.90" x2="631.60" y2="53.30" stroke="#ff8e8e" stroke-width="0.8" />
<line x1="630.20" y1="37.30" x2="633.00" y2="37.30" stroke="#ff8e8e" stroke-width="0.8" />
<line x1="630.20" y1="53.30" x2="633.00" y2="53.30" stroke="#ff8e8e" stroke-width="0.8" />
<rect x="629.30" y="43.00" width="4.6" height="3.90" fill="#ff8e8e"/>
<line x1="651.20" y1="39.00" x2="651.20" y2="45.80" stroke="#ff8e8e" stroke-width="0.8" />
<line x1="651.20" y1="57.00" x2="651.20" y2="57.00" stroke="#ff8e8e" stroke-width="0.8" />
<line x1="649.80" y1="39.00" x2="652.60" y2="39.00" stroke="#ff8e8e" stroke-width="0.8" />
<line x1="649.80" y1="57.00" x2="652.60" y2="57.00" stroke="#ff8e8e" stroke-width="0.8" />
<rect x="648.90" y="45.80" width="4.6" height="11.20" fill="#ff8e8e"/>
<path d="M553.1,50.0 L572.6,35.5 L592.3,43.2 L611.9,42.6 L631.6,45.0 L651.2,51.4" fill="none" stroke="#ff8e8e" stroke-width="0.7" stroke-dasharray="1.5,1"/>
<path d="M547.30,35.10 L549.20,37.00 L547.30,38.90 L545.40,37.00 Z" fill="#ff3b3b"/>
<path d="M547.30,43.60 L549.20,45.50 L547.30,47.40 L545.40,45.50 Z" fill="#ff3b3b"/>
<path d="M547.30,45.90 L549.20,47.80 L547.30,49.70 L545.40,47.80 Z" fill="#ff3b3b"/>
<path d="M547.30,51.50 L549.20,53.40 L547.30,55.30 L545.40,53.40 Z" fill="#ff3b3b"/>
<path d="M547.30,54.20 L549.20,56.10 L547.30,58.00 L545.40,56.10 Z" fill="#ff3b3b"/>
<path d="M566.80,28.50 L568.70,30.40 L566.80,32.30 L564.90,30.40 Z" fill="#ff3b3b"/>
<path d="M566.80,29.50 L568.70,31.40 L566.80,33.30 L564.90,31.40 Z" fill="#ff3b3b"/>
<path d="M566.80,34.30 L568.70,36.20 L566.80,38.10 L564.90,36.20 Z" fill="#ff3b3b"/>
<path d="M566.80,37.20 L568.70,39.10 L566.80,41.00 L564.90,39.10 Z" fill="#ff3b3b"/>
<path d="M566.80,38.70 L568.70,40.60 L566.80,42.50 L564.90,40.60 Z" fill="#ff3b3b"/>
<path d="M586.50,37.20 L588.40,39.10 L586.50,41.00 L584.60,39.10 Z" fill="#ff3b3b"/>
<path d="M586.50,39.70 L588.40,41.60 L586.50,43.50 L584.60,41.60 Z" fill="#ff3b3b"/>
<path d="M586.50,43.30 L588.40,45.20 L586.50,47.10 L584.60,45.20 Z" fill="#ff3b3b"/>
<path d="M586.50,44.80 L588.40,46.70 L586.50,48.60 L584.60,46.70 Z" fill="#ff3b3b"/>
<path d="M606.10,35.40 L608.00,37.30 L606.10,39.20 L604.20,37.30 Z" fill="#ff3b3b"/>
<path d="M606.10,39.50 L608.00,41.40 L606.10,43.30 L604.20,41.40 Z" fill="#ff3b3b"/>
<path d="M606.10,40.70 L608.00,42.60 L606.10,44.50 L604.20,42.60 Z" fill="#ff3b3b"/>
<path d="M606.10,42.30 L608.00,44.20 L606.10,46.10 L604.20,44.20 Z" fill="#ff3b3b"/>
<path d="M625.80,34.70 L627.70,36.60 L625.80,38.50 L623.90,36.60 Z" fill="#ff3b3b"/>
<path d="M625.80,40.20 L627.70,42.10 L625.80,44.00 L623.90,42.10 Z" fill="#ff3b3b"/>
<path d="M625.80,43.10 L627.70,45.00 L625.80,46.90 L623.90,45.00 Z" fill="#ff3b3b"/>
<path d="M625.80,51.10 L627.70,53.00 L625.80,54.90 L623.90,53.00 Z" fill="#ff3b3b"/>
<path d="M645.40,37.00 L647.30,38.90 L645.40,40.80 L643.50,38.90 Z" fill="#ff3b3b"/>
<path d="M645.40,51.10 L647.30,53.00 L645.40,54.90 L643.50,53.00 Z" fill="#ff3b3b"/>
<path d="M645.40,54.30 L647.30,56.20 L645.40,58.10 L643.50,56.20 Z" fill="#ff3b3b"/>
<path d="M645.40,55.10 L647.30,57.00 L645.40,58.90 L643.50,57.00 Z" fill="#ff3b3b"/>
<line x1="553.10" y1="90.40" x2="553.10" y2="100.40" stroke="#ff8e8e" stroke-width="0.8" />
<line x1="553.10" y1="110.80" x2="553.10" y2="114.20" stroke="#ff8e8e" stroke-width="0.8" />
<line x1="551.70" y1="90.40" x2="554.50" y2="90.40" stroke="#ff8e8e" stroke-width="0.8" />
<line x1="551.70" y1="114.20" x2="554.50" y2="114.20" stroke="#ff8e8e" stroke-width="0.8" />
<rect x="551.20" y="100.40" width="3.8" height="10.40" fill="none" stroke="#ff8e8e" stroke-width="0.8"/>
<line x1="551.20" y1="105.00" x2="555.00" y2="105.00" stroke="#ff8e8e" stroke-width="0.6" />
<line x1="572.60" y1="72.30" x2="572.60" y2="74.70" stroke="#ff8e8e" stroke-width="0.8" />
<line x1="572.60" y1="78.70" x2="572.60" y2="94.40" stroke="#ff8e8e" stroke-width="0.8" />
<line x1="571.20" y1="72.30" x2="574.00" y2="72.30" stroke="#ff8e8e" stroke-width="0.8" />
<line x1="571.20" y1="94.40" x2="574.00" y2="94.40" stroke="#ff8e8e" stroke-width="0.8" />
<rect x="570.70" y="74.70" width="3.8" height="4.00" fill="none" stroke="#ff8e8e" stroke-width="0.8"/>
<line x1="570.70" y1="76.00" x2="574.50" y2="76.00" stroke="#ff8e8e" stroke-width="0.6" />
<line x1="592.30" y1="84.00" x2="592.30" y2="86.70" stroke="#ff8e8e" stroke-width="0.8" />
<line x1="592.30" y1="96.00" x2="592.30" y2="96.00" stroke="#ff8e8e" stroke-width="0.8" />
<line x1="590.90" y1="84.00" x2="593.70" y2="84.00" stroke="#ff8e8e" stroke-width="0.8" />
<line x1="590.90" y1="96.00" x2="593.70" y2="96.00" stroke="#ff8e8e" stroke-width="0.8" />
<rect x="590.40" y="86.70" width="3.8" height="9.30" fill="none" stroke="#ff8e8e" stroke-width="0.8"/>
<line x1="590.40" y1="91.00" x2="594.20" y2="91.00" stroke="#ff8e8e" stroke-width="0.6" />
<line x1="611.90" y1="80.30" x2="611.90" y2="83.50" stroke="#ff8e8e" stroke-width="0.8" />
<line x1="611.90" y1="89.10" x2="611.90" y2="93.10" stroke="#ff8e8e" stroke-width="0.8" />
<line x1="610.50" y1="80.30" x2="613.30" y2="80.30" stroke="#ff8e8e" stroke-width="0.8" />
<line x1="610.50" y1="93.10" x2="613.30" y2="93.10" stroke="#ff8e8e" stroke-width="0.8" />
<rect x="610.00" y="83.50" width="3.8" height="5.60" fill="none" stroke="#ff8e8e" stroke-width="0.8"/>
<line x1="610.00" y1="86.00" x2="613.80" y2="86.00" stroke="#ff8e8e" stroke-width="0.6" />
<line x1="631.60" y1="77.10" x2="631.60" y2="82.70" stroke="#ff8e8e" stroke-width="0.8" />
<line x1="631.60" y1="89.90" x2="631.60" y2="103.30" stroke="#ff8e8e" stroke-width="0.8" />
<line x1="630.20" y1="77.10" x2="633.00" y2="77.10" stroke="#ff8e8e" stroke-width="0.8" />
<line x1="630.20" y1="103.30" x2="633.00" y2="103.30" stroke="#ff8e8e" stroke-width="0.8" />
<rect x="629.70" y="82.70" width="3.8" height="7.20" fill="none" stroke="#ff8e8e" stroke-width="0.8"/>
<line x1="629.70" y1="86.00" x2="633.50" y2="86.00" stroke="#ff8e8e" stroke-width="0.6" />
<line x1="651.20" y1="90.40" x2="651.20" y2="95.60" stroke="#ff8e8e" stroke-width="0.8" />
<line x1="651.20" y1="113.40" x2="651.20" y2="113.40" stroke="#ff8e8e" stroke-width="0.8" />
<line x1="649.80" y1="90.40" x2="652.60" y2="90.40" stroke="#ff8e8e" stroke-width="0.8" />
<line x1="649.80" y1="113.40" x2="652.60" y2="113.40" stroke="#ff8e8e" stroke-width="0.8" />
<rect x="649.30" y="95.60" width="3.8" height="17.80" fill="none" stroke="#ff8e8e" stroke-width="0.8"/>
<line x1="649.30" y1="104.00" x2="653.10" y2="104.00" stroke="#ff8e8e" stroke-width="0.6" />
<path d="M553.1,105.0 L572.6,76.0 L592.3,91.0 L611.9,86.0 L631.6,86.0 L651.2,104.0" fill="none" stroke="#ff8e8e" stroke-width="0.7" stroke-dasharray="1.5,1"/>
<path d="M547.30,88.50 L549.20,90.40 L547.30,92.30 L545.40,90.40 Z" fill="#ff3b3b"/>
<path d="M547.30,97.40 L549.20,99.30 L547.30,101.20 L545.40,99.30 Z" fill="#ff3b3b"/>
<path d="M547.30,99.50 L549.20,101.40 L547.30,103.30 L545.40,101.40 Z" fill="#ff3b3b"/>
<path d="M547.30,108.10 L549.20,110.00 L547.30,111.90 L545.40,110.00 Z" fill="#ff3b3b"/>
<path d="M547.30,111.80 L549.20,113.70 L547.30,115.60 L545.40,113.70 Z" fill="#ff3b3b"/>
<path d="M566.80,68.80 L568.70,70.70 L566.80,72.60 L564.90,70.70 Z" fill="#ff3b3b"/>
<path d="M566.80,71.70 L568.70,73.60 L566.80,75.50 L564.90,73.60 Z" fill="#ff3b3b"/>
<path d="M566.80,73.60 L568.70,75.50 L566.80,77.40 L564.90,75.50 Z" fill="#ff3b3b"/>
<path d="M566.80,76.00 L568.70,77.90 L566.80,79.80 L564.90,77.90 Z" fill="#ff3b3b"/>
<path d="M566.80,92.00 L568.70,93.90 L566.80,95.80 L564.90,93.90 Z" fill="#ff3b3b"/>
<path d="M586.50,81.60 L588.40,83.50 L586.50,85.40 L584.60,83.50 Z" fill="#ff3b3b"/>
<path d="M586.50,84.00 L588.40,85.90 L586.50,87.80 L584.60,85.90 Z" fill="#ff3b3b"/>
<path d="M586.50,92.00 L588.40,93.90 L586.50,95.80 L584.60,93.90 Z" fill="#ff3b3b"/>
<path d="M586.50,93.70 L588.40,95.60 L586.50,97.50 L584.60,95.60 Z" fill="#ff3b3b"/>
<path d="M606.10,78.40 L608.00,80.30 L606.10,82.20 L604.20,80.30 Z" fill="#ff3b3b"/>
<path d="M606.10,81.60 L608.00,83.50 L606.10,85.40 L604.20,83.50 Z" fill="#ff3b3b"/>
<path d="M606.10,86.40 L608.00,88.30 L606.10,90.20 L604.20,88.30 Z" fill="#ff3b3b"/>
<path d="M606.10,90.90 L608.00,92.80 L606.10,94.70 L604.20,92.80 Z" fill="#ff3b3b"/>
<path d="M625.80,74.90 L627.70,76.80 L625.80,78.70 L623.90,76.80 Z" fill="#ff3b3b"/>
<path d="M625.80,76.80 L627.70,78.70 L625.80,80.60 L623.90,78.70 Z" fill="#ff3b3b"/>
<path d="M625.80,80.80 L627.70,82.70 L625.80,84.60 L623.90,82.70 Z" fill="#ff3b3b"/>
<path d="M625.80,85.60 L627.70,87.50 L625.80,89.40 L623.90,87.50 Z" fill="#ff3b3b"/>
<path d="M625.80,88.00 L627.70,89.90 L625.80,91.80 L623.90,89.90 Z" fill="#ff3b3b"/>
<path d="M625.80,100.60 L627.70,102.50 L625.80,104.40 L623.90,102.50 Z" fill="#ff3b3b"/>
<path d="M645.40,87.70 L647.30,89.60 L645.40,91.50 L643.50,89.60 Z" fill="#ff3b3b"/>
<path d="M645.40,93.40 L647.30,95.30 L645.40,97.20 L643.50,95.30 Z" fill="#ff3b3b"/>
<path d="M645.40,110.20 L647.30,112.10 L645.40,114.00 L643.50,112.10 Z" fill="#ff3b3b"/>
<path d="M645.40,111.00 L647.30,112.90 L645.40,114.80 L643.50,112.90 Z" fill="#ff3b3b"/>
<line x1="553.10" y1="155.40" x2="553.10" y2="156.80" stroke="#1f6fe0" stroke-width="0.8" />
<line x1="553.10" y1="159.80" x2="553.10" y2="163.40" stroke="#1f6fe0" stroke-width="0.8" />
<line x1="551.70" y1="155.40" x2="554.50" y2="155.40" stroke="#1f6fe0" stroke-width="0.8" />
<line x1="551.70" y1="163.40" x2="554.50" y2="163.40" stroke="#1f6fe0" stroke-width="0.8" />
<rect x="550.80" y="156.80" width="4.6" height="3.00" fill="#1f6fe0"/>
<line x1="572.60" y1="153.20" x2="572.60" y2="155.00" stroke="#1f6fe0" stroke-width="0.8" />
<line x1="572.60" y1="157.50" x2="572.60" y2="164.30" stroke="#1f6fe0" stroke-width="0.8" />
<line x1="571.20" y1="153.20" x2="574.00" y2="153.20" stroke="#1f6fe0" stroke-width="0.8" />
<line x1="571.20" y1="164.30" x2="574.00" y2="164.30" stroke="#1f6fe0" stroke-width="0.8" />
<rect x="570.30" y="155.00" width="4.6" height="2.50" fill="#1f6fe0"/>
<line x1="592.30" y1="150.40" x2="592.30" y2="154.00" stroke="#1f6fe0" stroke-width="0.8" />
<line x1="592.30" y1="160.70" x2="592.30" y2="164.30" stroke="#1f6fe0" stroke-width="0.8" />
<line x1="590.90" y1="150.40" x2="593.70" y2="150.40" stroke="#1f6fe0" stroke-width="0.8" />
<line x1="590.90" y1="164.30" x2="593.70" y2="164.30" stroke="#1f6fe0" stroke-width="0.8" />
<rect x="590.00" y="154.00" width="4.6" height="6.70" fill="#1f6fe0"/>
<line x1="611.90" y1="152.30" x2="611.90" y2="155.90" stroke="#1f6fe0" stroke-width="0.8" />
<line x1="611.90" y1="159.30" x2="611.90" y2="165.30" stroke="#1f6fe0" stroke-width="0.8" />
<line x1="610.50" y1="152.30" x2="613.30" y2="152.30" stroke="#1f6fe0" stroke-width="0.8" />
<line x1="610.50" y1="165.30" x2="613.30" y2="165.30" stroke="#1f6fe0" stroke-width="0.8" />
<rect x="609.60" y="155.90" width="4.6" height="3.40" fill="#1f6fe0"/>
<line x1="631.60" y1="152.30" x2="631.60" y2="152.30" stroke="#1f6fe0" stroke-width="0.8" />
<line x1="631.60" y1="155.40" x2="631.60" y2="159.30" stroke="#1f6fe0" stroke-width="0.8" />
<line x1="630.20" y1="152.30" x2="633.00" y2="152.30" stroke="#1f6fe0" stroke-width="0.8" />
<line x1="630.20" y1="159.30" x2="633.00" y2="159.30" stroke="#1f6fe0" stroke-width="0.8" />
<rect x="629.30" y="152.30" width="4.6" height="3.10" fill="#1f6fe0"/>
<line x1="651.20" y1="152.70" x2="651.20" y2="152.70" stroke="#1f6fe0" stroke-width="0.8" />
<line x1="651.20" y1="157.20" x2="651.20" y2="157.20" stroke="#1f6fe0" stroke-width="0.8" />
<line x1="649.80" y1="152.70" x2="652.60" y2="152.70" stroke="#1f6fe0" stroke-width="0.8" />
<line x1="649.80" y1="157.20" x2="652.60" y2="157.20" stroke="#1f6fe0" stroke-width="0.8" />
<rect x="648.90" y="152.70" width="4.6" height="4.50" fill="#1f6fe0"/>
<path d="M553.1,158.3 L572.6,156.2 L592.3,157.3 L611.9,157.6 L631.6,153.9 L651.2,154.9" fill="none" stroke="#1f6fe0" stroke-width="0.8" stroke-dasharray="1.5,1"/>
<circle cx="547.10" cy="154.50" r="1.7" fill="#1f6fe0"/>
<circle cx="547.10" cy="156.30" r="1.7" fill="#1f6fe0"/>
<circle cx="547.10" cy="158.90" r="1.7" fill="#1f6fe0"/>
<circle cx="547.10" cy="162.90" r="1.7" fill="#1f6fe0"/>
<circle cx="566.60" cy="153.20" r="1.7" fill="#1f6fe0"/>
<circle cx="566.60" cy="155.40" r="1.7" fill="#1f6fe0"/>
<circle cx="566.60" cy="157.20" r="1.7" fill="#1f6fe0"/>
<circle cx="566.60" cy="163.90" r="1.7" fill="#1f6fe0"/>
<circle cx="586.30" cy="149.70" r="1.7" fill="#1f6fe0"/>
<circle cx="586.30" cy="153.60" r="1.7" fill="#1f6fe0"/>
<circle cx="586.30" cy="158.00" r="1.7" fill="#1f6fe0"/>
<circle cx="586.30" cy="160.70" r="1.7" fill="#1f6fe0"/>
<circle cx="586.30" cy="163.90" r="1.7" fill="#1f6fe0"/>
<circle cx="605.90" cy="152.20" r="1.7" fill="#1f6fe0"/>
<circle cx="605.90" cy="155.40" r="1.7" fill="#1f6fe0"/>
<circle cx="605.90" cy="159.80" r="1.7" fill="#1f6fe0"/>
<circle cx="605.90" cy="165.20" r="1.7" fill="#1f6fe0"/>
<circle cx="625.60" cy="151.80" r="1.7" fill="#1f6fe0"/>
<circle cx="625.60" cy="154.50" r="1.7" fill="#1f6fe0"/>
<circle cx="625.60" cy="159.30" r="1.7" fill="#1f6fe0"/>
<circle cx="645.20" cy="151.80" r="1.7" fill="#1f6fe0"/>
<circle cx="645.20" cy="154.00" r="1.7" fill="#1f6fe0"/>
<circle cx="645.20" cy="156.30" r="1.7" fill="#1f6fe0"/>
<circle cx="645.20" cy="158.00" r="1.7" fill="#1f6fe0"/>
<path d="M543.60,21.70 L549.60,18.50 L549.60,24.90 Z" fill="#000"/>
<path d="M547.60,21.70 L551.30,21.70 L551.30,29.40" fill="none" stroke="#000" stroke-width="1"/>
<path d="M655.30,75.50 L649.30,72.30 L649.30,78.70 Z" fill="#000"/>
<path d="M651.30,75.50 L648.30,75.50 L648.30,83.50" fill="none" stroke="#000" stroke-width="1"/>
<rect x="540.30" y="225.30" width="117.50" height="115.90" fill="none" stroke="#a8a8a8" stroke-width="1.2" />
<rect x="540.30" y="349.20" width="117.50" height="43.60" fill="none" stroke="#a8a8a8" stroke-width="1.2" />
<line x1="540.30" y1="225.30" x2="540.30" y2="341.20" stroke="#555" stroke-width="1" />
<line x1="540.30" y1="349.20" x2="540.30" y2="392.80" stroke="#555" stroke-width="1" />
<line x1="657.80" y1="225.30" x2="657.80" y2="341.20" stroke="#555" stroke-width="1" />
<line x1="537.80" y1="225.30" x2="540.30" y2="225.30" stroke="#333" stroke-width="1" />
<text x="514.90" y="229.90" font-size="11.8" text-anchor="start">10<tspan font-size="8.3" dy="-4.6">-4</tspan></text>
<line x1="538.80" y1="260.60" x2="540.30" y2="260.60" stroke="#333" stroke-width="0.7" />
<line x1="538.80" y1="251.71" x2="540.30" y2="251.71" stroke="#333" stroke-width="0.7" />
<line x1="538.80" y1="245.40" x2="540.30" y2="245.40" stroke="#333" stroke-width="0.7" />
<line x1="538.80" y1="240.50" x2="540.30" y2="240.50" stroke="#333" stroke-width="0.7" />
<line x1="538.80" y1="236.50" x2="540.30" y2="236.50" stroke="#333" stroke-width="0.7" />
<line x1="538.80" y1="233.12" x2="540.30" y2="233.12" stroke="#333" stroke-width="0.7" />
<line x1="538.80" y1="230.19" x2="540.30" y2="230.19" stroke="#333" stroke-width="0.7" />
<line x1="538.80" y1="227.61" x2="540.30" y2="227.61" stroke="#333" stroke-width="0.7" />
<line x1="537.80" y1="275.80" x2="540.30" y2="275.80" stroke="#333" stroke-width="1" />
<text x="514.90" y="280.40" font-size="11.8" text-anchor="start">10<tspan font-size="8.3" dy="-4.6">-5</tspan></text>
<line x1="538.80" y1="311.10" x2="540.30" y2="311.10" stroke="#333" stroke-width="0.7" />
<line x1="538.80" y1="302.21" x2="540.30" y2="302.21" stroke="#333" stroke-width="0.7" />
<line x1="538.80" y1="295.90" x2="540.30" y2="295.90" stroke="#333" stroke-width="0.7" />
<line x1="538.80" y1="291.00" x2="540.30" y2="291.00" stroke="#333" stroke-width="0.7" />
<line x1="538.80" y1="287.00" x2="540.30" y2="287.00" stroke="#333" stroke-width="0.7" />
<line x1="538.80" y1="283.62" x2="540.30" y2="283.62" stroke="#333" stroke-width="0.7" />
<line x1="538.80" y1="280.69" x2="540.30" y2="280.69" stroke="#333" stroke-width="0.7" />
<line x1="538.80" y1="278.11" x2="540.30" y2="278.11" stroke="#333" stroke-width="0.7" />
<line x1="537.80" y1="326.30" x2="540.30" y2="326.30" stroke="#333" stroke-width="1" />
<text x="514.90" y="330.90" font-size="11.8" text-anchor="start">10<tspan font-size="8.3" dy="-4.6">-6</tspan></text>
<line x1="538.80" y1="337.50" x2="540.30" y2="337.50" stroke="#333" stroke-width="0.7" />
<line x1="538.80" y1="334.12" x2="540.30" y2="334.12" stroke="#333" stroke-width="0.7" />
<line x1="538.80" y1="331.19" x2="540.30" y2="331.19" stroke="#333" stroke-width="0.7" />
<line x1="538.80" y1="328.61" x2="540.30" y2="328.61" stroke="#333" stroke-width="0.7" />
<line x1="657.80" y1="225.30" x2="660.30" y2="225.30" stroke="#333" stroke-width="1" />
<text x="662.10" y="229.30" font-size="11.2" text-anchor="start" fill="#000" >10</text>
<line x1="657.80" y1="252.54" x2="660.30" y2="252.54" stroke="#333" stroke-width="1" />
<text x="662.10" y="256.54" font-size="11.2" text-anchor="start" fill="#000" >5</text>
<line x1="657.80" y1="288.56" x2="660.30" y2="288.56" stroke="#333" stroke-width="1" />
<text x="662.10" y="292.56" font-size="11.2" text-anchor="start" fill="#000" >2</text>
<line x1="657.80" y1="315.80" x2="660.30" y2="315.80" stroke="#333" stroke-width="1" />
<text x="662.10" y="319.80" font-size="11.2" text-anchor="start" fill="#000" >1</text>
<line x1="657.80" y1="229.44" x2="659.30" y2="229.44" stroke="#333" stroke-width="0.7" />
<line x1="657.80" y1="234.07" x2="659.30" y2="234.07" stroke="#333" stroke-width="0.7" />
<line x1="657.80" y1="239.32" x2="659.30" y2="239.32" stroke="#333" stroke-width="0.7" />
<line x1="657.80" y1="245.38" x2="659.30" y2="245.38" stroke="#333" stroke-width="0.7" />
<line x1="657.80" y1="261.31" x2="659.30" y2="261.31" stroke="#333" stroke-width="0.7" />
<line x1="657.80" y1="272.62" x2="659.30" y2="272.62" stroke="#333" stroke-width="0.7" />
<line x1="657.80" y1="319.94" x2="659.30" y2="319.94" stroke="#333" stroke-width="0.7" />
<line x1="657.80" y1="324.57" x2="659.30" y2="324.57" stroke="#333" stroke-width="0.7" />
<line x1="657.80" y1="329.82" x2="659.30" y2="329.82" stroke="#333" stroke-width="0.7" />
<line x1="550.50" y1="341.20" x2="550.50" y2="343.70" stroke="#333" stroke-width="0.9" />
<line x1="550.50" y1="392.80" x2="550.50" y2="395.30" stroke="#333" stroke-width="0.9" />
<line x1="570.00" y1="341.20" x2="570.00" y2="343.70" stroke="#333" stroke-width="0.9" />
<line x1="570.00" y1="392.80" x2="570.00" y2="395.30" stroke="#333" stroke-width="0.9" />
<line x1="589.70" y1="341.20" x2="589.70" y2="343.70" stroke="#333" stroke-width="0.9" />
<line x1="589.70" y1="392.80" x2="589.70" y2="395.30" stroke="#333" stroke-width="0.9" />
<line x1="609.30" y1="341.20" x2="609.30" y2="343.70" stroke="#333" stroke-width="0.9" />
<line x1="609.30" y1="392.80" x2="609.30" y2="395.30" stroke="#333" stroke-width="0.9" />
<line x1="629.00" y1="341.20" x2="629.00" y2="343.70" stroke="#333" stroke-width="0.9" />
<line x1="629.00" y1="392.80" x2="629.00" y2="395.30" stroke="#333" stroke-width="0.9" />
<line x1="648.60" y1="341.20" x2="648.60" y2="343.70" stroke="#333" stroke-width="0.9" />
<line x1="648.60" y1="392.80" x2="648.60" y2="395.30" stroke="#333" stroke-width="0.9" />
<line x1="537.80" y1="354.30" x2="540.30" y2="354.30" stroke="#333" stroke-width="1" />
<text x="514.90" y="358.90" font-size="11.8" text-anchor="start">10<tspan font-size="8.3" dy="-4.6">9</tspan></text>
<line x1="537.80" y1="374.00" x2="540.30" y2="374.00" stroke="#333" stroke-width="1" />
<text x="514.90" y="378.60" font-size="11.8" text-anchor="start">10<tspan font-size="8.3" dy="-4.6">7</tspan></text>
<line x1="537.80" y1="393.70" x2="540.30" y2="393.70" stroke="#333" stroke-width="1" />
<text x="514.90" y="398.30" font-size="11.8" text-anchor="start">10<tspan font-size="8.3" dy="-4.6">5</tspan></text>
<line x1="538.80" y1="364.15" x2="540.30" y2="364.15" stroke="#333" stroke-width="0.7" />
<line x1="538.80" y1="383.85" x2="540.30" y2="383.85" stroke="#333" stroke-width="0.7" />
<text x="550.50" y="407.30" font-size="11.5" text-anchor="middle" fill="#000" >0</text>
<text x="570.00" y="407.30" font-size="11.5" text-anchor="middle" fill="#000" >5</text>
<text x="589.70" y="407.30" font-size="11.5" text-anchor="middle" fill="#000" >10</text>
<text x="609.30" y="407.30" font-size="11.5" text-anchor="middle" fill="#000" >15</text>
<text x="629.00" y="407.30" font-size="11.5" text-anchor="middle" fill="#000" >20</text>
<text x="649.60" y="407.30" font-size="11.5" text-anchor="middle" fill="#000" >Rel.</text>
<text x="598.30" y="418.40" font-size="12" text-anchor="middle" fill="#000" >Strain (%)</text>
<text transform="translate(511.2,278.8) rotate(-90)" font-size="12" text-anchor="middle"><tspan font-style="italic">I</tspan><tspan font-size="8.5" dy="2.5">ON</tspan><tspan dy="-2.5"> (A)</tspan></text>
<text transform="translate(511.0,371.1) rotate(-90)" font-size="12.2" text-anchor="middle">On/off ratio</text>
<text transform="translate(683.4,278.3) rotate(-90)" font-size="12.5" text-anchor="middle"><tspan font-style="italic">μ</tspan>/<tspan font-style="italic">μ</tspan><tspan font-size="8.5" dy="2.5">0</tspan></text>
<line x1="553.10" y1="257.10" x2="553.10" y2="258.50" stroke="#ff8e8e" stroke-width="0.8" />
<line x1="553.10" y1="268.60" x2="553.10" y2="268.60" stroke="#ff8e8e" stroke-width="0.8" />
<line x1="551.70" y1="257.10" x2="554.50" y2="257.10" stroke="#ff8e8e" stroke-width="0.8" />
<line x1="551.70" y1="268.60" x2="554.50" y2="268.60" stroke="#ff8e8e" stroke-width="0.8" />
<rect x="550.80" y="258.50" width="4.6" height="10.10" fill="#ff8e8e"/>
<line x1="572.60" y1="252.10" x2="572.60" y2="252.10" stroke="#ff8e8e" stroke-width="0.8" />
<line x1="572.60" y1="264.50" x2="572.60" y2="267.40" stroke="#ff8e8e" stroke-width="0.8" />
<line x1="571.20" y1="252.10" x2="574.00" y2="252.10" stroke="#ff8e8e" stroke-width="0.8" />
<line x1="571.20" y1="267.40" x2="574.00" y2="267.40" stroke="#ff8e8e" stroke-width="0.8" />
<rect x="570.30" y="252.10" width="4.6" height="12.40" fill="#ff8e8e"/>
<line x1="592.30" y1="248.20" x2="592.30" y2="252.10" stroke="#ff8e8e" stroke-width="0.8" />
<line x1="592.30" y1="267.70" x2="592.30" y2="267.70" stroke="#ff8e8e" stroke-width="0.8" />
<line x1="590.90" y1="248.20" x2="593.70" y2="248.20" stroke="#ff8e8e" stroke-width="0.8" />
<line x1="590.90" y1="267.70" x2="593.70" y2="267.70" stroke="#ff8e8e" stroke-width="0.8" />
<rect x="590.00" y="252.10" width="4.6" height="15.60" fill="#ff8e8e"/>
<line x1="611.90" y1="251.70" x2="611.90" y2="253.10" stroke="#ff8e8e" stroke-width="0.8" />
<line x1="611.90" y1="259.70" x2="611.90" y2="266.00" stroke="#ff8e8e" stroke-width="0.8" />
<line x1="610.50" y1="251.70" x2="613.30" y2="251.70" stroke="#ff8e8e" stroke-width="0.8" />
<line x1="610.50" y1="266.00" x2="613.30" y2="266.00" stroke="#ff8e8e" stroke-width="0.8" />
<rect x="609.60" y="253.10" width="4.6" height="6.60" fill="#ff8e8e"/>
<line x1="631.60" y1="247.80" x2="631.60" y2="247.80" stroke="#ff8e8e" stroke-width="0.8" />
<line x1="631.60" y1="260.60" x2="631.60" y2="266.30" stroke="#ff8e8e" stroke-width="0.8" />
<line x1="630.20" y1="247.80" x2="633.00" y2="247.80" stroke="#ff8e8e" stroke-width="0.8" />
<line x1="630.20" y1="266.30" x2="633.00" y2="266.30" stroke="#ff8e8e" stroke-width="0.8" />
<rect x="629.30" y="247.80" width="4.6" height="12.80" fill="#ff8e8e"/>
<line x1="651.20" y1="254.90" x2="651.20" y2="255.60" stroke="#ff8e8e" stroke-width="0.8" />
<line x1="651.20" y1="264.50" x2="651.20" y2="270.40" stroke="#ff8e8e" stroke-width="0.8" />
<line x1="649.80" y1="254.90" x2="652.60" y2="254.90" stroke="#ff8e8e" stroke-width="0.8" />
<line x1="649.80" y1="270.40" x2="652.60" y2="270.40" stroke="#ff8e8e" stroke-width="0.8" />
<rect x="648.90" y="255.60" width="4.6" height="8.90" fill="#ff8e8e"/>
<path d="M553.1,263.6 L572.6,258.3 L592.3,259.9 L611.9,256.4 L631.6,254.2 L651.2,260.1" fill="none" stroke="#ff8e8e" stroke-width="0.7" stroke-dasharray="1.5,1"/>
<path d="M547.30,254.80 L549.20,256.70 L547.30,258.60 L545.40,256.70 Z" fill="#ff3b3b"/>
<path d="M547.30,258.40 L549.20,260.30 L547.30,262.20 L545.40,260.30 Z" fill="#ff3b3b"/>
<path d="M547.30,266.70 L549.20,268.60 L547.30,270.50 L545.40,268.60 Z" fill="#ff3b3b"/>
<path d="M547.30,267.30 L549.20,269.20 L547.30,271.10 L545.40,269.20 Z" fill="#ff3b3b"/>
<path d="M566.80,249.80 L568.70,251.70 L566.80,253.60 L564.90,251.70 Z" fill="#ff3b3b"/>
<path d="M566.80,250.70 L568.70,252.60 L566.80,254.50 L564.90,252.60 Z" fill="#ff3b3b"/>
<path d="M566.80,260.50 L568.70,262.40 L566.80,264.30 L564.90,262.40 Z" fill="#ff3b3b"/>
<path d="M566.80,265.00 L568.70,266.90 L566.80,268.80 L564.90,266.90 Z" fill="#ff3b3b"/>
<path d="M586.50,246.30 L588.40,248.20 L586.50,250.10 L584.60,248.20 Z" fill="#ff3b3b"/>
<path d="M586.50,254.80 L588.40,256.70 L586.50,258.60 L584.60,256.70 Z" fill="#ff3b3b"/>
<path d="M586.50,265.30 L588.40,267.20 L586.50,269.10 L584.60,267.20 Z" fill="#ff3b3b"/>
<path d="M606.10,249.80 L608.00,251.70 L606.10,253.60 L604.20,251.70 Z" fill="#ff3b3b"/>
<path d="M606.10,253.00 L608.00,254.90 L606.10,256.80 L604.20,254.90 Z" fill="#ff3b3b"/>
<path d="M606.10,253.70 L608.00,255.60 L606.10,257.50 L604.20,255.60 Z" fill="#ff3b3b"/>
<path d="M606.10,264.10 L608.00,266.00 L606.10,267.90 L604.20,266.00 Z" fill="#ff3b3b"/>
<path d="M625.80,245.90 L627.70,247.80 L625.80,249.70 L623.90,247.80 Z" fill="#ff3b3b"/>
<path d="M625.80,254.30 L627.70,256.20 L625.80,258.10 L623.90,256.20 Z" fill="#ff3b3b"/>
<path d="M625.80,264.40 L627.70,266.30 L625.80,268.20 L623.90,266.30 Z" fill="#ff3b3b"/>
<path d="M645.40,252.50 L647.30,254.40 L645.40,256.30 L643.50,254.40 Z" fill="#ff3b3b"/>
<path d="M645.40,257.80 L647.30,259.70 L645.40,261.60 L643.50,259.70 Z" fill="#ff3b3b"/>
<path d="M645.40,268.50 L647.30,270.40 L645.40,272.30 L643.50,270.40 Z" fill="#ff3b3b"/>
<line x1="553.10" y1="302.30" x2="553.10" y2="306.40" stroke="#ff8e8e" stroke-width="0.8" />
<line x1="553.10" y1="327.20" x2="553.10" y2="327.20" stroke="#ff8e8e" stroke-width="0.8" />
<line x1="551.70" y1="302.30" x2="554.50" y2="302.30" stroke="#ff8e8e" stroke-width="0.8" />
<line x1="551.70" y1="327.20" x2="554.50" y2="327.20" stroke="#ff8e8e" stroke-width="0.8" />
<rect x="551.20" y="306.40" width="3.8" height="20.80" fill="none" stroke="#ff8e8e" stroke-width="0.8"/>
<line x1="551.20" y1="315.10" x2="555.00" y2="315.10" stroke="#ff8e8e" stroke-width="0.6" />
<line x1="572.60" y1="297.30" x2="572.60" y2="299.90" stroke="#ff8e8e" stroke-width="0.8" />
<line x1="572.60" y1="320.40" x2="572.60" y2="325.40" stroke="#ff8e8e" stroke-width="0.8" />
<line x1="571.20" y1="297.30" x2="574.00" y2="297.30" stroke="#ff8e8e" stroke-width="0.8" />
<line x1="571.20" y1="325.40" x2="574.00" y2="325.40" stroke="#ff8e8e" stroke-width="0.8" />
<rect x="570.70" y="299.90" width="3.8" height="20.50" fill="none" stroke="#ff8e8e" stroke-width="0.8"/>
<line x1="570.70" y1="309.40" x2="574.50" y2="309.40" stroke="#ff8e8e" stroke-width="0.6" />
<line x1="592.30" y1="303.20" x2="592.30" y2="305.80" stroke="#ff8e8e" stroke-width="0.8" />
<line x1="592.30" y1="329.00" x2="592.30" y2="329.00" stroke="#ff8e8e" stroke-width="0.8" />
<line x1="590.90" y1="303.20" x2="593.70" y2="303.20" stroke="#ff8e8e" stroke-width="0.8" />
<line x1="590.90" y1="329.00" x2="593.70" y2="329.00" stroke="#ff8e8e" stroke-width="0.8" />
<rect x="590.40" y="305.80" width="3.8" height="23.20" fill="none" stroke="#ff8e8e" stroke-width="0.8"/>
<line x1="590.40" y1="315.30" x2="594.20" y2="315.30" stroke="#ff8e8e" stroke-width="0.6" />
<line x1="611.90" y1="302.60" x2="611.90" y2="307.60" stroke="#ff8e8e" stroke-width="0.8" />
<line x1="611.90" y1="320.60" x2="611.90" y2="326.70" stroke="#ff8e8e" stroke-width="0.8" />
<line x1="610.50" y1="302.60" x2="613.30" y2="302.60" stroke="#ff8e8e" stroke-width="0.8" />
<line x1="610.50" y1="326.70" x2="613.30" y2="326.70" stroke="#ff8e8e" stroke-width="0.8" />
<rect x="610.00" y="307.60" width="3.8" height="13.00" fill="none" stroke="#ff8e8e" stroke-width="0.8"/>
<line x1="610.00" y1="313.50" x2="613.80" y2="313.50" stroke="#ff8e8e" stroke-width="0.6" />
<line x1="631.60" y1="303.20" x2="631.60" y2="306.40" stroke="#ff8e8e" stroke-width="0.8" />
<line x1="631.60" y1="317.80" x2="631.60" y2="323.10" stroke="#ff8e8e" stroke-width="0.8" />
<line x1="630.20" y1="303.20" x2="633.00" y2="303.20" stroke="#ff8e8e" stroke-width="0.8" />
<line x1="630.20" y1="323.10" x2="633.00" y2="323.10" stroke="#ff8e8e" stroke-width="0.8" />
<rect x="629.70" y="306.40" width="3.8" height="11.40" fill="none" stroke="#ff8e8e" stroke-width="0.8"/>
<line x1="629.70" y1="311.70" x2="633.50" y2="311.70" stroke="#ff8e8e" stroke-width="0.6" />
<line x1="651.20" y1="300.50" x2="651.20" y2="301.40" stroke="#ff8e8e" stroke-width="0.8" />
<line x1="651.20" y1="318.80" x2="651.20" y2="333.40" stroke="#ff8e8e" stroke-width="0.8" />
<line x1="649.80" y1="300.50" x2="652.60" y2="300.50" stroke="#ff8e8e" stroke-width="0.8" />
<line x1="649.80" y1="333.40" x2="652.60" y2="333.40" stroke="#ff8e8e" stroke-width="0.8" />
<rect x="649.30" y="301.40" width="3.8" height="17.40" fill="none" stroke="#ff8e8e" stroke-width="0.8"/>
<line x1="649.30" y1="309.40" x2="653.10" y2="309.40" stroke="#ff8e8e" stroke-width="0.6" />
<path d="M553.1,315.1 L572.6,309.4 L592.3,315.3 L611.9,313.5 L631.6,311.7 L651.2,309.4" fill="none" stroke="#ff8e8e" stroke-width="0.7" stroke-dasharray="1.5,1"/>
<path d="M547.30,300.00 L549.20,301.90 L547.30,303.80 L545.40,301.90 Z" fill="#ff3b3b"/>
<path d="M547.30,309.60 L549.20,311.50 L547.30,313.40 L545.40,311.50 Z" fill="#ff3b3b"/>
<path d="M547.30,324.10 L549.20,326.00 L547.30,327.90 L545.40,326.00 Z" fill="#ff3b3b"/>
<path d="M547.30,325.80 L549.20,327.70 L547.30,329.60 L545.40,327.70 Z" fill="#ff3b3b"/>
<path d="M566.80,295.40 L568.70,297.30 L566.80,299.20 L564.90,297.30 Z" fill="#ff3b3b"/>
<path d="M566.80,300.40 L568.70,302.30 L566.80,304.20 L564.90,302.30 Z" fill="#ff3b3b"/>
<path d="M566.80,314.30 L568.70,316.20 L566.80,318.10 L564.90,316.20 Z" fill="#ff3b3b"/>
<path d="M566.80,323.20 L568.70,325.10 L566.80,327.00 L564.90,325.10 Z" fill="#ff3b3b"/>
<path d="M586.50,301.80 L588.40,303.70 L586.50,305.60 L584.60,303.70 Z" fill="#ff3b3b"/>
<path d="M586.50,306.10 L588.40,308.00 L586.50,309.90 L584.60,308.00 Z" fill="#ff3b3b"/>
<path d="M586.50,325.80 L588.40,327.70 L586.50,329.60 L584.60,327.70 Z" fill="#ff3b3b"/>
<path d="M586.50,327.60 L588.40,329.50 L586.50,331.40 L584.60,329.50 Z" fill="#ff3b3b"/>
<path d="M606.10,300.70 L608.00,302.60 L606.10,304.50 L604.20,302.60 Z" fill="#ff3b3b"/>
<path d="M606.10,311.40 L608.00,313.30 L606.10,315.20 L604.20,313.30 Z" fill="#ff3b3b"/>
<path d="M606.10,314.30 L608.00,316.20 L606.10,318.10 L604.20,316.20 Z" fill="#ff3b3b"/>
<path d="M606.10,324.40 L608.00,326.30 L606.10,328.20 L604.20,326.30 Z" fill="#ff3b3b"/>
<path d="M625.80,301.60 L627.70,303.50 L625.80,305.40 L623.90,303.50 Z" fill="#ff3b3b"/>
<path d="M625.80,307.50 L627.70,309.40 L625.80,311.30 L623.90,309.40 Z" fill="#ff3b3b"/>
<path d="M625.80,311.60 L627.70,313.50 L625.80,315.40 L623.90,313.50 Z" fill="#ff3b3b"/>
<path d="M625.80,320.80 L627.70,322.70 L625.80,324.60 L623.90,322.70 Z" fill="#ff3b3b"/>
<path d="M645.40,298.10 L647.30,300.00 L645.40,301.90 L643.50,300.00 Z" fill="#ff3b3b"/>
<path d="M645.40,300.90 L647.30,302.80 L645.40,304.70 L643.50,302.80 Z" fill="#ff3b3b"/>
<path d="M645.40,306.10 L647.30,308.00 L645.40,309.90 L643.50,308.00 Z" fill="#ff3b3b"/>
<path d="M645.40,331.90 L647.30,333.80 L645.40,335.70 L643.50,333.80 Z" fill="#ff3b3b"/>
<line x1="553.10" y1="364.60" x2="553.10" y2="365.50" stroke="#1f6fe0" stroke-width="0.8" />
<line x1="553.10" y1="367.30" x2="553.10" y2="369.00" stroke="#1f6fe0" stroke-width="0.8" />
<line x1="551.70" y1="364.60" x2="554.50" y2="364.60" stroke="#1f6fe0" stroke-width="0.8" />
<line x1="551.70" y1="369.00" x2="554.50" y2="369.00" stroke="#1f6fe0" stroke-width="0.8" />
<rect x="550.80" y="365.50" width="4.6" height="1.80" fill="#1f6fe0"/>
<line x1="572.60" y1="363.30" x2="572.60" y2="363.30" stroke="#1f6fe0" stroke-width="0.8" />
<line x1="572.60" y1="366.40" x2="572.60" y2="368.20" stroke="#1f6fe0" stroke-width="0.8" />
<line x1="571.20" y1="363.30" x2="574.00" y2="363.30" stroke="#1f6fe0" stroke-width="0.8" />
<line x1="571.20" y1="368.20" x2="574.00" y2="368.20" stroke="#1f6fe0" stroke-width="0.8" />
<rect x="570.30" y="363.30" width="4.6" height="3.10" fill="#1f6fe0"/>
<line x1="592.30" y1="367.80" x2="592.30" y2="367.80" stroke="#1f6fe0" stroke-width="0.8" />
<line x1="592.30" y1="369.40" x2="592.30" y2="369.40" stroke="#1f6fe0" stroke-width="0.8" />
<line x1="590.90" y1="367.80" x2="593.70" y2="367.80" stroke="#1f6fe0" stroke-width="0.8" />
<line x1="590.90" y1="369.40" x2="593.70" y2="369.40" stroke="#1f6fe0" stroke-width="0.8" />
<rect x="590.00" y="367.80" width="4.6" height="1.60" fill="#1f6fe0"/>
<line x1="611.90" y1="361.90" x2="611.90" y2="361.90" stroke="#1f6fe0" stroke-width="0.8" />
<line x1="611.90" y1="370.80" x2="611.90" y2="370.80" stroke="#1f6fe0" stroke-width="0.8" />
<line x1="610.50" y1="361.90" x2="613.30" y2="361.90" stroke="#1f6fe0" stroke-width="0.8" />
<line x1="610.50" y1="370.80" x2="613.30" y2="370.80" stroke="#1f6fe0" stroke-width="0.8" />
<rect x="609.60" y="361.90" width="4.6" height="8.90" fill="#1f6fe0"/>
<line x1="631.60" y1="367.60" x2="631.60" y2="367.60" stroke="#1f6fe0" stroke-width="0.8" />
<line x1="631.60" y1="369.60" x2="631.60" y2="369.60" stroke="#1f6fe0" stroke-width="0.8" />
<line x1="630.20" y1="367.60" x2="633.00" y2="367.60" stroke="#1f6fe0" stroke-width="0.8" />
<line x1="630.20" y1="369.60" x2="633.00" y2="369.60" stroke="#1f6fe0" stroke-width="0.8" />
<rect x="629.30" y="367.60" width="4.6" height="2.00" fill="#1f6fe0"/>
<line x1="651.20" y1="362.80" x2="651.20" y2="362.80" stroke="#1f6fe0" stroke-width="0.8" />
<line x1="651.20" y1="364.60" x2="651.20" y2="364.60" stroke="#1f6fe0" stroke-width="0.8" />
<line x1="649.80" y1="362.80" x2="652.60" y2="362.80" stroke="#1f6fe0" stroke-width="0.8" />
<line x1="649.80" y1="364.60" x2="652.60" y2="364.60" stroke="#1f6fe0" stroke-width="0.8" />
<rect x="648.90" y="362.80" width="4.6" height="1.80" fill="#1f6fe0"/>
<path d="M553.1,366.4 L572.6,364.9 L592.3,368.6 L611.9,366.4 L631.6,368.6 L651.2,363.7" fill="none" stroke="#1f6fe0" stroke-width="0.8" stroke-dasharray="1.5,1"/>
<circle cx="547.10" cy="364.60" r="1.7" fill="#1f6fe0"/>
<circle cx="547.10" cy="366.00" r="1.7" fill="#1f6fe0"/>
<circle cx="547.10" cy="369.00" r="1.7" fill="#1f6fe0"/>
<circle cx="566.60" cy="362.80" r="1.7" fill="#1f6fe0"/>
<circle cx="566.60" cy="365.50" r="1.7" fill="#1f6fe0"/>
<circle cx="566.60" cy="368.50" r="1.7" fill="#1f6fe0"/>
<circle cx="586.30" cy="367.30" r="1.7" fill="#1f6fe0"/>
<circle cx="586.30" cy="369.00" r="1.7" fill="#1f6fe0"/>
<circle cx="586.30" cy="370.30" r="1.7" fill="#1f6fe0"/>
<circle cx="605.90" cy="360.70" r="1.7" fill="#1f6fe0"/>
<circle cx="605.90" cy="363.30" r="1.7" fill="#1f6fe0"/>
<circle cx="605.90" cy="370.00" r="1.7" fill="#1f6fe0"/>
<circle cx="605.90" cy="371.70" r="1.7" fill="#1f6fe0"/>
<circle cx="625.60" cy="366.40" r="1.7" fill="#1f6fe0"/>
<circle cx="625.60" cy="368.20" r="1.7" fill="#1f6fe0"/>
<circle cx="625.60" cy="370.30" r="1.7" fill="#1f6fe0"/>
<circle cx="645.20" cy="362.80" r="1.7" fill="#1f6fe0"/>
<circle cx="645.20" cy="364.20" r="1.7" fill="#1f6fe0"/>
<path d="M543.70,240.70 L549.70,237.50 L549.70,243.90 Z" fill="#000"/>
<path d="M547.70,240.70 L551.40,240.70 L551.40,248.20" fill="none" stroke="#000" stroke-width="1"/>
<path d="M655.90,287.10 L649.90,283.90 L649.90,290.30 Z" fill="#000"/>
<path d="M651.90,287.10 L648.30,287.10 L648.30,294.60" fill="none" stroke="#000" stroke-width="1"/>
<rect x="41.40" y="440.40" width="115.40" height="163.10" fill="none" stroke="#a8a8a8" stroke-width="1.2" />
<line x1="41.40" y1="440.40" x2="41.40" y2="603.50" stroke="#666" stroke-width="1" />
<line x1="41.40" y1="603.50" x2="156.80" y2="603.50" stroke="#666" stroke-width="1" />
<line x1="38.90" y1="456.80" x2="41.40" y2="456.80" stroke="#333" stroke-width="1" />
<text x="38.00" y="460.90" font-size="11.8" text-anchor="end" fill="#000" >0</text>
<line x1="38.90" y1="489.40" x2="41.40" y2="489.40" stroke="#333" stroke-width="1" />
<text x="38.00" y="493.50" font-size="11.8" text-anchor="end" fill="#000" >-2</text>
<line x1="38.90" y1="522.00" x2="41.40" y2="522.00" stroke="#333" stroke-width="1" />
<text x="38.00" y="526.10" font-size="11.8" text-anchor="end" fill="#000" >-4</text>
<line x1="38.90" y1="554.60" x2="41.40" y2="554.60" stroke="#333" stroke-width="1" />
<text x="38.00" y="558.70" font-size="11.8" text-anchor="end" fill="#000" >-6</text>
<line x1="38.90" y1="587.20" x2="41.40" y2="587.20" stroke="#333" stroke-width="1" />
<text x="38.00" y="591.30" font-size="11.8" text-anchor="end" fill="#000" >-8</text>
<line x1="39.90" y1="440.50" x2="41.40" y2="440.50" stroke="#333" stroke-width="0.8" />
<line x1="39.90" y1="473.10" x2="41.40" y2="473.10" stroke="#333" stroke-width="0.8" />
<line x1="39.90" y1="505.70" x2="41.40" y2="505.70" stroke="#333" stroke-width="0.8" />
<line x1="39.90" y1="538.30" x2="41.40" y2="538.30" stroke="#333" stroke-width="0.8" />
<line x1="39.90" y1="570.90" x2="41.40" y2="570.90" stroke="#333" stroke-width="0.8" />
<line x1="39.90" y1="603.50" x2="41.40" y2="603.50" stroke="#333" stroke-width="0.8" />
<line x1="53.00" y1="603.50" x2="53.00" y2="606.00" stroke="#333" stroke-width="1" />
<text x="53.00" y="618.10" font-size="11.8" text-anchor="middle" fill="#000" >0</text>
<line x1="76.22" y1="603.50" x2="76.22" y2="606.00" stroke="#333" stroke-width="1" />
<text x="76.22" y="618.10" font-size="11.8" text-anchor="middle" fill="#000" >5</text>
<line x1="99.45" y1="603.50" x2="99.45" y2="606.00" stroke="#333" stroke-width="1" />
<text x="99.45" y="618.10" font-size="11.8" text-anchor="middle" fill="#000" >10</text>
<line x1="122.67" y1="603.50" x2="122.67" y2="606.00" stroke="#333" stroke-width="1" />
<text x="122.67" y="618.10" font-size="11.8" text-anchor="middle" fill="#000" >15</text>
<line x1="145.90" y1="603.50" x2="145.90" y2="606.00" stroke="#333" stroke-width="1" />
<text x="145.90" y="618.10" font-size="11.8" text-anchor="middle" fill="#000" >20</text>
<line x1="64.61" y1="603.50" x2="64.61" y2="605.00" stroke="#333" stroke-width="0.8" />
<line x1="87.84" y1="603.50" x2="87.84" y2="605.00" stroke="#333" stroke-width="0.8" />
<line x1="111.06" y1="603.50" x2="111.06" y2="605.00" stroke="#333" stroke-width="0.8" />
<line x1="134.29" y1="603.50" x2="134.29" y2="605.00" stroke="#333" stroke-width="0.8" />
<text transform="translate(19.8,522.3) rotate(-90)" font-size="12" text-anchor="middle">Transverse Change (%)</text>
<text x="99.20" y="632.20" font-size="12" text-anchor="middle" fill="#000" >Strain (%)</text>
<path d="M53.00,456.80 L76.22,456.80 L99.45,469.84 L122.67,476.36 L145.90,476.36" fill="none" stroke="#8a8a8a" stroke-width="0.7"/>
<rect x="73.32" y="453.90" width="5.8" height="5.8" fill="#4a4a4a"/>
<rect x="96.55" y="466.94" width="5.8" height="5.8" fill="#4a4a4a"/>
<rect x="119.77" y="473.46" width="5.8" height="5.8" fill="#4a4a4a"/>
<rect x="143.00" y="473.46" width="5.8" height="5.8" fill="#4a4a4a"/>
<path d="M53.00,456.80 L76.22,513.85 L99.45,533.74 L122.67,570.90 L145.90,590.46" fill="none" stroke="#f25656" stroke-width="0.75"/>
<circle cx="53.00" cy="456.80" r="3.3" fill="#ef3d42"/>
<circle cx="76.22" cy="513.85" r="3.3" fill="#ef3d42"/>
<circle cx="99.45" cy="533.74" r="3.3" fill="#ef3d42"/>
<circle cx="122.67" cy="570.90" r="3.3" fill="#ef3d42"/>
<circle cx="145.90" cy="590.46" r="3.3" fill="#ef3d42"/>
<text x="87.5" y="500.3" font-size="12" fill="#777">Δ<tspan font-style="italic">W</tspan></text>
<line x1="105.00" y1="488.30" x2="147.50" y2="488.30" stroke="#4a8ad8" stroke-width="0.9" stroke-dasharray="1.6,1.1"/>
<line x1="105.00" y1="502.60" x2="147.50" y2="502.60" stroke="#4a8ad8" stroke-width="0.9" stroke-dasharray="1.6,1.1"/>
<line x1="108.5" y1="478" x2="108.5" y2="484" stroke="#555" stroke-width="1"/>
<path d="M108.5,488.6 L105.6,482.8 L111.4,482.8 Z" fill="#555"/>
<line x1="108.5" y1="507" x2="108.5" y2="512.7" stroke="#555" stroke-width="1"/>
<path d="M108.5,502.4 L105.6,508.2 L111.4,508.2 Z" fill="#555"/>
<rect x="123.90" y="488.95" width="9.2" height="13.3" fill="#000"/>
<rect x="134.70" y="488.95" width="9.2" height="13.3" fill="#000"/>
<text x="128.50" y="499.74" font-size="11.5" fill="#fff" text-anchor="middle">S</text>
<text x="139.30" y="499.74" font-size="11.5" fill="#fff" text-anchor="middle">D</text>
<line x1="115.60" y1="495.60" x2="122.20" y2="495.60" stroke="#000" stroke-width="1.15"/>
<path d="M112.60,495.60 L118.40,492.50 L118.40,498.70 Z" fill="#000"/>
<line x1="145.60" y1="495.60" x2="152.20" y2="495.60" stroke="#000" stroke-width="1.15"/>
<path d="M155.20,495.60 L149.40,492.50 L149.40,498.70 Z" fill="#000"/>
<text x="71.3" y="540.2" font-size="12" fill="#ee3a3a">Δ<tspan font-style="italic">L</tspan></text>
<line x1="77.10" y1="543.30" x2="77.10" y2="582.60" stroke="#4a8ad8" stroke-width="0.8" stroke-dasharray="1.4,1"/>
<line x1="79.60" y1="543.30" x2="79.60" y2="582.60" stroke="#4a8ad8" stroke-width="0.8" stroke-dasharray="1.4,1"/>
<line x1="65.8" y1="549.4" x2="73" y2="549.4" stroke="#ee3a3a" stroke-width="1"/>
<path d="M76.3,549.4 L71.3,546.9 L71.3,551.9 Z" fill="#ee3a3a"/>
<line x1="83" y1="549.4" x2="90" y2="549.4" stroke="#ee3a3a" stroke-width="1"/>
<path d="M80.2,549.4 L85.2,546.9 L85.2,551.9 Z" fill="#ee3a3a"/>
<rect x="68.60" y="566.25" width="8.6" height="13.5" fill="#000"/>
<rect x="79.60" y="566.25" width="8.6" height="13.5" fill="#000"/>
<text x="72.90" y="577.14" font-size="11.5" fill="#fff" text-anchor="middle">S</text>
<text x="83.90" y="577.14" font-size="11.5" fill="#fff" text-anchor="middle">D</text>
<line x1="78.40" y1="564.55" x2="78.40" y2="557.35" stroke="#000" stroke-width="1.15"/>
<path d="M78.40,554.35 L75.30,560.15 L81.50,560.15 Z" fill="#000"/>
<line x1="78.40" y1="581.45" x2="78.40" y2="588.65" stroke="#000" stroke-width="1.15"/>
<path d="M78.40,591.65 L75.30,585.85 L81.50,585.85 Z" fill="#000"/>
<rect x="219.10" y="440.40" width="107.80" height="80.00" fill="none" stroke="#a8a8a8" stroke-width="1.2" />
<line x1="219.10" y1="440.40" x2="219.10" y2="520.40" stroke="#555" stroke-width="1" />
<rect x="219.10" y="522.60" width="107.80" height="80.60" fill="none" stroke="#a8a8a8" stroke-width="1.2" />
<line x1="219.10" y1="522.60" x2="219.10" y2="603.20" stroke="#555" stroke-width="1" />
<line x1="225.80" y1="520.40" x2="225.80" y2="518.20" stroke="#333" stroke-width="0.7" />
<line x1="225.80" y1="440.40" x2="225.80" y2="442.60" stroke="#333" stroke-width="0.7" />
<line x1="238.41" y1="520.40" x2="238.41" y2="519.10" stroke="#333" stroke-width="0.7" />
<line x1="238.41" y1="440.40" x2="238.41" y2="441.70" stroke="#333" stroke-width="0.7" />
<line x1="245.79" y1="520.40" x2="245.79" y2="519.10" stroke="#333" stroke-width="0.7" />
<line x1="245.79" y1="440.40" x2="245.79" y2="441.70" stroke="#333" stroke-width="0.7" />
<line x1="251.03" y1="520.40" x2="251.03" y2="519.10" stroke="#333" stroke-width="0.7" />
<line x1="251.03" y1="440.40" x2="251.03" y2="441.70" stroke="#333" stroke-width="0.7" />
<line x1="255.09" y1="520.40" x2="255.09" y2="519.10" stroke="#333" stroke-width="0.7" />
<line x1="255.09" y1="440.40" x2="255.09" y2="441.70" stroke="#333" stroke-width="0.7" />
<line x1="258.40" y1="520.40" x2="258.40" y2="519.10" stroke="#333" stroke-width="0.7" />
<line x1="258.40" y1="440.40" x2="258.40" y2="441.70" stroke="#333" stroke-width="0.7" />
<line x1="261.21" y1="520.40" x2="261.21" y2="519.10" stroke="#333" stroke-width="0.7" />
<line x1="261.21" y1="440.40" x2="261.21" y2="441.70" stroke="#333" stroke-width="0.7" />
<line x1="263.64" y1="520.40" x2="263.64" y2="519.10" stroke="#333" stroke-width="0.7" />
<line x1="263.64" y1="440.40" x2="263.64" y2="441.70" stroke="#333" stroke-width="0.7" />
<line x1="265.78" y1="520.40" x2="265.78" y2="519.10" stroke="#333" stroke-width="0.7" />
<line x1="265.78" y1="440.40" x2="265.78" y2="441.70" stroke="#333" stroke-width="0.7" />
<line x1="267.70" y1="520.40" x2="267.70" y2="518.20" stroke="#333" stroke-width="0.7" />
<line x1="267.70" y1="440.40" x2="267.70" y2="442.60" stroke="#333" stroke-width="0.7" />
<line x1="280.31" y1="520.40" x2="280.31" y2="519.10" stroke="#333" stroke-width="0.7" />
<line x1="280.31" y1="440.40" x2="280.31" y2="441.70" stroke="#333" stroke-width="0.7" />
<line x1="287.69" y1="520.40" x2="287.69" y2="519.10" stroke="#333" stroke-width="0.7" />
<line x1="287.69" y1="440.40" x2="287.69" y2="441.70" stroke="#333" stroke-width="0.7" />
<line x1="292.93" y1="520.40" x2="292.93" y2="519.10" stroke="#333" stroke-width="0.7" />
<line x1="292.93" y1="440.40" x2="292.93" y2="441.70" stroke="#333" stroke-width="0.7" />
<line x1="296.99" y1="520.40" x2="296.99" y2="519.10" stroke="#333" stroke-width="0.7" />
<line x1="296.99" y1="440.40" x2="296.99" y2="441.70" stroke="#333" stroke-width="0.7" />
<line x1="300.30" y1="520.40" x2="300.30" y2="519.10" stroke="#333" stroke-width="0.7" />
<line x1="300.30" y1="440.40" x2="300.30" y2="441.70" stroke="#333" stroke-width="0.7" />
<line x1="303.11" y1="520.40" x2="303.11" y2="519.10" stroke="#333" stroke-width="0.7" />
<line x1="303.11" y1="440.40" x2="303.11" y2="441.70" stroke="#333" stroke-width="0.7" />
<line x1="305.54" y1="520.40" x2="305.54" y2="519.10" stroke="#333" stroke-width="0.7" />
<line x1="305.54" y1="440.40" x2="305.54" y2="441.70" stroke="#333" stroke-width="0.7" />
<line x1="307.68" y1="520.40" x2="307.68" y2="519.10" stroke="#333" stroke-width="0.7" />
<line x1="307.68" y1="440.40" x2="307.68" y2="441.70" stroke="#333" stroke-width="0.7" />
<line x1="309.60" y1="520.40" x2="309.60" y2="518.20" stroke="#333" stroke-width="0.7" />
<line x1="309.60" y1="440.40" x2="309.60" y2="442.60" stroke="#333" stroke-width="0.7" />
<line x1="322.21" y1="520.40" x2="322.21" y2="519.10" stroke="#333" stroke-width="0.7" />
<line x1="322.21" y1="440.40" x2="322.21" y2="441.70" stroke="#333" stroke-width="0.7" />
<line x1="225.80" y1="603.20" x2="225.80" y2="601.00" stroke="#333" stroke-width="0.7" />
<line x1="225.80" y1="522.60" x2="225.80" y2="524.80" stroke="#333" stroke-width="0.7" />
<line x1="238.41" y1="603.20" x2="238.41" y2="601.90" stroke="#333" stroke-width="0.7" />
<line x1="238.41" y1="522.60" x2="238.41" y2="523.90" stroke="#333" stroke-width="0.7" />
<line x1="245.79" y1="603.20" x2="245.79" y2="601.90" stroke="#333" stroke-width="0.7" />
<line x1="245.79" y1="522.60" x2="245.79" y2="523.90" stroke="#333" stroke-width="0.7" />
<line x1="251.03" y1="603.20" x2="251.03" y2="601.90" stroke="#333" stroke-width="0.7" />
<line x1="251.03" y1="522.60" x2="251.03" y2="523.90" stroke="#333" stroke-width="0.7" />
<line x1="255.09" y1="603.20" x2="255.09" y2="601.90" stroke="#333" stroke-width="0.7" />
<line x1="255.09" y1="522.60" x2="255.09" y2="523.90" stroke="#333" stroke-width="0.7" />
<line x1="258.40" y1="603.20" x2="258.40" y2="601.90" stroke="#333" stroke-width="0.7" />
<line x1="258.40" y1="522.60" x2="258.40" y2="523.90" stroke="#333" stroke-width="0.7" />
<line x1="261.21" y1="603.20" x2="261.21" y2="601.90" stroke="#333" stroke-width="0.7" />
<line x1="261.21" y1="522.60" x2="261.21" y2="523.90" stroke="#333" stroke-width="0.7" />
<line x1="263.64" y1="603.20" x2="263.64" y2="601.90" stroke="#333" stroke-width="0.7" />
<line x1="263.64" y1="522.60" x2="263.64" y2="523.90" stroke="#333" stroke-width="0.7" />
<line x1="265.78" y1="603.20" x2="265.78" y2="601.90" stroke="#333" stroke-width="0.7" />
<line x1="265.78" y1="522.60" x2="265.78" y2="523.90" stroke="#333" stroke-width="0.7" />
<line x1="267.70" y1="603.20" x2="267.70" y2="601.00" stroke="#333" stroke-width="0.7" />
<line x1="267.70" y1="522.60" x2="267.70" y2="524.80" stroke="#333" stroke-width="0.7" />
<line x1="280.31" y1="603.20" x2="280.31" y2="601.90" stroke="#333" stroke-width="0.7" />
<line x1="280.31" y1="522.60" x2="280.31" y2="523.90" stroke="#333" stroke-width="0.7" />
<line x1="287.69" y1="603.20" x2="287.69" y2="601.90" stroke="#333" stroke-width="0.7" />
<line x1="287.69" y1="522.60" x2="287.69" y2="523.90" stroke="#333" stroke-width="0.7" />
<line x1="292.93" y1="603.20" x2="292.93" y2="601.90" stroke="#333" stroke-width="0.7" />
<line x1="292.93" y1="522.60" x2="292.93" y2="523.90" stroke="#333" stroke-width="0.7" />
<line x1="296.99" y1="603.20" x2="296.99" y2="601.90" stroke="#333" stroke-width="0.7" />
<line x1="296.99" y1="522.60" x2="296.99" y2="523.90" stroke="#333" stroke-width="0.7" />
<line x1="300.30" y1="603.20" x2="300.30" y2="601.90" stroke="#333" stroke-width="0.7" />
<line x1="300.30" y1="522.60" x2="300.30" y2="523.90" stroke="#333" stroke-width="0.7" />
<line x1="303.11" y1="603.20" x2="303.11" y2="601.90" stroke="#333" stroke-width="0.7" />
<line x1="303.11" y1="522.60" x2="303.11" y2="523.90" stroke="#333" stroke-width="0.7" />
<line x1="305.54" y1="603.20" x2="305.54" y2="601.90" stroke="#333" stroke-width="0.7" />
<line x1="305.54" y1="522.60" x2="305.54" y2="523.90" stroke="#333" stroke-width="0.7" />
<line x1="307.68" y1="603.20" x2="307.68" y2="601.90" stroke="#333" stroke-width="0.7" />
<line x1="307.68" y1="522.60" x2="307.68" y2="523.90" stroke="#333" stroke-width="0.7" />
<line x1="309.60" y1="603.20" x2="309.60" y2="601.00" stroke="#333" stroke-width="0.7" />
<line x1="309.60" y1="522.60" x2="309.60" y2="524.80" stroke="#333" stroke-width="0.7" />
<line x1="322.21" y1="603.20" x2="322.21" y2="601.90" stroke="#333" stroke-width="0.7" />
<line x1="322.21" y1="522.60" x2="322.21" y2="523.90" stroke="#333" stroke-width="0.7" />
<line x1="216.90" y1="440.40" x2="220.60" y2="440.40" stroke="#333" stroke-width="0.9" />
<text x="193.80" y="445.00" font-size="11.8" text-anchor="start">10<tspan font-size="8.3" dy="-4.6">-4</tspan></text>
<line x1="219.10" y1="461.23" x2="220.30" y2="461.23" stroke="#333" stroke-width="0.6" />
<line x1="219.10" y1="455.98" x2="220.30" y2="455.98" stroke="#333" stroke-width="0.6" />
<line x1="219.10" y1="452.26" x2="220.30" y2="452.26" stroke="#333" stroke-width="0.6" />
<line x1="219.10" y1="449.37" x2="220.30" y2="449.37" stroke="#333" stroke-width="0.6" />
<line x1="219.10" y1="447.01" x2="220.30" y2="447.01" stroke="#333" stroke-width="0.6" />
<line x1="219.10" y1="445.02" x2="220.30" y2="445.02" stroke="#333" stroke-width="0.6" />
<line x1="219.10" y1="443.29" x2="220.30" y2="443.29" stroke="#333" stroke-width="0.6" />
<line x1="219.10" y1="441.76" x2="220.30" y2="441.76" stroke="#333" stroke-width="0.6" />
<line x1="216.90" y1="470.20" x2="220.60" y2="470.20" stroke="#333" stroke-width="0.9" />
<text x="193.80" y="474.80" font-size="11.8" text-anchor="start">10<tspan font-size="8.3" dy="-4.6">-5</tspan></text>
<line x1="219.10" y1="491.03" x2="220.30" y2="491.03" stroke="#333" stroke-width="0.6" />
<line x1="219.10" y1="485.78" x2="220.30" y2="485.78" stroke="#333" stroke-width="0.6" />
<line x1="219.10" y1="482.06" x2="220.30" y2="482.06" stroke="#333" stroke-width="0.6" />
<line x1="219.10" y1="479.17" x2="220.30" y2="479.17" stroke="#333" stroke-width="0.6" />
<line x1="219.10" y1="476.81" x2="220.30" y2="476.81" stroke="#333" stroke-width="0.6" />
<line x1="219.10" y1="474.82" x2="220.30" y2="474.82" stroke="#333" stroke-width="0.6" />
<line x1="219.10" y1="473.09" x2="220.30" y2="473.09" stroke="#333" stroke-width="0.6" />
<line x1="219.10" y1="471.56" x2="220.30" y2="471.56" stroke="#333" stroke-width="0.6" />
<line x1="216.90" y1="500.00" x2="220.60" y2="500.00" stroke="#333" stroke-width="0.9" />
<text x="193.80" y="504.60" font-size="11.8" text-anchor="start">10<tspan font-size="8.3" dy="-4.6">-6</tspan></text>
<line x1="219.10" y1="515.58" x2="220.30" y2="515.58" stroke="#333" stroke-width="0.6" />
<line x1="219.10" y1="511.86" x2="220.30" y2="511.86" stroke="#333" stroke-width="0.6" />
<line x1="219.10" y1="508.97" x2="220.30" y2="508.97" stroke="#333" stroke-width="0.6" />
<line x1="219.10" y1="506.61" x2="220.30" y2="506.61" stroke="#333" stroke-width="0.6" />
<line x1="219.10" y1="504.62" x2="220.30" y2="504.62" stroke="#333" stroke-width="0.6" />
<line x1="219.10" y1="502.89" x2="220.30" y2="502.89" stroke="#333" stroke-width="0.6" />
<line x1="219.10" y1="501.36" x2="220.30" y2="501.36" stroke="#333" stroke-width="0.6" />
<line x1="216.90" y1="527.00" x2="220.60" y2="527.00" stroke="#333" stroke-width="0.9" />
<text x="193.80" y="531.60" font-size="11.8" text-anchor="start">10<tspan font-size="8.3" dy="-4.6">9</tspan></text>
<line x1="219.10" y1="536.17" x2="220.30" y2="536.17" stroke="#333" stroke-width="0.6" />
<line x1="216.90" y1="545.35" x2="220.60" y2="545.35" stroke="#333" stroke-width="0.9" />
<text x="193.80" y="549.95" font-size="11.8" text-anchor="start">10<tspan font-size="8.3" dy="-4.6">7</tspan></text>
<line x1="219.10" y1="554.52" x2="220.30" y2="554.52" stroke="#333" stroke-width="0.6" />
<line x1="216.90" y1="563.70" x2="220.60" y2="563.70" stroke="#333" stroke-width="0.9" />
<text x="193.80" y="568.30" font-size="11.8" text-anchor="start">10<tspan font-size="8.3" dy="-4.6">5</tspan></text>
<line x1="219.10" y1="572.87" x2="220.30" y2="572.87" stroke="#333" stroke-width="0.6" />
<line x1="216.90" y1="582.05" x2="220.60" y2="582.05" stroke="#333" stroke-width="0.9" />
<text x="193.80" y="586.65" font-size="11.8" text-anchor="start">10<tspan font-size="8.3" dy="-4.6">3</tspan></text>
<line x1="219.10" y1="591.22" x2="220.30" y2="591.22" stroke="#333" stroke-width="0.6" />
<line x1="216.90" y1="600.40" x2="220.60" y2="600.40" stroke="#333" stroke-width="0.9" />
<text x="193.80" y="605.00" font-size="11.8" text-anchor="start">10<tspan font-size="8.3" dy="-4.6">1</tspan></text>
<text x="226.10" y="617.60" font-size="11.8" text-anchor="middle" fill="#000" >1</text>
<text x="238.41" y="617.60" font-size="11.8" text-anchor="middle" fill="#000" >2</text>
<text x="255.09" y="617.60" font-size="11.8" text-anchor="middle" fill="#000" >5</text>
<text x="280.31" y="617.60" font-size="11.8" text-anchor="middle" fill="#000" >20</text>
<text x="296.99" y="617.60" font-size="11.8" text-anchor="middle" fill="#000" >50</text>
<text x="322.21" y="617.60" font-size="11.8" text-anchor="middle" fill="#000" >200</text>
<path d="M225.80,461.00 L238.41,462.00 L255.09,460.50 L267.70,457.50 L280.31,460.00 L296.99,463.00 L309.60,459.50 L322.21,461.00" fill="none" stroke="#888" stroke-width="0.7"/>
<line x1="225.80" y1="456.00" x2="225.80" y2="467.00" stroke="#999" stroke-width="0.7" />
<line x1="224.30" y1="456.00" x2="227.30" y2="456.00" stroke="#999" stroke-width="0.7" />
<line x1="224.30" y1="467.00" x2="227.30" y2="467.00" stroke="#999" stroke-width="0.7" />
<rect x="223.40" y="458.60" width="4.8" height="4.8" fill="#fff" fill-opacity="0.6" stroke="#707070" stroke-width="0.8"/>
<line x1="238.41" y1="457.00" x2="238.41" y2="468.00" stroke="#999" stroke-width="0.7" />
<line x1="236.91" y1="457.00" x2="239.91" y2="457.00" stroke="#999" stroke-width="0.7" />
<line x1="236.91" y1="468.00" x2="239.91" y2="468.00" stroke="#999" stroke-width="0.7" />
<rect x="236.01" y="459.60" width="4.8" height="4.8" fill="#fff" fill-opacity="0.6" stroke="#707070" stroke-width="0.8"/>
<line x1="255.09" y1="455.50" x2="255.09" y2="466.50" stroke="#999" stroke-width="0.7" />
<line x1="253.59" y1="455.50" x2="256.59" y2="455.50" stroke="#999" stroke-width="0.7" />
<line x1="253.59" y1="466.50" x2="256.59" y2="466.50" stroke="#999" stroke-width="0.7" />
<rect x="252.69" y="458.10" width="4.8" height="4.8" fill="#fff" fill-opacity="0.6" stroke="#707070" stroke-width="0.8"/>
<line x1="267.70" y1="452.50" x2="267.70" y2="463.50" stroke="#999" stroke-width="0.7" />
<line x1="266.20" y1="452.50" x2="269.20" y2="452.50" stroke="#999" stroke-width="0.7" />
<line x1="266.20" y1="463.50" x2="269.20" y2="463.50" stroke="#999" stroke-width="0.7" />
<rect x="265.30" y="455.10" width="4.8" height="4.8" fill="#fff" fill-opacity="0.6" stroke="#707070" stroke-width="0.8"/>
<line x1="280.31" y1="455.00" x2="280.31" y2="466.00" stroke="#999" stroke-width="0.7" />
<line x1="278.81" y1="455.00" x2="281.81" y2="455.00" stroke="#999" stroke-width="0.7" />
<line x1="278.81" y1="466.00" x2="281.81" y2="466.00" stroke="#999" stroke-width="0.7" />
<rect x="277.91" y="457.60" width="4.8" height="4.8" fill="#fff" fill-opacity="0.6" stroke="#707070" stroke-width="0.8"/>
<line x1="296.99" y1="458.00" x2="296.99" y2="469.00" stroke="#999" stroke-width="0.7" />
<line x1="295.49" y1="458.00" x2="298.49" y2="458.00" stroke="#999" stroke-width="0.7" />
<line x1="295.49" y1="469.00" x2="298.49" y2="469.00" stroke="#999" stroke-width="0.7" />
<rect x="294.59" y="460.60" width="4.8" height="4.8" fill="#fff" fill-opacity="0.6" stroke="#707070" stroke-width="0.8"/>
<line x1="309.60" y1="454.50" x2="309.60" y2="465.50" stroke="#999" stroke-width="0.7" />
<line x1="308.10" y1="454.50" x2="311.10" y2="454.50" stroke="#999" stroke-width="0.7" />
<line x1="308.10" y1="465.50" x2="311.10" y2="465.50" stroke="#999" stroke-width="0.7" />
<rect x="307.20" y="457.10" width="4.8" height="4.8" fill="#fff" fill-opacity="0.6" stroke="#707070" stroke-width="0.8"/>
<line x1="322.21" y1="456.00" x2="322.21" y2="467.00" stroke="#999" stroke-width="0.7" />
<line x1="320.71" y1="456.00" x2="323.71" y2="456.00" stroke="#999" stroke-width="0.7" />
<line x1="320.71" y1="467.00" x2="323.71" y2="467.00" stroke="#999" stroke-width="0.7" />
<rect x="319.81" y="458.60" width="4.8" height="4.8" fill="#fff" fill-opacity="0.6" stroke="#707070" stroke-width="0.8"/>
<path d="M225.80,465.00 L238.41,467.00 L255.09,464.00 L267.70,463.00 L280.31,463.00 L296.99,465.50 L309.60,464.00 L322.21,464.00" fill="none" stroke="#888" stroke-width="0.7"/>
<line x1="225.80" y1="460.00" x2="225.80" y2="471.00" stroke="#999" stroke-width="0.7" />
<line x1="224.30" y1="460.00" x2="227.30" y2="460.00" stroke="#999" stroke-width="0.7" />
<line x1="224.30" y1="471.00" x2="227.30" y2="471.00" stroke="#999" stroke-width="0.7" />
<rect x="223.40" y="462.60" width="4.8" height="4.8" fill="#505050"/>
<line x1="238.41" y1="462.00" x2="238.41" y2="473.00" stroke="#999" stroke-width="0.7" />
<line x1="236.91" y1="462.00" x2="239.91" y2="462.00" stroke="#999" stroke-width="0.7" />
<line x1="236.91" y1="473.00" x2="239.91" y2="473.00" stroke="#999" stroke-width="0.7" />
<rect x="236.01" y="464.60" width="4.8" height="4.8" fill="#505050"/>
<line x1="255.09" y1="459.00" x2="255.09" y2="470.00" stroke="#999" stroke-width="0.7" />
<line x1="253.59" y1="459.00" x2="256.59" y2="459.00" stroke="#999" stroke-width="0.7" />
<line x1="253.59" y1="470.00" x2="256.59" y2="470.00" stroke="#999" stroke-width="0.7" />
<rect x="252.69" y="461.60" width="4.8" height="4.8" fill="#505050"/>
<line x1="267.70" y1="458.00" x2="267.70" y2="469.00" stroke="#999" stroke-width="0.7" />
<line x1="266.20" y1="458.00" x2="269.20" y2="458.00" stroke="#999" stroke-width="0.7" />
<line x1="266.20" y1="469.00" x2="269.20" y2="469.00" stroke="#999" stroke-width="0.7" />
<rect x="265.30" y="460.60" width="4.8" height="4.8" fill="#505050"/>
<line x1="280.31" y1="458.00" x2="280.31" y2="469.00" stroke="#999" stroke-width="0.7" />
<line x1="278.81" y1="458.00" x2="281.81" y2="458.00" stroke="#999" stroke-width="0.7" />
<line x1="278.81" y1="469.00" x2="281.81" y2="469.00" stroke="#999" stroke-width="0.7" />
<rect x="277.91" y="460.60" width="4.8" height="4.8" fill="#505050"/>
<line x1="296.99" y1="460.50" x2="296.99" y2="471.50" stroke="#999" stroke-width="0.7" />
<line x1="295.49" y1="460.50" x2="298.49" y2="460.50" stroke="#999" stroke-width="0.7" />
<line x1="295.49" y1="471.50" x2="298.49" y2="471.50" stroke="#999" stroke-width="0.7" />
<rect x="294.59" y="463.10" width="4.8" height="4.8" fill="#505050"/>
<line x1="309.60" y1="459.00" x2="309.60" y2="470.00" stroke="#999" stroke-width="0.7" />
<line x1="308.10" y1="459.00" x2="311.10" y2="459.00" stroke="#999" stroke-width="0.7" />
<line x1="308.10" y1="470.00" x2="311.10" y2="470.00" stroke="#999" stroke-width="0.7" />
<rect x="307.20" y="461.60" width="4.8" height="4.8" fill="#505050"/>
<line x1="322.21" y1="459.00" x2="322.21" y2="470.00" stroke="#999" stroke-width="0.7" />
<line x1="320.71" y1="459.00" x2="323.71" y2="459.00" stroke="#999" stroke-width="0.7" />
<line x1="320.71" y1="470.00" x2="323.71" y2="470.00" stroke="#999" stroke-width="0.7" />
<rect x="319.81" y="461.60" width="4.8" height="4.8" fill="#505050"/>
<path d="M225.80,545.50 L238.41,543.60 L255.09,545.50 L267.70,546.30 L280.31,549.50 L296.99,546.30 L309.60,546.30 L322.21,539.90" fill="none" stroke="#f06060" stroke-width="0.7"/>
<circle cx="225.80" cy="545.50" r="2.9" fill="#ee3a3a"/>
<circle cx="238.41" cy="543.60" r="2.9" fill="#ee3a3a"/>
<circle cx="255.09" cy="545.50" r="2.9" fill="#ee3a3a"/>
<circle cx="267.70" cy="546.30" r="2.9" fill="#ee3a3a"/>
<circle cx="280.31" cy="549.50" r="2.9" fill="#ee3a3a"/>
<circle cx="296.99" cy="546.30" r="2.9" fill="#ee3a3a"/>
<circle cx="309.60" cy="546.30" r="2.9" fill="#ee3a3a"/>
<circle cx="322.21" cy="539.90" r="2.9" fill="#ee3a3a"/>
<path d="M225.80,543.90 L238.41,542.60 L255.09,545.50 L267.70,546.30 L280.31,543.90 L296.99,541.50 L309.60,546.30 L322.21,543.90" fill="none" stroke="#f06060" stroke-width="0.7"/>
<circle cx="225.80" cy="543.90" r="2.7" fill="#fff" fill-opacity="0.5" stroke="#ee3a3a" stroke-width="0.8"/>
<circle cx="238.41" cy="542.60" r="2.7" fill="#fff" fill-opacity="0.5" stroke="#ee3a3a" stroke-width="0.8"/>
<circle cx="255.09" cy="545.50" r="2.7" fill="#fff" fill-opacity="0.5" stroke="#ee3a3a" stroke-width="0.8"/>
<circle cx="267.70" cy="546.30" r="2.7" fill="#fff" fill-opacity="0.5" stroke="#ee3a3a" stroke-width="0.8"/>
<circle cx="280.31" cy="543.90" r="2.7" fill="#fff" fill-opacity="0.5" stroke="#ee3a3a" stroke-width="0.8"/>
<circle cx="296.99" cy="541.50" r="2.7" fill="#fff" fill-opacity="0.5" stroke="#ee3a3a" stroke-width="0.8"/>
<circle cx="309.60" cy="546.30" r="2.7" fill="#fff" fill-opacity="0.5" stroke="#ee3a3a" stroke-width="0.8"/>
<circle cx="322.21" cy="543.90" r="2.7" fill="#fff" fill-opacity="0.5" stroke="#ee3a3a" stroke-width="0.8"/>
<rect x="334.10" y="440.40" width="108.30" height="80.00" fill="none" stroke="#a8a8a8" stroke-width="1.2" />
<line x1="334.10" y1="440.40" x2="334.10" y2="520.40" stroke="#555" stroke-width="1" />
<rect x="334.10" y="522.60" width="108.30" height="80.60" fill="none" stroke="#a8a8a8" stroke-width="1.2" />
<line x1="334.10" y1="522.60" x2="334.10" y2="603.20" stroke="#555" stroke-width="1" />
<line x1="342.50" y1="520.40" x2="342.50" y2="518.20" stroke="#333" stroke-width="0.7" />
<line x1="342.50" y1="440.40" x2="342.50" y2="442.60" stroke="#333" stroke-width="0.7" />
<line x1="354.66" y1="520.40" x2="354.66" y2="519.10" stroke="#333" stroke-width="0.7" />
<line x1="354.66" y1="440.40" x2="354.66" y2="441.70" stroke="#333" stroke-width="0.7" />
<line x1="361.78" y1="520.40" x2="361.78" y2="519.10" stroke="#333" stroke-width="0.7" />
<line x1="361.78" y1="440.40" x2="361.78" y2="441.70" stroke="#333" stroke-width="0.7" />
<line x1="366.82" y1="520.40" x2="366.82" y2="519.10" stroke="#333" stroke-width="0.7" />
<line x1="366.82" y1="440.40" x2="366.82" y2="441.70" stroke="#333" stroke-width="0.7" />
<line x1="370.74" y1="520.40" x2="370.74" y2="519.10" stroke="#333" stroke-width="0.7" />
<line x1="370.74" y1="440.40" x2="370.74" y2="441.70" stroke="#333" stroke-width="0.7" />
<line x1="373.94" y1="520.40" x2="373.94" y2="519.10" stroke="#333" stroke-width="0.7" />
<line x1="373.94" y1="440.40" x2="373.94" y2="441.70" stroke="#333" stroke-width="0.7" />
<line x1="376.64" y1="520.40" x2="376.64" y2="519.10" stroke="#333" stroke-width="0.7" />
<line x1="376.64" y1="440.40" x2="376.64" y2="441.70" stroke="#333" stroke-width="0.7" />
<line x1="378.98" y1="520.40" x2="378.98" y2="519.10" stroke="#333" stroke-width="0.7" />
<line x1="378.98" y1="440.40" x2="378.98" y2="441.70" stroke="#333" stroke-width="0.7" />
<line x1="381.05" y1="520.40" x2="381.05" y2="519.10" stroke="#333" stroke-width="0.7" />
<line x1="381.05" y1="440.40" x2="381.05" y2="441.70" stroke="#333" stroke-width="0.7" />
<line x1="382.90" y1="520.40" x2="382.90" y2="518.20" stroke="#333" stroke-width="0.7" />
<line x1="382.90" y1="440.40" x2="382.90" y2="442.60" stroke="#333" stroke-width="0.7" />
<line x1="395.06" y1="520.40" x2="395.06" y2="519.10" stroke="#333" stroke-width="0.7" />
<line x1="395.06" y1="440.40" x2="395.06" y2="441.70" stroke="#333" stroke-width="0.7" />
<line x1="402.18" y1="520.40" x2="402.18" y2="519.10" stroke="#333" stroke-width="0.7" />
<line x1="402.18" y1="440.40" x2="402.18" y2="441.70" stroke="#333" stroke-width="0.7" />
<line x1="407.22" y1="520.40" x2="407.22" y2="519.10" stroke="#333" stroke-width="0.7" />
<line x1="407.22" y1="440.40" x2="407.22" y2="441.70" stroke="#333" stroke-width="0.7" />
<line x1="411.14" y1="520.40" x2="411.14" y2="519.10" stroke="#333" stroke-width="0.7" />
<line x1="411.14" y1="440.40" x2="411.14" y2="441.70" stroke="#333" stroke-width="0.7" />
<line x1="414.34" y1="520.40" x2="414.34" y2="519.10" stroke="#333" stroke-width="0.7" />
<line x1="414.34" y1="440.40" x2="414.34" y2="441.70" stroke="#333" stroke-width="0.7" />
<line x1="417.04" y1="520.40" x2="417.04" y2="519.10" stroke="#333" stroke-width="0.7" />
<line x1="417.04" y1="440.40" x2="417.04" y2="441.70" stroke="#333" stroke-width="0.7" />
<line x1="419.38" y1="520.40" x2="419.38" y2="519.10" stroke="#333" stroke-width="0.7" />
<line x1="419.38" y1="440.40" x2="419.38" y2="441.70" stroke="#333" stroke-width="0.7" />
<line x1="421.45" y1="520.40" x2="421.45" y2="519.10" stroke="#333" stroke-width="0.7" />
<line x1="421.45" y1="440.40" x2="421.45" y2="441.70" stroke="#333" stroke-width="0.7" />
<line x1="423.30" y1="520.40" x2="423.30" y2="518.20" stroke="#333" stroke-width="0.7" />
<line x1="423.30" y1="440.40" x2="423.30" y2="442.60" stroke="#333" stroke-width="0.7" />
<line x1="435.46" y1="520.40" x2="435.46" y2="519.10" stroke="#333" stroke-width="0.7" />
<line x1="435.46" y1="440.40" x2="435.46" y2="441.70" stroke="#333" stroke-width="0.7" />
<line x1="342.50" y1="603.20" x2="342.50" y2="601.00" stroke="#333" stroke-width="0.7" />
<line x1="342.50" y1="522.60" x2="342.50" y2="524.80" stroke="#333" stroke-width="0.7" />
<line x1="354.66" y1="603.20" x2="354.66" y2="601.90" stroke="#333" stroke-width="0.7" />
<line x1="354.66" y1="522.60" x2="354.66" y2="523.90" stroke="#333" stroke-width="0.7" />
<line x1="361.78" y1="603.20" x2="361.78" y2="601.90" stroke="#333" stroke-width="0.7" />
<line x1="361.78" y1="522.60" x2="361.78" y2="523.90" stroke="#333" stroke-width="0.7" />
<line x1="366.82" y1="603.20" x2="366.82" y2="601.90" stroke="#333" stroke-width="0.7" />
<line x1="366.82" y1="522.60" x2="366.82" y2="523.90" stroke="#333" stroke-width="0.7" />
<line x1="370.74" y1="603.20" x2="370.74" y2="601.90" stroke="#333" stroke-width="0.7" />
<line x1="370.74" y1="522.60" x2="370.74" y2="523.90" stroke="#333" stroke-width="0.7" />
<line x1="373.94" y1="603.20" x2="373.94" y2="601.90" stroke="#333" stroke-width="0.7" />
<line x1="373.94" y1="522.60" x2="373.94" y2="523.90" stroke="#333" stroke-width="0.7" />
<line x1="376.64" y1="603.20" x2="376.64" y2="601.90" stroke="#333" stroke-width="0.7" />
<line x1="376.64" y1="522.60" x2="376.64" y2="523.90" stroke="#333" stroke-width="0.7" />
<line x1="378.98" y1="603.20" x2="378.98" y2="601.90" stroke="#333" stroke-width="0.7" />
<line x1="378.98" y1="522.60" x2="378.98" y2="523.90" stroke="#333" stroke-width="0.7" />
<line x1="381.05" y1="603.20" x2="381.05" y2="601.90" stroke="#333" stroke-width="0.7" />
<line x1="381.05" y1="522.60" x2="381.05" y2="523.90" stroke="#333" stroke-width="0.7" />
<line x1="382.90" y1="603.20" x2="382.90" y2="601.00" stroke="#333" stroke-width="0.7" />
<line x1="382.90" y1="522.60" x2="382.90" y2="524.80" stroke="#333" stroke-width="0.7" />
<line x1="395.06" y1="603.20" x2="395.06" y2="601.90" stroke="#333" stroke-width="0.7" />
<line x1="395.06" y1="522.60" x2="395.06" y2="523.90" stroke="#333" stroke-width="0.7" />
<line x1="402.18" y1="603.20" x2="402.18" y2="601.90" stroke="#333" stroke-width="0.7" />
<line x1="402.18" y1="522.60" x2="402.18" y2="523.90" stroke="#333" stroke-width="0.7" />
<line x1="407.22" y1="603.20" x2="407.22" y2="601.90" stroke="#333" stroke-width="0.7" />
<line x1="407.22" y1="522.60" x2="407.22" y2="523.90" stroke="#333" stroke-width="0.7" />
<line x1="411.14" y1="603.20" x2="411.14" y2="601.90" stroke="#333" stroke-width="0.7" />
<line x1="411.14" y1="522.60" x2="411.14" y2="523.90" stroke="#333" stroke-width="0.7" />
<line x1="414.34" y1="603.20" x2="414.34" y2="601.90" stroke="#333" stroke-width="0.7" />
<line x1="414.34" y1="522.60" x2="414.34" y2="523.90" stroke="#333" stroke-width="0.7" />
<line x1="417.04" y1="603.20" x2="417.04" y2="601.90" stroke="#333" stroke-width="0.7" />
<line x1="417.04" y1="522.60" x2="417.04" y2="523.90" stroke="#333" stroke-width="0.7" />
<line x1="419.38" y1="603.20" x2="419.38" y2="601.90" stroke="#333" stroke-width="0.7" />
<line x1="419.38" y1="522.60" x2="419.38" y2="523.90" stroke="#333" stroke-width="0.7" />
<line x1="421.45" y1="603.20" x2="421.45" y2="601.90" stroke="#333" stroke-width="0.7" />
<line x1="421.45" y1="522.60" x2="421.45" y2="523.90" stroke="#333" stroke-width="0.7" />
<line x1="423.30" y1="603.20" x2="423.30" y2="601.00" stroke="#333" stroke-width="0.7" />
<line x1="423.30" y1="522.60" x2="423.30" y2="524.80" stroke="#333" stroke-width="0.7" />
<line x1="435.46" y1="603.20" x2="435.46" y2="601.90" stroke="#333" stroke-width="0.7" />
<line x1="435.46" y1="522.60" x2="435.46" y2="523.90" stroke="#333" stroke-width="0.7" />
<line x1="331.90" y1="440.40" x2="335.60" y2="440.40" stroke="#333" stroke-width="0.9" />
<line x1="334.10" y1="461.23" x2="335.30" y2="461.23" stroke="#333" stroke-width="0.6" />
<line x1="334.10" y1="455.98" x2="335.30" y2="455.98" stroke="#333" stroke-width="0.6" />
<line x1="334.10" y1="452.26" x2="335.30" y2="452.26" stroke="#333" stroke-width="0.6" />
<line x1="334.10" y1="449.37" x2="335.30" y2="449.37" stroke="#333" stroke-width="0.6" />
<line x1="334.10" y1="447.01" x2="335.30" y2="447.01" stroke="#333" stroke-width="0.6" />
<line x1="334.10" y1="445.02" x2="335.30" y2="445.02" stroke="#333" stroke-width="0.6" />
<line x1="334.10" y1="443.29" x2="335.30" y2="443.29" stroke="#333" stroke-width="0.6" />
<line x1="334.10" y1="441.76" x2="335.30" y2="441.76" stroke="#333" stroke-width="0.6" />
<line x1="331.90" y1="470.20" x2="335.60" y2="470.20" stroke="#333" stroke-width="0.9" />
<line x1="334.10" y1="491.03" x2="335.30" y2="491.03" stroke="#333" stroke-width="0.6" />
<line x1="334.10" y1="485.78" x2="335.30" y2="485.78" stroke="#333" stroke-width="0.6" />
<line x1="334.10" y1="482.06" x2="335.30" y2="482.06" stroke="#333" stroke-width="0.6" />
<line x1="334.10" y1="479.17" x2="335.30" y2="479.17" stroke="#333" stroke-width="0.6" />
<line x1="334.10" y1="476.81" x2="335.30" y2="476.81" stroke="#333" stroke-width="0.6" />
<line x1="334.10" y1="474.82" x2="335.30" y2="474.82" stroke="#333" stroke-width="0.6" />
<line x1="334.10" y1="473.09" x2="335.30" y2="473.09" stroke="#333" stroke-width="0.6" />
<line x1="334.10" y1="471.56" x2="335.30" y2="471.56" stroke="#333" stroke-width="0.6" />
<line x1="331.90" y1="500.00" x2="335.60" y2="500.00" stroke="#333" stroke-width="0.9" />
<line x1="334.10" y1="515.58" x2="335.30" y2="515.58" stroke="#333" stroke-width="0.6" />
<line x1="334.10" y1="511.86" x2="335.30" y2="511.86" stroke="#333" stroke-width="0.6" />
<line x1="334.10" y1="508.97" x2="335.30" y2="508.97" stroke="#333" stroke-width="0.6" />
<line x1="334.10" y1="506.61" x2="335.30" y2="506.61" stroke="#333" stroke-width="0.6" />
<line x1="334.10" y1="504.62" x2="335.30" y2="504.62" stroke="#333" stroke-width="0.6" />
<line x1="334.10" y1="502.89" x2="335.30" y2="502.89" stroke="#333" stroke-width="0.6" />
<line x1="334.10" y1="501.36" x2="335.30" y2="501.36" stroke="#333" stroke-width="0.6" />
<line x1="331.90" y1="527.00" x2="335.60" y2="527.00" stroke="#333" stroke-width="0.9" />
<line x1="334.10" y1="536.17" x2="335.30" y2="536.17" stroke="#333" stroke-width="0.6" />
<line x1="331.90" y1="545.35" x2="335.60" y2="545.35" stroke="#333" stroke-width="0.9" />
<line x1="334.10" y1="554.52" x2="335.30" y2="554.52" stroke="#333" stroke-width="0.6" />
<line x1="331.90" y1="563.70" x2="335.60" y2="563.70" stroke="#333" stroke-width="0.9" />
<line x1="334.10" y1="572.87" x2="335.30" y2="572.87" stroke="#333" stroke-width="0.6" />
<line x1="331.90" y1="582.05" x2="335.60" y2="582.05" stroke="#333" stroke-width="0.9" />
<line x1="334.10" y1="591.22" x2="335.30" y2="591.22" stroke="#333" stroke-width="0.6" />
<line x1="331.90" y1="600.40" x2="335.60" y2="600.40" stroke="#333" stroke-width="0.9" />
<text x="342.80" y="617.60" font-size="11.8" text-anchor="middle" fill="#000" >1</text>
<text x="354.66" y="617.60" font-size="11.8" text-anchor="middle" fill="#000" >2</text>
<text x="370.74" y="617.60" font-size="11.8" text-anchor="middle" fill="#000" >5</text>
<text x="395.06" y="617.60" font-size="11.8" text-anchor="middle" fill="#000" >20</text>
<text x="411.14" y="617.60" font-size="11.8" text-anchor="middle" fill="#000" >50</text>
<text x="435.46" y="617.60" font-size="11.8" text-anchor="middle" fill="#000" >200</text>
<path d="M342.50,459.00 L354.66,458.00 L370.74,460.00 L382.90,461.00 L395.06,457.00 L411.14,455.00 L423.30,458.00 L435.46,457.00" fill="none" stroke="#888" stroke-width="0.7"/>
<line x1="342.50" y1="454.00" x2="342.50" y2="465.00" stroke="#999" stroke-width="0.7" />
<line x1="341.00" y1="454.00" x2="344.00" y2="454.00" stroke="#999" stroke-width="0.7" />
<line x1="341.00" y1="465.00" x2="344.00" y2="465.00" stroke="#999" stroke-width="0.7" />
<rect x="340.10" y="456.60" width="4.8" height="4.8" fill="#fff" fill-opacity="0.6" stroke="#707070" stroke-width="0.8"/>
<line x1="354.66" y1="453.00" x2="354.66" y2="464.00" stroke="#999" stroke-width="0.7" />
<line x1="353.16" y1="453.00" x2="356.16" y2="453.00" stroke="#999" stroke-width="0.7" />
<line x1="353.16" y1="464.00" x2="356.16" y2="464.00" stroke="#999" stroke-width="0.7" />
<rect x="352.26" y="455.60" width="4.8" height="4.8" fill="#fff" fill-opacity="0.6" stroke="#707070" stroke-width="0.8"/>
<line x1="370.74" y1="455.00" x2="370.74" y2="466.00" stroke="#999" stroke-width="0.7" />
<line x1="369.24" y1="455.00" x2="372.24" y2="455.00" stroke="#999" stroke-width="0.7" />
<line x1="369.24" y1="466.00" x2="372.24" y2="466.00" stroke="#999" stroke-width="0.7" />
<rect x="368.34" y="457.60" width="4.8" height="4.8" fill="#fff" fill-opacity="0.6" stroke="#707070" stroke-width="0.8"/>
<line x1="382.90" y1="456.00" x2="382.90" y2="467.00" stroke="#999" stroke-width="0.7" />
<line x1="381.40" y1="456.00" x2="384.40" y2="456.00" stroke="#999" stroke-width="0.7" />
<line x1="381.40" y1="467.00" x2="384.40" y2="467.00" stroke="#999" stroke-width="0.7" />
<rect x="380.50" y="458.60" width="4.8" height="4.8" fill="#fff" fill-opacity="0.6" stroke="#707070" stroke-width="0.8"/>
<line x1="395.06" y1="452.00" x2="395.06" y2="463.00" stroke="#999" stroke-width="0.7" />
<line x1="393.56" y1="452.00" x2="396.56" y2="452.00" stroke="#999" stroke-width="0.7" />
<line x1="393.56" y1="463.00" x2="396.56" y2="463.00" stroke="#999" stroke-width="0.7" />
<rect x="392.66" y="454.60" width="4.8" height="4.8" fill="#fff" fill-opacity="0.6" stroke="#707070" stroke-width="0.8"/>
<line x1="411.14" y1="450.00" x2="411.14" y2="461.00" stroke="#999" stroke-width="0.7" />
<line x1="409.64" y1="450.00" x2="412.64" y2="450.00" stroke="#999" stroke-width="0.7" />
<line x1="409.64" y1="461.00" x2="412.64" y2="461.00" stroke="#999" stroke-width="0.7" />
<rect x="408.74" y="452.60" width="4.8" height="4.8" fill="#fff" fill-opacity="0.6" stroke="#707070" stroke-width="0.8"/>
<line x1="423.30" y1="453.00" x2="423.30" y2="464.00" stroke="#999" stroke-width="0.7" />
<line x1="421.80" y1="453.00" x2="424.80" y2="453.00" stroke="#999" stroke-width="0.7" />
<line x1="421.80" y1="464.00" x2="424.80" y2="464.00" stroke="#999" stroke-width="0.7" />
<rect x="420.90" y="455.60" width="4.8" height="4.8" fill="#fff" fill-opacity="0.6" stroke="#707070" stroke-width="0.8"/>
<line x1="435.46" y1="452.00" x2="435.46" y2="463.00" stroke="#999" stroke-width="0.7" />
<line x1="433.96" y1="452.00" x2="436.96" y2="452.00" stroke="#999" stroke-width="0.7" />
<line x1="433.96" y1="463.00" x2="436.96" y2="463.00" stroke="#999" stroke-width="0.7" />
<rect x="433.06" y="454.60" width="4.8" height="4.8" fill="#fff" fill-opacity="0.6" stroke="#707070" stroke-width="0.8"/>
<path d="M342.50,457.00 L354.66,455.00 L370.74,464.00 L382.90,458.00 L395.06,454.00 L411.14,460.00 L423.30,465.00 L435.46,463.00" fill="none" stroke="#888" stroke-width="0.7"/>
<line x1="342.50" y1="452.00" x2="342.50" y2="463.00" stroke="#999" stroke-width="0.7" />
<line x1="341.00" y1="452.00" x2="344.00" y2="452.00" stroke="#999" stroke-width="0.7" />
<line x1="341.00" y1="463.00" x2="344.00" y2="463.00" stroke="#999" stroke-width="0.7" />
<rect x="340.10" y="454.60" width="4.8" height="4.8" fill="#505050"/>
<line x1="354.66" y1="450.00" x2="354.66" y2="461.00" stroke="#999" stroke-width="0.7" />
<line x1="353.16" y1="450.00" x2="356.16" y2="450.00" stroke="#999" stroke-width="0.7" />
<line x1="353.16" y1="461.00" x2="356.16" y2="461.00" stroke="#999" stroke-width="0.7" />
<rect x="352.26" y="452.60" width="4.8" height="4.8" fill="#505050"/>
<line x1="370.74" y1="459.00" x2="370.74" y2="470.00" stroke="#999" stroke-width="0.7" />
<line x1="369.24" y1="459.00" x2="372.24" y2="459.00" stroke="#999" stroke-width="0.7" />
<line x1="369.24" y1="470.00" x2="372.24" y2="470.00" stroke="#999" stroke-width="0.7" />
<rect x="368.34" y="461.60" width="4.8" height="4.8" fill="#505050"/>
<line x1="382.90" y1="453.00" x2="382.90" y2="464.00" stroke="#999" stroke-width="0.7" />
<line x1="381.40" y1="453.00" x2="384.40" y2="453.00" stroke="#999" stroke-width="0.7" />
<line x1="381.40" y1="464.00" x2="384.40" y2="464.00" stroke="#999" stroke-width="0.7" />
<rect x="380.50" y="455.60" width="4.8" height="4.8" fill="#505050"/>
<line x1="395.06" y1="449.00" x2="395.06" y2="460.00" stroke="#999" stroke-width="0.7" />
<line x1="393.56" y1="449.00" x2="396.56" y2="449.00" stroke="#999" stroke-width="0.7" />
<line x1="393.56" y1="460.00" x2="396.56" y2="460.00" stroke="#999" stroke-width="0.7" />
<rect x="392.66" y="451.60" width="4.8" height="4.8" fill="#505050"/>
<line x1="411.14" y1="455.00" x2="411.14" y2="466.00" stroke="#999" stroke-width="0.7" />
<line x1="409.64" y1="455.00" x2="412.64" y2="455.00" stroke="#999" stroke-width="0.7" />
<line x1="409.64" y1="466.00" x2="412.64" y2="466.00" stroke="#999" stroke-width="0.7" />
<rect x="408.74" y="457.60" width="4.8" height="4.8" fill="#505050"/>
<line x1="423.30" y1="460.00" x2="423.30" y2="471.00" stroke="#999" stroke-width="0.7" />
<line x1="421.80" y1="460.00" x2="424.80" y2="460.00" stroke="#999" stroke-width="0.7" />
<line x1="421.80" y1="471.00" x2="424.80" y2="471.00" stroke="#999" stroke-width="0.7" />
<rect x="420.90" y="462.60" width="4.8" height="4.8" fill="#505050"/>
<line x1="435.46" y1="458.00" x2="435.46" y2="469.00" stroke="#999" stroke-width="0.7" />
<line x1="433.96" y1="458.00" x2="436.96" y2="458.00" stroke="#999" stroke-width="0.7" />
<line x1="433.96" y1="469.00" x2="436.96" y2="469.00" stroke="#999" stroke-width="0.7" />
<rect x="433.06" y="460.60" width="4.8" height="4.8" fill="#505050"/>
<path d="M342.50,534.90 L354.66,537.80 L370.74,534.90 L382.90,535.90 L395.06,537.40 L411.14,534.00 L423.30,542.00 L435.46,533.60" fill="none" stroke="#f06060" stroke-width="0.7"/>
<circle cx="342.50" cy="534.90" r="2.9" fill="#ee3a3a"/>
<circle cx="354.66" cy="537.80" r="2.9" fill="#ee3a3a"/>
<circle cx="370.74" cy="534.90" r="2.9" fill="#ee3a3a"/>
<circle cx="382.90" cy="535.90" r="2.9" fill="#ee3a3a"/>
<circle cx="395.06" cy="537.40" r="2.9" fill="#ee3a3a"/>
<circle cx="411.14" cy="534.00" r="2.9" fill="#ee3a3a"/>
<circle cx="423.30" cy="542.00" r="2.9" fill="#ee3a3a"/>
<circle cx="435.46" cy="533.60" r="2.9" fill="#ee3a3a"/>
<path d="M342.50,536.80 L354.66,537.80 L370.74,536.30 L382.90,538.70 L395.06,537.40 L411.14,536.30 L423.30,536.80 L435.46,536.30" fill="none" stroke="#f06060" stroke-width="0.7"/>
<circle cx="342.50" cy="536.80" r="2.7" fill="#fff" fill-opacity="0.5" stroke="#ee3a3a" stroke-width="0.8"/>
<circle cx="354.66" cy="537.80" r="2.7" fill="#fff" fill-opacity="0.5" stroke="#ee3a3a" stroke-width="0.8"/>
<circle cx="370.74" cy="536.30" r="2.7" fill="#fff" fill-opacity="0.5" stroke="#ee3a3a" stroke-width="0.8"/>
<circle cx="382.90" cy="538.70" r="2.7" fill="#fff" fill-opacity="0.5" stroke="#ee3a3a" stroke-width="0.8"/>
<circle cx="395.06" cy="537.40" r="2.7" fill="#fff" fill-opacity="0.5" stroke="#ee3a3a" stroke-width="0.8"/>
<circle cx="411.14" cy="536.30" r="2.7" fill="#fff" fill-opacity="0.5" stroke="#ee3a3a" stroke-width="0.8"/>
<circle cx="423.30" cy="536.80" r="2.7" fill="#fff" fill-opacity="0.5" stroke="#ee3a3a" stroke-width="0.8"/>
<circle cx="435.46" cy="536.30" r="2.7" fill="#fff" fill-opacity="0.5" stroke="#ee3a3a" stroke-width="0.8"/>
<rect x="293.60" y="474.40" width="8.8" height="13.6" fill="#000"/>
<rect x="305.00" y="474.40" width="8.8" height="13.6" fill="#000"/>
<text x="298.00" y="485.34" font-size="11.5" fill="#fff" text-anchor="middle">S</text>
<text x="309.40" y="485.34" font-size="11.5" fill="#fff" text-anchor="middle">D</text>
<line x1="284.30" y1="481.20" x2="291.90" y2="481.20" stroke="#000" stroke-width="1.15"/>
<path d="M281.30,481.20 L287.10,478.10 L287.10,484.30 Z" fill="#000"/>
<line x1="315.50" y1="481.20" x2="323.10" y2="481.20" stroke="#000" stroke-width="1.15"/>
<path d="M326.10,481.20 L320.30,478.10 L320.30,484.30 Z" fill="#000"/>
<rect x="413.00" y="488.20" width="9.3" height="13.6" fill="#000"/>
<rect x="423.50" y="488.20" width="9.3" height="13.6" fill="#000"/>
<text x="417.65" y="499.14" font-size="11.5" fill="#fff" text-anchor="middle">S</text>
<text x="428.15" y="499.14" font-size="11.5" fill="#fff" text-anchor="middle">D</text>
<line x1="422.90" y1="486.50" x2="422.90" y2="478.70" stroke="#000" stroke-width="1.15"/>
<path d="M422.90,475.70 L419.80,481.50 L426.00,481.50 Z" fill="#000"/>
<line x1="422.90" y1="503.50" x2="422.90" y2="511.30" stroke="#000" stroke-width="1.15"/>
<path d="M422.90,514.30 L419.80,508.50 L426.00,508.50 Z" fill="#000"/>
<line x1="225.00" y1="498.70" x2="242.70" y2="498.70" stroke="#aaa" stroke-width="0.8" />
<rect x="230.70" y="495.90" width="5.6" height="5.6" fill="#555"/>
<text x="248.60" y="503.00" font-size="12" text-anchor="start" fill="#000" >Released</text>
<line x1="225.00" y1="513.50" x2="242.70" y2="513.50" stroke="#aaa" stroke-width="0.8" />
<rect x="230.80" y="510.80" width="5.4" height="5.4" fill="#fff" stroke="#777" stroke-width="0.8"/>
<text x="248.60" y="517.80" font-size="12" text-anchor="start" fill="#000" >Stretched</text>
<line x1="225.00" y1="580.80" x2="242.70" y2="580.80" stroke="#f08080" stroke-width="0.8" />
<circle cx="233.5" cy="580.8" r="3.1" fill="#ee3a3a"/>
<text x="249.20" y="585.10" font-size="12" text-anchor="start" fill="#000" >Released</text>
<line x1="225.00" y1="597.00" x2="242.70" y2="597.00" stroke="#f08080" stroke-width="0.8" />
<circle cx="233.5" cy="597.0" r="2.9" fill="#fff" stroke="#ee3a3a" stroke-width="0.8"/>
<text x="249.20" y="601.30" font-size="12" text-anchor="start" fill="#000" >Stretched</text>
<text transform="translate(185.8,478.8) rotate(-90)" font-size="12" text-anchor="middle"><tspan font-style="italic">I</tspan><tspan font-size="8.5" dy="2.5">ON</tspan><tspan dy="-2.5"> (A)</tspan></text>
<text transform="translate(190.3,563.5) rotate(-90)" font-size="12" text-anchor="middle">On/off Ratio</text>
<text x="325.10" y="631.40" font-size="11.5" text-anchor="middle" fill="#000" ># of Stretching Cycles</text>
<ellipse cx="541.2" cy="461.4" rx="37.7" ry="17.4" transform="rotate(-18 541.2 461.4)" fill="#27a560" fill-opacity="0.28"/>
<ellipse cx="585.8" cy="509.8" rx="57.3" ry="23.6" transform="rotate(-17 585.8 509.8)" fill="#3a7ae6" fill-opacity="0.35"/>
<path d="M560.50,495.30 L564.20,501.80 L556.80,501.80 Z" fill="#2168d8"/>
<path d="M541.30,506.00 L545.00,512.50 L537.60,512.50 Z" fill="#2168d8"/>
<path d="M540.90,510.80 L544.60,517.30 L537.20,517.30 Z" fill="#2168d8"/>
<path d="M540.90,527.30 L544.60,533.80 L537.20,533.80 Z" fill="#2168d8"/>
<path d="M569.70,513.20 L573.40,519.70 L566.00,519.70 Z" fill="#2168d8"/>
<path d="M570.40,515.90 L574.10,522.40 L566.70,522.40 Z" fill="#2168d8"/>
<path d="M578.00,515.60 L581.70,522.10 L574.30,522.10 Z" fill="#2168d8"/>
<path d="M591.70,499.10 L595.40,505.60 L588.00,505.60 Z" fill="#2168d8"/>
<path d="M606.10,491.90 L609.80,498.40 L602.40,498.40 Z" fill="#2168d8"/>
<path d="M606.10,495.70 L609.80,502.20 L602.40,502.20 Z" fill="#2168d8"/>
<path d="M631.80,485.10 L635.50,491.60 L628.10,491.60 Z" fill="#2168d8"/>
<ellipse cx="560.8" cy="550.6" rx="60" ry="45.9" transform="rotate(27 560.8 550.6)" fill="#f28a3a" fill-opacity="0.36"/>
<rect x="506.20" y="530.80" width="5.6" height="5.6" fill="#f0822a"/>
<rect x="538.50" y="504.70" width="5.6" height="5.6" fill="#f0822a"/>
<rect x="561.80" y="533.80" width="5.6" height="5.6" fill="#c08060"/>
<rect x="553.20" y="543.40" width="5.6" height="5.6" fill="#f0822a"/>
<rect x="566.20" y="553.10" width="5.6" height="5.6" fill="#f0822a"/>
<rect x="581.00" y="564.70" width="5.6" height="5.6" fill="#f0822a"/>
<rect x="591.30" y="581.50" width="5.6" height="5.6" fill="#f0822a"/>
<rect x="600.90" y="578.10" width="5.6" height="5.6" fill="#f0822a"/>
<rect x="603.60" y="534.20" width="5.6" height="5.6" fill="#f0822a"/>
<rect x="577.20" y="593.50" width="5.6" height="5.6" fill="#f0822a"/>
<circle cx="536.1" cy="447.4" r="3.3" fill="#2ea85c"/>
<circle cx="573.5" cy="452.9" r="3.3" fill="#2ea85c"/>
<circle cx="512.1" cy="475.6" r="3.3" fill="#2ea85c"/>
<circle cx="540.9" cy="473.9" r="3.3" fill="#2ea85c"/>
<path d="M643.30,464.00 L644.65,467.74 L648.63,467.87 L645.49,470.31 L646.59,474.13 L643.30,471.90 L640.01,474.13 L641.11,470.31 L637.97,467.87 L641.95,467.74 Z" fill="#ef3b4b"/>
<rect x="498.20" y="440.50" width="160.20" height="163.10" fill="none" stroke="#a8a8a8" stroke-width="1.2" />
<line x1="498.20" y1="440.50" x2="498.20" y2="603.60" stroke="#555" stroke-width="1" />
<line x1="498.20" y1="603.60" x2="658.40" y2="603.60" stroke="#555" stroke-width="1" />
<line x1="500.26" y1="603.60" x2="500.26" y2="602.30" stroke="#333" stroke-width="0.7" />
<line x1="500.26" y1="440.50" x2="500.26" y2="441.80" stroke="#333" stroke-width="0.6" />
<line x1="502.79" y1="603.60" x2="502.79" y2="602.30" stroke="#333" stroke-width="0.7" />
<line x1="502.79" y1="440.50" x2="502.79" y2="441.80" stroke="#333" stroke-width="0.6" />
<line x1="504.94" y1="603.60" x2="504.94" y2="602.30" stroke="#333" stroke-width="0.7" />
<line x1="504.94" y1="440.50" x2="504.94" y2="441.80" stroke="#333" stroke-width="0.6" />
<line x1="506.80" y1="603.60" x2="506.80" y2="602.30" stroke="#333" stroke-width="0.7" />
<line x1="506.80" y1="440.50" x2="506.80" y2="441.80" stroke="#333" stroke-width="0.6" />
<line x1="508.43" y1="603.60" x2="508.43" y2="602.30" stroke="#333" stroke-width="0.7" />
<line x1="508.43" y1="440.50" x2="508.43" y2="441.80" stroke="#333" stroke-width="0.6" />
<line x1="509.90" y1="603.60" x2="509.90" y2="606.00" stroke="#333" stroke-width="0.7" />
<line x1="509.90" y1="440.50" x2="509.90" y2="442.90" stroke="#333" stroke-width="0.6" />
<line x1="519.54" y1="603.60" x2="519.54" y2="602.30" stroke="#333" stroke-width="0.7" />
<line x1="519.54" y1="440.50" x2="519.54" y2="441.80" stroke="#333" stroke-width="0.6" />
<line x1="525.18" y1="603.60" x2="525.18" y2="602.30" stroke="#333" stroke-width="0.7" />
<line x1="525.18" y1="440.50" x2="525.18" y2="441.80" stroke="#333" stroke-width="0.6" />
<line x1="529.18" y1="603.60" x2="529.18" y2="602.30" stroke="#333" stroke-width="0.7" />
<line x1="529.18" y1="440.50" x2="529.18" y2="441.80" stroke="#333" stroke-width="0.6" />
<line x1="532.29" y1="603.60" x2="532.29" y2="602.30" stroke="#333" stroke-width="0.7" />
<line x1="532.29" y1="440.50" x2="532.29" y2="441.80" stroke="#333" stroke-width="0.6" />
<line x1="534.82" y1="603.60" x2="534.82" y2="602.30" stroke="#333" stroke-width="0.7" />
<line x1="534.82" y1="440.50" x2="534.82" y2="441.80" stroke="#333" stroke-width="0.6" />
<line x1="536.97" y1="603.60" x2="536.97" y2="602.30" stroke="#333" stroke-width="0.7" />
<line x1="536.97" y1="440.50" x2="536.97" y2="441.80" stroke="#333" stroke-width="0.6" />
<line x1="538.83" y1="603.60" x2="538.83" y2="602.30" stroke="#333" stroke-width="0.7" />
<line x1="538.83" y1="440.50" x2="538.83" y2="441.80" stroke="#333" stroke-width="0.6" />
<line x1="540.46" y1="603.60" x2="540.46" y2="602.30" stroke="#333" stroke-width="0.7" />
<line x1="540.46" y1="440.50" x2="540.46" y2="441.80" stroke="#333" stroke-width="0.6" />
<line x1="541.93" y1="603.60" x2="541.93" y2="606.00" stroke="#333" stroke-width="0.7" />
<line x1="541.93" y1="440.50" x2="541.93" y2="442.90" stroke="#333" stroke-width="0.6" />
<line x1="551.57" y1="603.60" x2="551.57" y2="602.30" stroke="#333" stroke-width="0.7" />
<line x1="551.57" y1="440.50" x2="551.57" y2="441.80" stroke="#333" stroke-width="0.6" />
<line x1="557.21" y1="603.60" x2="557.21" y2="602.30" stroke="#333" stroke-width="0.7" />
<line x1="557.21" y1="440.50" x2="557.21" y2="441.80" stroke="#333" stroke-width="0.6" />
<line x1="561.21" y1="603.60" x2="561.21" y2="602.30" stroke="#333" stroke-width="0.7" />
<line x1="561.21" y1="440.50" x2="561.21" y2="441.80" stroke="#333" stroke-width="0.6" />
<line x1="564.32" y1="603.60" x2="564.32" y2="602.30" stroke="#333" stroke-width="0.7" />
<line x1="564.32" y1="440.50" x2="564.32" y2="441.80" stroke="#333" stroke-width="0.6" />
<line x1="566.85" y1="603.60" x2="566.85" y2="602.30" stroke="#333" stroke-width="0.7" />
<line x1="566.85" y1="440.50" x2="566.85" y2="441.80" stroke="#333" stroke-width="0.6" />
<line x1="569.00" y1="603.60" x2="569.00" y2="602.30" stroke="#333" stroke-width="0.7" />
<line x1="569.00" y1="440.50" x2="569.00" y2="441.80" stroke="#333" stroke-width="0.6" />
<line x1="570.86" y1="603.60" x2="570.86" y2="602.30" stroke="#333" stroke-width="0.7" />
<line x1="570.86" y1="440.50" x2="570.86" y2="441.80" stroke="#333" stroke-width="0.6" />
<line x1="572.49" y1="603.60" x2="572.49" y2="602.30" stroke="#333" stroke-width="0.7" />
<line x1="572.49" y1="440.50" x2="572.49" y2="441.80" stroke="#333" stroke-width="0.6" />
<line x1="573.96" y1="603.60" x2="573.96" y2="606.00" stroke="#333" stroke-width="0.7" />
<line x1="573.96" y1="440.50" x2="573.96" y2="442.90" stroke="#333" stroke-width="0.6" />
<line x1="583.60" y1="603.60" x2="583.60" y2="602.30" stroke="#333" stroke-width="0.7" />
<line x1="583.60" y1="440.50" x2="583.60" y2="441.80" stroke="#333" stroke-width="0.6" />
<line x1="589.24" y1="603.60" x2="589.24" y2="602.30" stroke="#333" stroke-width="0.7" />
<line x1="589.24" y1="440.50" x2="589.24" y2="441.80" stroke="#333" stroke-width="0.6" />
<line x1="593.24" y1="603.60" x2="593.24" y2="602.30" stroke="#333" stroke-width="0.7" />
<line x1="593.24" y1="440.50" x2="593.24" y2="441.80" stroke="#333" stroke-width="0.6" />
<line x1="596.35" y1="603.60" x2="596.35" y2="602.30" stroke="#333" stroke-width="0.7" />
<line x1="596.35" y1="440.50" x2="596.35" y2="441.80" stroke="#333" stroke-width="0.6" />
<line x1="598.88" y1="603.60" x2="598.88" y2="602.30" stroke="#333" stroke-width="0.7" />
<line x1="598.88" y1="440.50" x2="598.88" y2="441.80" stroke="#333" stroke-width="0.6" />
<line x1="601.03" y1="603.60" x2="601.03" y2="602.30" stroke="#333" stroke-width="0.7" />
<line x1="601.03" y1="440.50" x2="601.03" y2="441.80" stroke="#333" stroke-width="0.6" />
<line x1="602.89" y1="603.60" x2="602.89" y2="602.30" stroke="#333" stroke-width="0.7" />
<line x1="602.89" y1="440.50" x2="602.89" y2="441.80" stroke="#333" stroke-width="0.6" />
<line x1="604.52" y1="603.60" x2="604.52" y2="602.30" stroke="#333" stroke-width="0.7" />
<line x1="604.52" y1="440.50" x2="604.52" y2="441.80" stroke="#333" stroke-width="0.6" />
<line x1="605.99" y1="603.60" x2="605.99" y2="606.00" stroke="#333" stroke-width="0.7" />
<line x1="605.99" y1="440.50" x2="605.99" y2="442.90" stroke="#333" stroke-width="0.6" />
<line x1="615.63" y1="603.60" x2="615.63" y2="602.30" stroke="#333" stroke-width="0.7" />
<line x1="615.63" y1="440.50" x2="615.63" y2="441.80" stroke="#333" stroke-width="0.6" />
<line x1="621.27" y1="603.60" x2="621.27" y2="602.30" stroke="#333" stroke-width="0.7" />
<line x1="621.27" y1="440.50" x2="621.27" y2="441.80" stroke="#333" stroke-width="0.6" />
<line x1="625.27" y1="603.60" x2="625.27" y2="602.30" stroke="#333" stroke-width="0.7" />
<line x1="625.27" y1="440.50" x2="625.27" y2="441.80" stroke="#333" stroke-width="0.6" />
<line x1="628.38" y1="603.60" x2="628.38" y2="602.30" stroke="#333" stroke-width="0.7" />
<line x1="628.38" y1="440.50" x2="628.38" y2="441.80" stroke="#333" stroke-width="0.6" />
<line x1="630.91" y1="603.60" x2="630.91" y2="602.30" stroke="#333" stroke-width="0.7" />
<line x1="630.91" y1="440.50" x2="630.91" y2="441.80" stroke="#333" stroke-width="0.6" />
<line x1="633.06" y1="603.60" x2="633.06" y2="602.30" stroke="#333" stroke-width="0.7" />
<line x1="633.06" y1="440.50" x2="633.06" y2="441.80" stroke="#333" stroke-width="0.6" />
<line x1="634.92" y1="603.60" x2="634.92" y2="602.30" stroke="#333" stroke-width="0.7" />
<line x1="634.92" y1="440.50" x2="634.92" y2="441.80" stroke="#333" stroke-width="0.6" />
<line x1="636.55" y1="603.60" x2="636.55" y2="602.30" stroke="#333" stroke-width="0.7" />
<line x1="636.55" y1="440.50" x2="636.55" y2="441.80" stroke="#333" stroke-width="0.6" />
<line x1="638.02" y1="603.60" x2="638.02" y2="606.00" stroke="#333" stroke-width="0.7" />
<line x1="638.02" y1="440.50" x2="638.02" y2="442.90" stroke="#333" stroke-width="0.6" />
<line x1="647.66" y1="603.60" x2="647.66" y2="602.30" stroke="#333" stroke-width="0.7" />
<line x1="647.66" y1="440.50" x2="647.66" y2="441.80" stroke="#333" stroke-width="0.6" />
<line x1="653.30" y1="603.60" x2="653.30" y2="602.30" stroke="#333" stroke-width="0.7" />
<line x1="653.30" y1="440.50" x2="653.30" y2="441.80" stroke="#333" stroke-width="0.6" />
<line x1="657.30" y1="603.60" x2="657.30" y2="602.30" stroke="#333" stroke-width="0.7" />
<line x1="657.30" y1="440.50" x2="657.30" y2="441.80" stroke="#333" stroke-width="0.6" />
<line x1="498.20" y1="603.25" x2="499.50" y2="603.25" stroke="#333" stroke-width="0.7" />
<line x1="658.40" y1="603.25" x2="657.10" y2="603.25" stroke="#333" stroke-width="0.6" />
<line x1="498.20" y1="599.95" x2="499.50" y2="599.95" stroke="#333" stroke-width="0.7" />
<line x1="658.40" y1="599.95" x2="657.10" y2="599.95" stroke="#333" stroke-width="0.6" />
<line x1="498.20" y1="597.16" x2="499.50" y2="597.16" stroke="#333" stroke-width="0.7" />
<line x1="658.40" y1="597.16" x2="657.10" y2="597.16" stroke="#333" stroke-width="0.6" />
<line x1="498.20" y1="594.74" x2="499.50" y2="594.74" stroke="#333" stroke-width="0.7" />
<line x1="658.40" y1="594.74" x2="657.10" y2="594.74" stroke="#333" stroke-width="0.6" />
<line x1="498.20" y1="592.61" x2="499.50" y2="592.61" stroke="#333" stroke-width="0.7" />
<line x1="658.40" y1="592.61" x2="657.10" y2="592.61" stroke="#333" stroke-width="0.6" />
<line x1="495.80" y1="590.70" x2="498.20" y2="590.70" stroke="#333" stroke-width="0.7" />
<line x1="658.40" y1="590.70" x2="656.00" y2="590.70" stroke="#333" stroke-width="0.6" />
<line x1="498.20" y1="578.15" x2="499.50" y2="578.15" stroke="#333" stroke-width="0.7" />
<line x1="658.40" y1="578.15" x2="657.10" y2="578.15" stroke="#333" stroke-width="0.6" />
<line x1="498.20" y1="570.80" x2="499.50" y2="570.80" stroke="#333" stroke-width="0.7" />
<line x1="658.40" y1="570.80" x2="657.10" y2="570.80" stroke="#333" stroke-width="0.6" />
<line x1="498.20" y1="565.59" x2="499.50" y2="565.59" stroke="#333" stroke-width="0.7" />
<line x1="658.40" y1="565.59" x2="657.10" y2="565.59" stroke="#333" stroke-width="0.6" />
<line x1="498.20" y1="561.55" x2="499.50" y2="561.55" stroke="#333" stroke-width="0.7" />
<line x1="658.40" y1="561.55" x2="657.10" y2="561.55" stroke="#333" stroke-width="0.6" />
<line x1="498.20" y1="558.25" x2="499.50" y2="558.25" stroke="#333" stroke-width="0.7" />
<line x1="658.40" y1="558.25" x2="657.10" y2="558.25" stroke="#333" stroke-width="0.6" />
<line x1="498.20" y1="555.46" x2="499.50" y2="555.46" stroke="#333" stroke-width="0.7" />
<line x1="658.40" y1="555.46" x2="657.10" y2="555.46" stroke="#333" stroke-width="0.6" />
<line x1="498.20" y1="553.04" x2="499.50" y2="553.04" stroke="#333" stroke-width="0.7" />
<line x1="658.40" y1="553.04" x2="657.10" y2="553.04" stroke="#333" stroke-width="0.6" />
<line x1="498.20" y1="550.91" x2="499.50" y2="550.91" stroke="#333" stroke-width="0.7" />
<line x1="658.40" y1="550.91" x2="657.10" y2="550.91" stroke="#333" stroke-width="0.6" />
<line x1="495.80" y1="549.00" x2="498.20" y2="549.00" stroke="#333" stroke-width="0.7" />
<line x1="658.40" y1="549.00" x2="656.00" y2="549.00" stroke="#333" stroke-width="0.6" />
<line x1="498.20" y1="536.45" x2="499.50" y2="536.45" stroke="#333" stroke-width="0.7" />
<line x1="658.40" y1="536.45" x2="657.10" y2="536.45" stroke="#333" stroke-width="0.6" />
<line x1="498.20" y1="529.10" x2="499.50" y2="529.10" stroke="#333" stroke-width="0.7" />
<line x1="658.40" y1="529.10" x2="657.10" y2="529.10" stroke="#333" stroke-width="0.6" />
<line x1="498.20" y1="523.89" x2="499.50" y2="523.89" stroke="#333" stroke-width="0.7" />
<line x1="658.40" y1="523.89" x2="657.10" y2="523.89" stroke="#333" stroke-width="0.6" />
<line x1="498.20" y1="519.85" x2="499.50" y2="519.85" stroke="#333" stroke-width="0.7" />
<line x1="658.40" y1="519.85" x2="657.10" y2="519.85" stroke="#333" stroke-width="0.6" />
<line x1="498.20" y1="516.55" x2="499.50" y2="516.55" stroke="#333" stroke-width="0.7" />
<line x1="658.40" y1="516.55" x2="657.10" y2="516.55" stroke="#333" stroke-width="0.6" />
<line x1="498.20" y1="513.76" x2="499.50" y2="513.76" stroke="#333" stroke-width="0.7" />
<line x1="658.40" y1="513.76" x2="657.10" y2="513.76" stroke="#333" stroke-width="0.6" />
<line x1="498.20" y1="511.34" x2="499.50" y2="511.34" stroke="#333" stroke-width="0.7" />
<line x1="658.40" y1="511.34" x2="657.10" y2="511.34" stroke="#333" stroke-width="0.6" />
<line x1="498.20" y1="509.21" x2="499.50" y2="509.21" stroke="#333" stroke-width="0.7" />
<line x1="658.40" y1="509.21" x2="657.10" y2="509.21" stroke="#333" stroke-width="0.6" />
<line x1="495.80" y1="507.30" x2="498.20" y2="507.30" stroke="#333" stroke-width="0.7" />
<line x1="658.40" y1="507.30" x2="656.00" y2="507.30" stroke="#333" stroke-width="0.6" />
<line x1="498.20" y1="494.75" x2="499.50" y2="494.75" stroke="#333" stroke-width="0.7" />
<line x1="658.40" y1="494.75" x2="657.10" y2="494.75" stroke="#333" stroke-width="0.6" />
<line x1="498.20" y1="487.40" x2="499.50" y2="487.40" stroke="#333" stroke-width="0.7" />
<line x1="658.40" y1="487.40" x2="657.10" y2="487.40" stroke="#333" stroke-width="0.6" />
<line x1="498.20" y1="482.19" x2="499.50" y2="482.19" stroke="#333" stroke-width="0.7" />
<line x1="658.40" y1="482.19" x2="657.10" y2="482.19" stroke="#333" stroke-width="0.6" />
<line x1="498.20" y1="478.15" x2="499.50" y2="478.15" stroke="#333" stroke-width="0.7" />
<line x1="658.40" y1="478.15" x2="657.10" y2="478.15" stroke="#333" stroke-width="0.6" />
<line x1="498.20" y1="474.85" x2="499.50" y2="474.85" stroke="#333" stroke-width="0.7" />
<line x1="658.40" y1="474.85" x2="657.10" y2="474.85" stroke="#333" stroke-width="0.6" />
<line x1="498.20" y1="472.06" x2="499.50" y2="472.06" stroke="#333" stroke-width="0.7" />
<line x1="658.40" y1="472.06" x2="657.10" y2="472.06" stroke="#333" stroke-width="0.6" />
<line x1="498.20" y1="469.64" x2="499.50" y2="469.64" stroke="#333" stroke-width="0.7" />
<line x1="658.40" y1="469.64" x2="657.10" y2="469.64" stroke="#333" stroke-width="0.6" />
<line x1="498.20" y1="467.51" x2="499.50" y2="467.51" stroke="#333" stroke-width="0.7" />
<line x1="658.40" y1="467.51" x2="657.10" y2="467.51" stroke="#333" stroke-width="0.6" />
<line x1="495.80" y1="465.60" x2="498.20" y2="465.60" stroke="#333" stroke-width="0.7" />
<line x1="658.40" y1="465.60" x2="656.00" y2="465.60" stroke="#333" stroke-width="0.6" />
<line x1="498.20" y1="453.05" x2="499.50" y2="453.05" stroke="#333" stroke-width="0.7" />
<line x1="658.40" y1="453.05" x2="657.10" y2="453.05" stroke="#333" stroke-width="0.6" />
<line x1="498.20" y1="445.70" x2="499.50" y2="445.70" stroke="#333" stroke-width="0.7" />
<line x1="658.40" y1="445.70" x2="657.10" y2="445.70" stroke="#333" stroke-width="0.6" />
<text x="510.40" y="619.0" font-size="12.4" text-anchor="middle">10<tspan font-size="8.6" dy="-5.2">3</tspan></text>
<text x="542.43" y="619.0" font-size="12.4" text-anchor="middle">10<tspan font-size="8.6" dy="-5.2">4</tspan></text>
<text x="574.46" y="619.0" font-size="12.4" text-anchor="middle">10<tspan font-size="8.6" dy="-5.2">5</tspan></text>
<text x="606.49" y="619.0" font-size="12.4" text-anchor="middle">10<tspan font-size="8.6" dy="-5.2">6</tspan></text>
<text x="638.52" y="619.0" font-size="12.4" text-anchor="middle">10<tspan font-size="8.6" dy="-5.2">7</tspan></text>
<text x="496.60" y="470.60" font-size="12.4" text-anchor="end">10<tspan font-size="8.6" dy="-5.2">1</tspan></text>
<text x="496.60" y="512.30" font-size="12.4" text-anchor="end">10<tspan font-size="8.6" dy="-5.2">0</tspan></text>
<text x="496.60" y="554.00" font-size="12.4" text-anchor="end">10<tspan font-size="8.6" dy="-5.2">-1</tspan></text>
<text x="496.60" y="595.70" font-size="12.4" text-anchor="end">10<tspan font-size="8.6" dy="-5.2">-2</tspan></text>
<text x="579.30" y="633.00" font-size="12.4" text-anchor="middle" fill="#000" >On/off ratio</text>
<text transform="translate(470.0,521.5) rotate(-90)" font-size="12.7" text-anchor="middle"><tspan font-style="italic">μ</tspan><tspan font-size="8.5" dy="2.5">FET</tspan><tspan dy="-2.5"> (cm</tspan><tspan font-size="8.2" dy="-4">2</tspan><tspan dy="4">V</tspan><tspan font-size="8.2" dy="-4">-1</tspan><tspan dy="4">s</tspan><tspan font-size="8.2" dy="-4">-1</tspan><tspan dy="4">)</tspan></text>
<text x="501.6" y="493.8" font-size="10"><tspan fill="#27a560">SWCNT</tspan> (p)</text>
<text x="628.3" y="460.9" font-size="10"><tspan fill="#ee3a3a">2D</tspan> (n)</text>
<text x="575.8" y="471.4" font-size="10">This Work</text>
<line x1="620.6" y1="467.9" x2="633" y2="467.9" stroke="#000" stroke-width="1"/>
<path d="M636.4,467.9 L631.4,465.4 L631.4,470.4 Z" fill="#000"/>
<text x="604.3" y="533.9" font-size="10"><tspan fill="#2a6fdc">Polymer</tspan> (p)</text>
<text x="602.6" y="578.7" font-size="10"><tspan fill="#f08a30">Polymer</tspan> (n)</text>
</svg></body></html>
